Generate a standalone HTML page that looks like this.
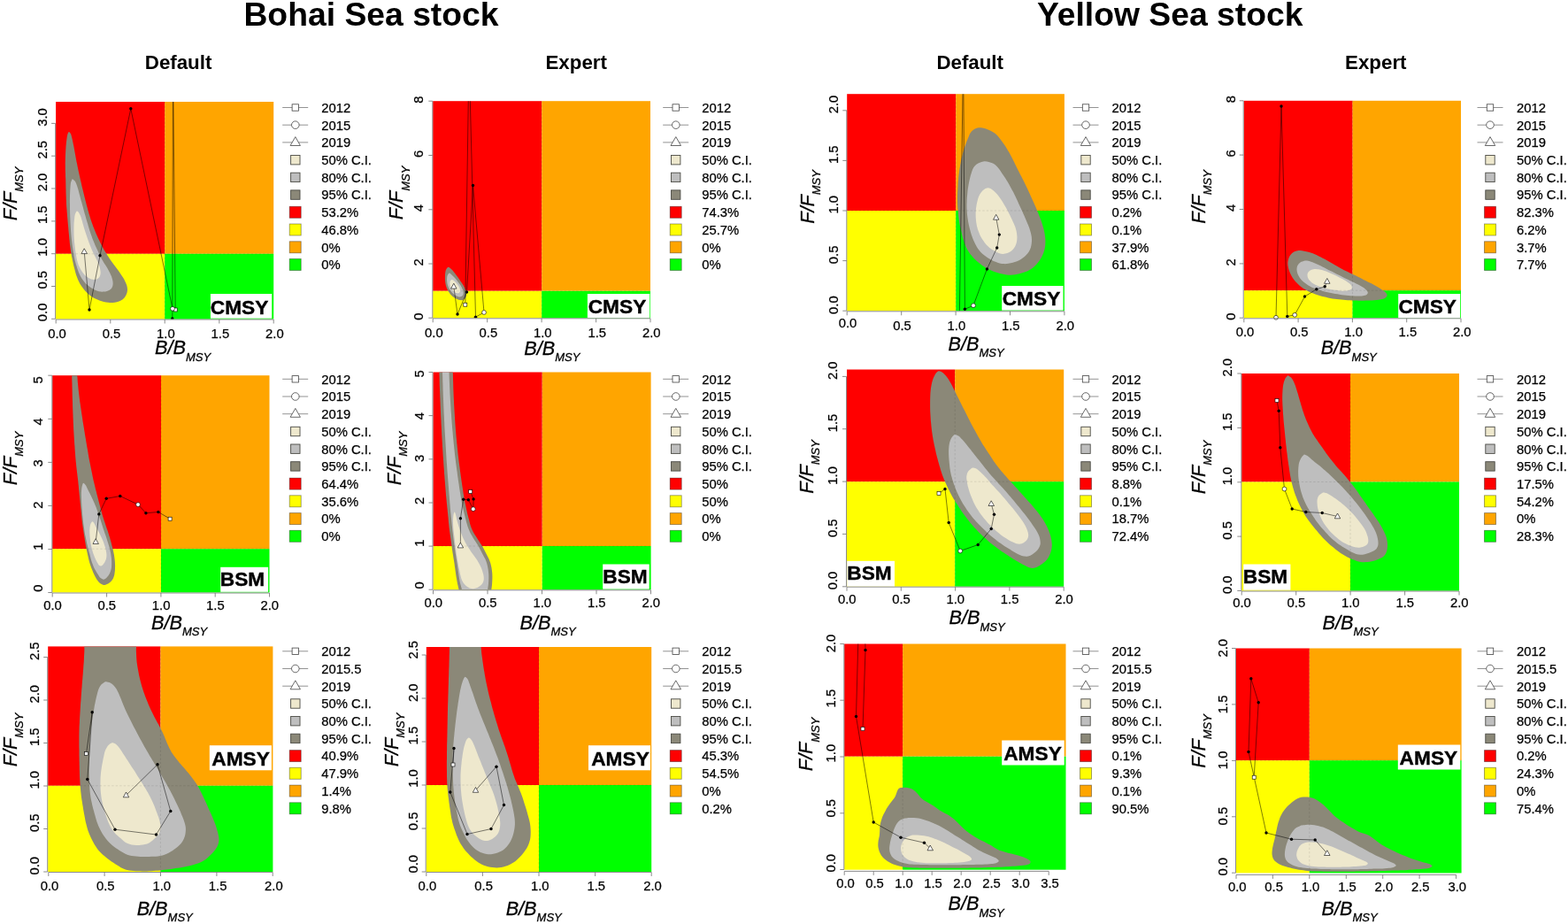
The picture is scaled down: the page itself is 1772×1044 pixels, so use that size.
<!DOCTYPE html>
<html lang="en">
<head>
<meta charset="utf-8">
<title>Kobe plots: Bohai Sea stock and Yellow Sea stock</title>
<style>
html,body{margin:0;padding:0;background:#fff;}
body{width:1772px;height:1044px;overflow:hidden;}
svg{display:block;font-family:"Liberation Sans",Arial,Helvetica,sans-serif;}
.t1{font-size:37.3px;font-weight:bold;fill:#000;}
.t2{font-size:22.3px;font-weight:bold;fill:#000;}
.ml{font-size:22.7px;font-weight:bold;fill:#000;stroke:#000;stroke-width:0.4px;}
.tk{font-size:14.8px;fill:#000;stroke:#000;stroke-width:0.25px;}
.lt{font-size:14.8px;fill:#000;stroke:#000;stroke-width:0.25px;}
.at{font-size:21.7px;font-style:italic;fill:#000;stroke:#000;stroke-width:0.3px;}
.sub{font-size:13px;}
.ax{stroke:#6e6e6e;stroke-width:0.8;fill:none;}
.ll{stroke:#777;stroke-width:0.8;fill:none;}
.lm{fill:#fff;stroke:#444;stroke-width:0.8;}
.lb{stroke:#4a4a44;stroke-width:0.9;}
.lq{stroke:rgba(0,0,0,0.4);stroke-width:0.9;}
</style>
</head>
<body>
<svg width="1772" height="1044" viewBox="0 0 1772 1044">
<rect width="1772" height="1044" fill="#fff"/>
<text x="419.5" y="29.4" class="t1" text-anchor="middle">Bohai Sea stock</text>
<text x="1322.2" y="29.4" class="t1" text-anchor="middle">Yellow Sea stock</text>
<text x="201.6" y="78.2" class="t2" text-anchor="middle">Default</text>
<text x="651.2" y="78.2" class="t2" text-anchor="middle">Expert</text>
<text x="1096.2" y="78.2" class="t2" text-anchor="middle">Default</text>
<text x="1554.8" y="78.2" class="t2" text-anchor="middle">Expert</text>
<g>
<clipPath id="c0"><rect x="63.1" y="115" width="246.2" height="245.5"/></clipPath>
<rect x="63.1" y="115" width="123.2" height="171.8" fill="#ff0000"/>
<rect x="186.2" y="115" width="123" height="171.8" fill="#ffa500"/>
<rect x="63.1" y="286.8" width="123.2" height="73.7" fill="#ffff00"/>
<rect x="186.2" y="286.8" width="123" height="73.7" fill="#00ff00"/>
<g clip-path="url(#c0)">
<path d="M77.8 148.9C77.2 149.1 76.6 150.9 76.2 152.3C75.8 153.7 75.6 155.6 75.4 157.2C75.1 158.9 75 160.5 74.8 162.2C74.6 163.9 74.5 165.5 74.4 167.2C74.3 168.8 74.2 170.5 74.1 172.2C74 173.8 74 175.5 73.9 177.2C73.8 178.8 73.8 180.5 73.8 182.2C73.7 183.8 73.7 185.5 73.8 187.2C73.8 188.8 73.8 190.5 73.8 192.2C73.9 193.8 73.9 195.5 74 197.2C74 198.8 74.1 200.5 74.2 202.2C74.2 203.8 74.3 205.5 74.3 207.2C74.3 208.8 74.4 210.5 74.4 212.2C74.5 213.8 74.5 215.5 74.5 217.2C74.6 218.8 74.6 220.5 74.7 222.2C74.7 223.8 74.8 225.5 74.9 227.2C74.9 228.8 75 230.5 75.1 232.2C75.2 233.8 75.4 235.5 75.5 237.1C75.6 238.8 75.7 240.5 75.9 242.1C76 243.8 76.1 245.5 76.3 247.1C76.4 248.8 76.6 250.4 76.7 252.1C76.9 253.8 77 255.4 77.2 257.1C77.3 258.7 77.5 260.4 77.6 262.1C77.8 263.7 77.9 265.4 78.1 267C78.2 268.7 78.4 270.4 78.6 272C78.7 273.7 78.9 275.3 79.1 277C79.3 278.6 79.6 280.3 79.8 281.9C80 283.6 80.3 285.2 80.6 286.9C80.8 288.5 81.1 290.2 81.5 291.8C81.8 293.4 82.1 295.1 82.5 296.7C82.9 298.3 83.2 299.9 83.6 301.6C84.1 303.2 84.5 304.8 84.9 306.4C85.4 308 85.8 309.6 86.3 311.2C86.9 312.8 87.4 314.3 88.1 315.9C88.8 317.4 89.5 318.9 90.3 320.4C91.1 321.8 92 323.2 93 324.6C93.9 325.9 95 327.2 96.1 328.4C97.2 329.7 98.4 330.8 99.7 331.9C100.9 333 102.2 334.1 103.6 335C105 336 106.4 336.9 107.9 337.6C109.3 338.4 110.9 339 112.4 339.6C114 340.1 115.6 340.6 117.2 340.9C118.9 341.3 120.5 341.5 122.2 341.7C123.8 341.9 125.5 342 127.2 341.9C128.8 341.8 130.5 341.7 132.1 341.3C133.7 340.9 135.3 340.3 136.7 339.5C138.1 338.7 139.4 337.6 140.5 336.4C141.5 335.2 142.4 333.7 143 332.2C143.6 330.7 144 329 144 327.4C144.1 325.8 143.7 324.1 143.3 322.5C142.8 321 142.1 319.4 141.4 317.9C140.7 316.4 139.8 315 139 313.6C138.1 312.1 137.2 310.8 136.3 309.4C135.3 308 134.4 306.6 133.4 305.3C132.4 303.9 131.4 302.6 130.4 301.3C129.4 300 128.3 298.6 127.4 297.3C126.4 295.9 125.4 294.6 124.5 293.2C123.6 291.8 122.6 290.4 121.7 289C120.9 287.6 120 286.2 119.1 284.8C118.3 283.3 117.4 281.9 116.6 280.4C115.8 279 115 277.5 114.3 276C113.5 274.5 112.8 273 112.1 271.5C111.3 270 110.6 268.5 110 267C109.3 265.5 108.6 264 108 262.4C107.3 260.9 106.7 259.3 106.1 257.8C105.5 256.2 104.9 254.7 104.3 253.1C103.8 251.5 103.2 249.9 102.7 248.4C102.2 246.8 101.7 245.2 101.2 243.6C100.7 242 100.3 240.4 99.8 238.8C99.4 237.2 98.9 235.6 98.5 234C98 232.4 97.6 230.7 97.2 229.1C96.8 227.5 96.4 225.9 96 224.3C95.6 222.7 95.2 221.1 94.8 219.4C94.4 217.8 94 216.2 93.6 214.6C93.2 212.9 92.8 211.3 92.4 209.7C92.1 208.1 91.7 206.5 91.3 204.8C90.9 203.2 90.6 201.6 90.2 200C89.8 198.3 89.5 196.7 89.1 195.1C88.8 193.4 88.4 191.8 88.1 190.2C87.7 188.5 87.4 186.9 87.1 185.3C86.7 183.6 86.4 182 86.1 180.4C85.8 178.7 85.5 177.1 85.2 175.4C84.9 173.8 84.6 172.2 84.3 170.5C84 168.9 83.7 167.3 83.4 165.6C83.1 164 82.7 162.3 82.4 160.7C82.1 159.1 81.7 157.4 81.3 155.8C80.9 154.2 80.5 152.3 79.9 151.1C79.3 149.9 78.4 148.7 77.8 148.9Z" fill="#8b8878"/>
<path d="M81.7 202.5C81.3 203.1 80.5 204.7 80.1 206.1C79.7 207.5 79.7 209.4 79.5 211.1C79.4 212.7 79.3 214.4 79.2 216.1C79.1 217.7 79.1 219.4 79 221.1C79 222.7 78.9 224.4 78.9 226.1C78.9 227.7 78.9 229.4 79 231.1C79 232.8 79 234.4 79 236.1C79.1 237.8 79.1 239.4 79.1 241.1C79.2 242.8 79.2 244.4 79.3 246.1C79.4 247.8 79.4 249.5 79.5 251.1C79.6 252.8 79.7 254.5 79.8 256.1C79.9 257.8 80 259.5 80.1 261.1C80.2 262.8 80.4 264.5 80.5 266.1C80.7 267.8 80.8 269.4 81 271.1C81.2 272.8 81.4 274.4 81.6 276.1C81.8 277.7 82 279.4 82.3 281C82.5 282.7 82.8 284.4 83.1 286C83.4 287.6 83.7 289.3 84 290.9C84.3 292.6 84.7 294.2 85.1 295.8C85.5 297.4 86 299 86.5 300.6C87 302.2 87.5 303.8 88.1 305.4C88.6 307 89.2 308.5 89.9 310C90.6 311.5 91.4 313 92.3 314.4C93.2 315.8 94.2 317.2 95.3 318.4C96.3 319.7 97.6 320.9 98.8 322C100 323.1 101.4 324.1 102.7 325.1C104.1 326 105.5 326.9 107 327.6C108.5 328.3 110.1 328.8 111.7 329.2C113.3 329.5 115 329.7 116.7 329.6C118.3 329.6 120.1 329.4 121.5 328.8C123 328.2 124.6 327.4 125.6 326.3C126.6 325.1 127.3 323.5 127.5 321.9C127.8 320.4 127.6 318.6 127.3 317C127.1 315.4 126.5 313.8 126 312.2C125.4 310.7 124.6 309.2 123.9 307.7C123.1 306.2 122.3 304.7 121.5 303.3C120.6 301.9 119.7 300.5 118.8 299.1C117.9 297.7 117 296.2 116.2 294.8C115.4 293.3 114.6 291.9 113.8 290.4C113 288.9 112.3 287.4 111.6 285.9C110.9 284.4 110.2 282.9 109.5 281.3C108.8 279.8 108.1 278.3 107.4 276.8C106.8 275.2 106.1 273.7 105.5 272.1C104.9 270.6 104.3 269 103.8 267.4C103.2 265.9 102.7 264.3 102.1 262.7C101.6 261.1 101.1 259.5 100.6 257.9C100.1 256.3 99.6 254.7 99.2 253.1C98.7 251.5 98.2 249.9 97.7 248.3C97.3 246.7 96.8 245.1 96.4 243.5C95.9 241.9 95.5 240.3 95 238.7C94.6 237.1 94.1 235.5 93.7 233.8C93.2 232.2 92.8 230.6 92.4 229C91.9 227.4 91.5 225.8 91 224.2C90.6 222.6 90.2 221 89.7 219.3C89.3 217.7 88.9 216.1 88.5 214.5C88 212.9 87.6 211.3 87 209.7C86.4 208.1 85.8 206.4 85 205.1C84.2 203.9 82.8 202.8 82.2 202.4C81.7 202 82.1 201.9 81.7 202.5Z" fill="#bebebe"/>
<path d="M86.6 238.7C86 239.2 85.3 240.9 84.8 242.3C84.4 243.7 84.2 245.5 84.1 247.2C83.9 248.9 83.7 250.5 83.6 252.2C83.5 253.9 83.5 255.5 83.5 257.2C83.4 258.9 83.5 260.5 83.5 262.2C83.5 263.9 83.5 265.5 83.6 267.2C83.7 268.9 83.8 270.6 83.9 272.2C84.1 273.9 84.2 275.5 84.4 277.2C84.6 278.9 84.8 280.5 85 282.2C85.2 283.8 85.5 285.5 85.8 287.1C86 288.8 86.3 290.4 86.7 292.1C87 293.7 87.4 295.3 87.9 296.9C88.4 298.5 89 300.1 89.7 301.6C90.4 303.1 91.2 304.6 92.1 306C93 307.3 94 308.7 95.1 309.9C96.2 311.1 97.4 312.3 98.8 313.2C100.1 314.2 101.7 315 103.2 315.4C104.8 315.8 106.6 316.1 108 315.8C109.5 315.5 111.1 314.6 112 313.5C113 312.4 113.4 310.6 113.6 309.1C113.8 307.5 113.4 305.8 113.2 304.2C112.9 302.5 112.4 300.9 111.8 299.3C111.3 297.8 110.6 296.2 109.9 294.7C109.2 293.2 108.4 291.7 107.7 290.3C106.9 288.8 106.1 287.3 105.4 285.8C104.7 284.3 104 282.7 103.4 281.2C102.7 279.7 102.1 278.1 101.5 276.6C100.9 275 100.3 273.4 99.8 271.9C99.2 270.3 98.7 268.7 98.1 267.1C97.6 265.5 97.1 264 96.6 262.4C96 260.8 95.5 259.2 95 257.6C94.6 256 94.1 254.4 93.6 252.8C93.2 251.2 92.8 249.5 92.3 248C91.8 246.4 91.3 244.7 90.7 243.2C90 241.8 89 240 88.3 239.2C87.7 238.5 87.2 238.2 86.6 238.7Z" fill="#eee8cd"/>
<path d="M63.1 286.8H309.2M186.2 115V360.5" fill="none" stroke="#000" stroke-opacity="0.16" stroke-width="0.6" stroke-dasharray="2.5 2"/>
<path d="M198.2 350L195.8 100" fill="none" stroke="#000" stroke-opacity="0.85" stroke-width="0.6"/>
<path d="M195.5 100L194.8 360" fill="none" stroke="#000" stroke-opacity="0.85" stroke-width="0.6"/>
<path d="M195 348.8L147.8 122.8L113 288.8L101 350L95.2 284.2" fill="none" stroke="#000" stroke-opacity="0.85" stroke-width="0.6"/>
<circle cx="194.8" cy="360" r="1.7" fill="#000"/>
<circle cx="147.8" cy="122.8" r="1.7" fill="#000"/>
<circle cx="113" cy="288.8" r="1.7" fill="#000"/>
<circle cx="101" cy="350" r="1.7" fill="#000"/>
</g>
<rect x="196.2" y="348" width="4" height="4" fill="#fff" stroke="#000" stroke-width="0.6"/>
<circle cx="195" cy="348.8" r="2.4" fill="#fff" stroke="#000" stroke-width="0.6"/>
<path d="M95.2 280.8 L98.5 286.6 L92 286.6 Z" fill="#fff" stroke="#000" stroke-width="0.6"/>
<rect x="237.9" y="332" width="69.3" height="27.7" fill="#fff"/>
<text x="270.6" y="354.9" class="ml" text-anchor="middle">CMSY</text>
<path d="M63.2 361H309.2" class="ax"/>
<path d="M63.2 361v4.5" class="ax"/>
<text x="64.5" y="382" class="tk" text-anchor="middle">0.0</text>
<path d="M124.8 361v4.5" class="ax"/>
<text x="126" y="382" class="tk" text-anchor="middle">0.5</text>
<path d="M186.2 361v4.5" class="ax"/>
<text x="187.4" y="382" class="tk" text-anchor="middle">1.0</text>
<path d="M247.8 361v4.5" class="ax"/>
<text x="248.9" y="382" class="tk" text-anchor="middle">1.5</text>
<path d="M309.2 361v4.5" class="ax"/>
<text x="310.4" y="382" class="tk" text-anchor="middle">2.0</text>
<path d="M62.6 360.3V139.4" class="ax"/>
<path d="M62.6 360.3h-4.5" class="ax"/>
<text transform="translate(52.8 352.9) rotate(-90)" class="tk" text-anchor="middle">0.0</text>
<path d="M62.6 323.5h-4.5" class="ax"/>
<text transform="translate(52.8 316.2) rotate(-90)" class="tk" text-anchor="middle">0.5</text>
<path d="M62.6 286.7h-4.5" class="ax"/>
<text transform="translate(52.8 279.4) rotate(-90)" class="tk" text-anchor="middle">1.0</text>
<path d="M62.6 249.9h-4.5" class="ax"/>
<text transform="translate(52.8 242.7) rotate(-90)" class="tk" text-anchor="middle">1.5</text>
<path d="M62.6 213h-4.5" class="ax"/>
<text transform="translate(52.8 206) rotate(-90)" class="tk" text-anchor="middle">2.0</text>
<path d="M62.6 176.2h-4.5" class="ax"/>
<text transform="translate(52.8 169.2) rotate(-90)" class="tk" text-anchor="middle">2.5</text>
<path d="M62.6 139.4h-4.5" class="ax"/>
<text transform="translate(52.8 132.5) rotate(-90)" class="tk" text-anchor="middle">3.0</text>
<text x="206.5" y="400.2" class="at" text-anchor="middle">B/B<tspan class="sub" dy="7.6">MSY</tspan></text>
<text transform="translate(18.8 219) rotate(-90)" class="at" text-anchor="middle">F/F<tspan class="sub" dy="7.6">MSY</tspan></text>
<path d="M319.2 121.5H348.2" class="ll"/>
<rect x="330.1" y="117.8" width="7.4" height="7.4" class="lm"/>
<text x="363.2" y="126.8" class="lt">2012</text>
<path d="M319.2 141.2H348.2" class="ll"/>
<circle cx="333.8" cy="141.2" r="4.3" class="lm"/>
<text x="363.2" y="146.5" class="lt">2015</text>
<path d="M319.2 160.9H348.2" class="ll"/>
<path d="M333.8 154.6L339.4 164.5L328.1 164.5Z" class="lm"/>
<text x="363.2" y="166.2" class="lt">2019</text>
<rect x="328.6" y="175.5" width="10.4" height="10.4" fill="#eee8cd" class="lb"/>
<text x="363.2" y="186" class="lt">50% C.I.</text>
<rect x="328.6" y="195.2" width="10.4" height="10.4" fill="#bebebe" class="lb"/>
<text x="363.2" y="205.7" class="lt">80% C.I.</text>
<rect x="328.6" y="214.9" width="10.4" height="10.4" fill="#8b8878" class="lb"/>
<text x="363.2" y="225.4" class="lt">95% C.I.</text>
<rect x="327.2" y="233.3" width="13" height="13" fill="#ff0000" class="lq"/>
<text x="363.2" y="245.1" class="lt">53.2%</text>
<rect x="327.2" y="253" width="13" height="13" fill="#ffff00" class="lq"/>
<text x="363.2" y="264.8" class="lt">46.8%</text>
<rect x="327.2" y="272.8" width="13" height="13" fill="#ffa500" class="lq"/>
<text x="363.2" y="284.6" class="lt">0%</text>
<rect x="327.2" y="292.5" width="13" height="13" fill="#00ff00" class="lq"/>
<text x="363.2" y="304.3" class="lt">0%</text>
</g>
<g>
<clipPath id="c1"><rect x="489.2" y="114.2" width="245.8" height="245"/></clipPath>
<rect x="489.2" y="114.2" width="123" height="214.5" fill="#ff0000"/>
<rect x="612.2" y="114.2" width="122.8" height="214.5" fill="#ffa500"/>
<rect x="489.2" y="328.8" width="123" height="30.5" fill="#ffff00"/>
<rect x="612.2" y="328.8" width="122.8" height="30.5" fill="#00ff00"/>
<g clip-path="url(#c1)">
<path d="M506.1 301.9C505.4 302.4 504.4 303.9 503.8 305.3C503.3 306.7 503.2 308.6 503 310.2C502.9 311.9 502.9 313.6 502.9 315.2C503 316.9 503.1 318.6 503.4 320.2C503.7 321.9 504.1 323.5 504.7 325.1C505.3 326.6 506 328.2 506.9 329.6C507.8 331 508.8 332.3 510 333.5C511.1 334.7 512.5 335.7 513.8 336.6C515.2 337.5 516.8 338.4 518.3 338.8C519.8 339.2 521.7 339.6 523 339.1C524.3 338.7 525.6 337.4 526.2 336.1C526.9 334.8 527 332.9 526.9 331.3C526.8 329.7 526.3 328.1 525.7 326.5C525.1 325 524.2 323.5 523.4 322.1C522.5 320.6 521.6 319.3 520.6 317.9C519.7 316.5 518.7 315.1 517.8 313.7C516.8 312.4 515.8 311 514.8 309.7C513.7 308.4 512.8 307 511.7 305.7C510.6 304.5 509.1 303 508.2 302.4C507.3 301.7 506.8 301.4 506.1 301.9Z" fill="#8b8878"/>
<path d="M507.4 308.8C506.7 309.3 505.8 310.7 505.4 312.1C505.1 313.5 505 315.4 505.1 317.1C505.2 318.7 505.4 320.4 505.9 322C506.3 323.6 507 325.1 507.8 326.6C508.6 328 509.6 329.3 510.8 330.5C511.9 331.7 513.2 332.9 514.6 333.7C516 334.5 517.7 335.3 519.1 335.4C520.5 335.4 522.2 334.8 522.9 333.8C523.7 332.8 523.8 330.9 523.6 329.4C523.4 327.9 522.5 326.3 521.8 324.8C521 323.3 520.1 321.9 519.1 320.6C518.1 319.2 517.1 317.9 516.1 316.6C515 315.3 513.9 314 512.8 312.8C511.7 311.6 510.3 310.1 509.4 309.4C508.5 308.7 508 308.3 507.4 308.8Z" fill="#bebebe"/>
<path d="M510 316.2C509.7 316.4 509.2 316.7 508.9 317.2C508.7 317.6 508.5 318.2 508.4 318.8C508.3 319.4 508.3 320.1 508.3 320.7C508.3 321.3 508.5 322 508.6 322.6C508.8 323.3 509 323.9 509.3 324.5C509.6 325.1 509.9 325.7 510.2 326.2C510.6 326.8 511 327.3 511.4 327.8C511.8 328.3 512.3 328.8 512.8 329.2C513.3 329.7 513.8 330.1 514.4 330.4C514.9 330.7 515.5 331 516.1 331.1C516.7 331.3 517.3 331.4 517.8 331.3C518.3 331.2 518.8 330.9 519.1 330.6C519.5 330.2 519.7 329.7 519.9 329.2C520 328.7 520 328 519.9 327.4C519.8 326.8 519.6 326.2 519.4 325.6C519.2 325 518.9 324.4 518.6 323.8C518.2 323.2 517.9 322.6 517.5 322.1C517.1 321.5 516.7 321 516.3 320.5C515.9 319.9 515.5 319.4 515 318.9C514.5 318.4 514.1 318 513.6 317.5C513.1 317.1 512.6 316.7 512.1 316.5C511.6 316.2 511 316.1 510.6 316C510.3 316 510.2 316 510 316.2Z" fill="#eee8cd"/>
<path d="M489.2 328.8H735M612.2 114.2V359.2" fill="none" stroke="#000" stroke-opacity="0.16" stroke-width="0.6" stroke-dasharray="2.5 2"/>
<path d="M525.8 344.2L529.5 100" fill="none" stroke="#000" stroke-opacity="0.85" stroke-width="0.6"/>
<path d="M531 100L537.5 358.2L547 353L534.5 209.5L527.5 330L517 355L512.8 323.8" fill="none" stroke="#000" stroke-opacity="0.85" stroke-width="0.6"/>
<circle cx="537.5" cy="358.2" r="1.7" fill="#000"/>
<circle cx="534.5" cy="209.5" r="1.7" fill="#000"/>
<circle cx="527.5" cy="330" r="1.7" fill="#000"/>
<circle cx="517" cy="355" r="1.7" fill="#000"/>
</g>
<rect x="523.8" y="342.2" width="4" height="4" fill="#fff" stroke="#000" stroke-width="0.6"/>
<circle cx="547" cy="353" r="2.4" fill="#fff" stroke="#000" stroke-width="0.6"/>
<path d="M512.8 320.2 L516 326.1 L509.6 326.1 Z" fill="#fff" stroke="#000" stroke-width="0.6"/>
<rect x="663.9" y="332" width="70.4" height="27.2" fill="#fff"/>
<text x="697.5" y="353.6" class="ml" text-anchor="middle">CMSY</text>
<path d="M489.2 359.8H735" class="ax"/>
<path d="M489.2 359.8v4.5" class="ax"/>
<text x="490.4" y="380.8" class="tk" text-anchor="middle">0.0</text>
<path d="M550.7 359.8v4.5" class="ax"/>
<text x="551.9" y="380.8" class="tk" text-anchor="middle">0.5</text>
<path d="M612.1 359.8v4.5" class="ax"/>
<text x="613.3" y="380.8" class="tk" text-anchor="middle">1.0</text>
<path d="M673.6 359.8v4.5" class="ax"/>
<text x="674.8" y="380.8" class="tk" text-anchor="middle">1.5</text>
<path d="M735 359.8v4.5" class="ax"/>
<text x="736.2" y="380.8" class="tk" text-anchor="middle">2.0</text>
<path d="M488.8 359.2V114.2" class="ax"/>
<path d="M488.8 359.2h-4.5" class="ax"/>
<text transform="translate(478 357.6) rotate(-90)" class="tk" text-anchor="middle">0</text>
<path d="M488.8 298h-4.5" class="ax"/>
<text transform="translate(478 296.4) rotate(-90)" class="tk" text-anchor="middle">2</text>
<path d="M488.8 236.8h-4.5" class="ax"/>
<text transform="translate(478 235.2) rotate(-90)" class="tk" text-anchor="middle">4</text>
<path d="M488.8 175.5h-4.5" class="ax"/>
<text transform="translate(478 173.9) rotate(-90)" class="tk" text-anchor="middle">6</text>
<path d="M488.8 114.2h-4.5" class="ax"/>
<text transform="translate(478 112.7) rotate(-90)" class="tk" text-anchor="middle">8</text>
<text x="623.8" y="400.8" class="at" text-anchor="middle">B/B<tspan class="sub" dy="7.6">MSY</tspan></text>
<text transform="translate(455 218) rotate(-90)" class="at" text-anchor="middle">F/F<tspan class="sub" dy="7.6">MSY</tspan></text>
<path d="M749.2 121.5H778.2" class="ll"/>
<rect x="760" y="117.8" width="7.4" height="7.4" class="lm"/>
<text x="793.2" y="126.8" class="lt">2012</text>
<path d="M749.2 141.2H778.2" class="ll"/>
<circle cx="763.8" cy="141.2" r="4.3" class="lm"/>
<text x="793.2" y="146.5" class="lt">2015</text>
<path d="M749.2 160.9H778.2" class="ll"/>
<path d="M763.8 154.6L769.5 164.5L758 164.5Z" class="lm"/>
<text x="793.2" y="166.2" class="lt">2019</text>
<rect x="758.5" y="175.5" width="10.4" height="10.4" fill="#eee8cd" class="lb"/>
<text x="793.2" y="186" class="lt">50% C.I.</text>
<rect x="758.5" y="195.2" width="10.4" height="10.4" fill="#bebebe" class="lb"/>
<text x="793.2" y="205.7" class="lt">80% C.I.</text>
<rect x="758.5" y="214.9" width="10.4" height="10.4" fill="#8b8878" class="lb"/>
<text x="793.2" y="225.4" class="lt">95% C.I.</text>
<rect x="757.2" y="233.3" width="13" height="13" fill="#ff0000" class="lq"/>
<text x="793.2" y="245.1" class="lt">74.3%</text>
<rect x="757.2" y="253" width="13" height="13" fill="#ffff00" class="lq"/>
<text x="793.2" y="264.8" class="lt">25.7%</text>
<rect x="757.2" y="272.8" width="13" height="13" fill="#ffa500" class="lq"/>
<text x="793.2" y="284.6" class="lt">0%</text>
<rect x="757.2" y="292.5" width="13" height="13" fill="#00ff00" class="lq"/>
<text x="793.2" y="304.3" class="lt">0%</text>
</g>
<g>
<clipPath id="c2"><rect x="957.2" y="106.2" width="245.7" height="245"/></clipPath>
<rect x="957.2" y="106.2" width="123" height="131.8" fill="#ff0000"/>
<rect x="1080.2" y="106.2" width="122.7" height="131.8" fill="#ffa500"/>
<rect x="957.2" y="238" width="123" height="113.2" fill="#ffff00"/>
<rect x="1080.2" y="238" width="122.7" height="113.2" fill="#00ff00"/>
<g clip-path="url(#c2)">
<path d="M1107.7 144.2C1109 144.3 1111 144.6 1112.5 145C1114.1 145.4 1115.7 146.1 1117.2 146.7C1118.7 147.4 1120.3 148.1 1121.7 148.9C1123.1 149.7 1124.5 150.7 1125.7 151.8C1127 152.9 1128 154.2 1129.1 155.5C1130.2 156.8 1131.1 158.1 1132.1 159.5C1133.1 160.8 1134 162.2 1135 163.6C1135.9 165 1136.8 166.4 1137.7 167.8C1138.6 169.2 1139.4 170.7 1140.3 172.1C1141.1 173.5 1141.9 175 1142.7 176.5C1143.5 177.9 1144.3 179.4 1145 180.9C1145.8 182.4 1146.5 183.9 1147.2 185.4C1147.9 186.9 1148.7 188.4 1149.4 189.9C1150.2 191.4 1150.9 192.9 1151.7 194.4C1152.4 195.9 1153.2 197.4 1153.9 198.8C1154.7 200.3 1155.4 201.8 1156.2 203.3C1156.9 204.8 1157.7 206.3 1158.4 207.8C1159.1 209.3 1159.9 210.8 1160.6 212.3C1161.3 213.8 1162 215.3 1162.7 216.8C1163.4 218.3 1164.1 219.9 1164.8 221.4C1165.5 222.9 1166.2 224.4 1166.9 225.9C1167.6 227.5 1168.2 229 1168.9 230.5C1169.6 232 1170.3 233.6 1170.9 235.1C1171.6 236.6 1172.2 238.2 1172.8 239.7C1173.5 241.3 1174.1 242.8 1174.7 244.4C1175.3 245.9 1175.9 247.5 1176.5 249.1C1177 250.6 1177.5 252.2 1178 253.8C1178.5 255.4 1179 257 1179.4 258.6C1179.8 260.2 1180.2 261.9 1180.5 263.5C1180.8 265.1 1181 266.8 1181.2 268.5C1181.4 270.1 1181.4 271.8 1181.4 273.4C1181.4 275.1 1181.3 276.8 1181.1 278.4C1180.8 280.1 1180.5 281.7 1180 283.3C1179.6 284.9 1179 286.5 1178.3 288C1177.6 289.5 1176.9 291 1176 292.4C1175.1 293.8 1174.2 295.2 1173.1 296.5C1172.1 297.8 1171 299 1169.8 300.2C1168.6 301.4 1167.3 302.5 1166 303.4C1164.6 304.4 1163.2 305.2 1161.7 305.9C1160.2 306.6 1158.6 307.2 1157 307.8C1155.5 308.3 1153.8 308.8 1152.2 309.2C1150.6 309.6 1149 309.9 1147.3 310.2C1145.7 310.4 1144 310.6 1142.4 310.7C1140.7 310.7 1139 310.6 1137.4 310.4C1135.7 310.3 1134.1 310 1132.5 309.6C1130.8 309.3 1129.2 308.8 1127.6 308.3C1126 307.8 1124.4 307.3 1122.9 306.7C1121.3 306.1 1119.8 305.5 1118.3 304.8C1116.8 304 1115.3 303.2 1113.9 302.4C1112.4 301.5 1111 300.6 1109.7 299.7C1108.3 298.7 1107 297.7 1105.7 296.6C1104.4 295.6 1103.2 294.5 1102 293.3C1100.8 292.1 1099.6 290.9 1098.6 289.6C1097.5 288.4 1096.4 287.1 1095.5 285.7C1094.5 284.3 1093.6 282.9 1092.9 281.5C1092.1 280 1091.5 278.4 1090.8 276.9C1090.2 275.4 1089.7 273.8 1089.2 272.2C1088.6 270.6 1088.2 269 1087.7 267.4C1087.3 265.8 1086.9 264.1 1086.6 262.5C1086.2 260.9 1085.8 259.3 1085.5 257.6C1085.1 256 1084.7 254.4 1084.4 252.7C1084.1 251.1 1083.8 249.5 1083.6 247.8C1083.4 246.2 1083.2 244.5 1083 242.8C1082.8 241.2 1082.7 239.5 1082.6 237.8C1082.4 236.2 1082.3 234.5 1082.2 232.9C1082.1 231.2 1082.1 229.5 1082 227.9C1082 226.2 1082 224.5 1082 222.8C1082 221.2 1082.1 219.5 1082.1 217.8C1082.2 216.2 1082.3 214.5 1082.4 212.8C1082.5 211.2 1082.6 209.5 1082.6 207.8C1082.7 206.2 1082.8 204.5 1083 202.8C1083.1 201.2 1083.2 199.5 1083.4 197.9C1083.6 196.2 1083.9 194.6 1084.1 192.9C1084.3 191.3 1084.6 189.6 1084.9 188C1085.2 186.3 1085.4 184.7 1085.8 183C1086.1 181.4 1086.4 179.8 1086.8 178.1C1087.2 176.5 1087.6 174.9 1088 173.3C1088.5 171.7 1088.9 170.1 1089.4 168.5C1089.9 166.9 1090.5 165.3 1091 163.7C1091.6 162.2 1092.1 160.6 1092.8 159C1093.4 157.5 1094 155.9 1094.7 154.4C1095.3 152.9 1095.9 151.3 1096.8 150C1097.8 148.6 1098.9 147.5 1100.3 146.6C1101.6 145.7 1103.5 145 1104.8 144.6C1106 144.2 1106.4 144.1 1107.7 144.2Z" fill="#8b8878"/>
<path d="M1112.5 182.2C1114.1 182.1 1115.8 182.5 1117.4 182.9C1119 183.3 1120.6 183.9 1122 184.6C1123.5 185.4 1124.9 186.3 1126.1 187.4C1127.3 188.5 1128.2 189.9 1129.3 191.3C1130.3 192.6 1131.2 194 1132.1 195.4C1133.1 196.7 1134 198.1 1134.9 199.5C1135.8 200.9 1136.7 202.3 1137.6 203.8C1138.5 205.2 1139.3 206.6 1140.2 208C1141 209.5 1141.8 210.9 1142.6 212.4C1143.4 213.9 1144.2 215.3 1145 216.8C1145.7 218.3 1146.4 219.8 1147.2 221.3C1147.9 222.8 1148.6 224.3 1149.3 225.8C1150 227.4 1150.7 228.9 1151.4 230.4C1152.1 231.9 1152.8 233.4 1153.5 234.9C1154.2 236.5 1154.9 238 1155.6 239.5C1156.2 241 1156.9 242.6 1157.6 244.1C1158.2 245.6 1158.9 247.2 1159.6 248.7C1160.2 250.2 1160.9 251.7 1161.5 253.3C1162.2 254.8 1162.8 256.4 1163.4 257.9C1163.9 259.5 1164.4 261.1 1164.8 262.7C1165.2 264.4 1165.6 266 1165.8 267.6C1166 269.3 1166 271 1166 272.6C1165.9 274.3 1165.8 276 1165.4 277.6C1165.1 279.2 1164.6 280.8 1163.9 282.3C1163.2 283.8 1162.3 285.2 1161.2 286.5C1160.2 287.8 1159 289 1157.8 290.1C1156.5 291.1 1155.1 292.1 1153.7 293C1152.3 293.8 1150.8 294.5 1149.3 295.2C1147.7 295.8 1146.1 296.3 1144.5 296.8C1142.9 297.2 1141.3 297.6 1139.6 297.8C1138 298 1136.3 298.2 1134.7 298.1C1133 298 1131.4 297.8 1129.7 297.4C1128.1 297 1126.6 296.4 1125 295.8C1123.5 295.2 1122 294.5 1120.5 293.7C1119 292.9 1117.6 292.1 1116.2 291.2C1114.8 290.2 1113.4 289.3 1112.1 288.2C1110.8 287.2 1109.5 286.1 1108.4 284.9C1107.2 283.7 1106.2 282.4 1105.2 281.1C1104.3 279.7 1103.5 278.3 1102.7 276.8C1101.9 275.3 1101.2 273.8 1100.5 272.3C1099.8 270.8 1099.2 269.2 1098.6 267.6C1098.1 266.1 1097.6 264.5 1097.1 262.9C1096.7 261.3 1096.2 259.7 1095.8 258C1095.4 256.4 1095 254.8 1094.7 253.2C1094.3 251.5 1094 249.9 1093.8 248.2C1093.5 246.6 1093.3 244.9 1093.1 243.3C1092.9 241.6 1092.8 240 1092.7 238.3C1092.6 236.6 1092.5 235 1092.5 233.3C1092.5 231.6 1092.5 230 1092.6 228.3C1092.6 226.6 1092.7 224.9 1092.8 223.3C1093 221.6 1093.1 220 1093.3 218.3C1093.4 216.6 1093.6 215 1093.8 213.3C1094.1 211.7 1094.3 210 1094.6 208.4C1094.9 206.7 1095.2 205.1 1095.6 203.5C1096 201.8 1096.4 200.2 1096.8 198.6C1097.3 197 1097.7 195.4 1098.3 193.8C1098.8 192.3 1099.3 190.6 1100.2 189.2C1101 187.9 1102.1 186.7 1103.4 185.7C1104.7 184.7 1106.2 183.9 1107.8 183.4C1109.3 182.8 1110.9 182.3 1112.5 182.2Z" fill="#bebebe"/>
<path d="M1116.6 212.3C1118 212.3 1119.6 213.2 1120.9 214C1122.3 214.8 1123.5 216.1 1124.7 217.3C1125.9 218.4 1127 219.7 1128.1 221C1129.1 222.3 1130.1 223.6 1131 225C1131.9 226.4 1132.8 227.8 1133.7 229.2C1134.6 230.7 1135.4 232.1 1136.2 233.6C1137.1 235 1137.9 236.5 1138.7 238C1139.4 239.4 1140.2 240.9 1141 242.4C1141.7 243.9 1142.4 245.4 1143.1 246.9C1143.8 248.5 1144.5 250 1145.2 251.5C1145.9 253 1146.6 254.6 1147.2 256.1C1147.7 257.7 1148.2 259.3 1148.6 260.9C1149 262.5 1149.2 264.2 1149.3 265.9C1149.5 267.5 1149.5 269.2 1149.3 270.8C1149.2 272.5 1148.9 274.2 1148.3 275.7C1147.8 277.3 1147.1 278.8 1146.2 280.1C1145.2 281.5 1144 282.7 1142.7 283.7C1141.4 284.6 1139.9 285.5 1138.4 286.1C1136.9 286.6 1135.2 286.9 1133.6 286.9C1132 286.9 1130.3 286.4 1128.7 285.9C1127.2 285.4 1125.7 284.6 1124.2 283.8C1122.7 283 1121.3 282.1 1120 281.2C1118.6 280.2 1117.3 279.1 1116.2 277.9C1115 276.8 1113.8 275.5 1112.8 274.2C1111.8 272.9 1110.8 271.5 1109.9 270.1C1109.1 268.7 1108.3 267.2 1107.5 265.7C1106.8 264.2 1106.2 262.7 1105.6 261.1C1105.1 259.5 1104.6 257.9 1104.2 256.3C1103.8 254.7 1103.5 253 1103.3 251.4C1103 249.7 1102.9 248 1102.8 246.4C1102.7 244.7 1102.6 243 1102.6 241.4C1102.7 239.7 1102.8 238 1102.9 236.4C1103.1 234.7 1103.3 233.1 1103.6 231.4C1103.9 229.8 1104.3 228.1 1104.7 226.5C1105.1 224.9 1105.6 223.3 1106.2 221.8C1106.9 220.3 1107.7 218.8 1108.7 217.5C1109.7 216.2 1110.9 214.9 1112.2 214C1113.6 213.2 1115.1 212.3 1116.6 212.3Z" fill="#eee8cd"/>
<path d="M957.2 238H1202.9M1080.2 106.2V351.2" fill="none" stroke="#000" stroke-opacity="0.16" stroke-width="0.6" stroke-dasharray="2.5 2"/>
<path d="M1084.4 351.4L1088 104" fill="none" stroke="#000" stroke-opacity="0.85" stroke-width="0.6"/>
<path d="M1088.9 104L1090.4 349.3L1100 345.2L1115.4 304L1126.7 280L1129.3 265.1L1125.7 245.9" fill="none" stroke="#000" stroke-opacity="0.85" stroke-width="0.6"/>
<circle cx="1090.4" cy="349.3" r="1.7" fill="#000"/>
<circle cx="1115.4" cy="304" r="1.7" fill="#000"/>
<circle cx="1126.7" cy="280" r="1.7" fill="#000"/>
<circle cx="1129.3" cy="265.1" r="1.7" fill="#000"/>
</g>
<circle cx="1100" cy="345.2" r="2.4" fill="#fff" stroke="#000" stroke-width="0.6"/>
<path d="M1125.7 242.4 L1128.9 248.2 L1122.5 248.2 Z" fill="#fff" stroke="#000" stroke-width="0.6"/>
<rect x="1132.2" y="323" width="69.3" height="27.6" fill="#fff"/>
<text x="1165.5" y="344.9" class="ml" text-anchor="middle">CMSY</text>
<path d="M957.2 351.8H1202.9" class="ax"/>
<path d="M957.2 351.8v4.5" class="ax"/>
<text x="958" y="369.9" class="tk" text-anchor="middle">0.0</text>
<path d="M1018.7 351.8v4.5" class="ax"/>
<text x="1019.5" y="373" class="tk" text-anchor="middle">0.5</text>
<path d="M1080.1 351.8v4.5" class="ax"/>
<text x="1080.9" y="372.8" class="tk" text-anchor="middle">1.0</text>
<path d="M1141.5 351.8v4.5" class="ax"/>
<text x="1142.3" y="372.8" class="tk" text-anchor="middle">1.5</text>
<path d="M1202.9 351.8v4.5" class="ax"/>
<text x="1203.7" y="372.8" class="tk" text-anchor="middle">2.0</text>
<path d="M956.8 351.2V124.8" class="ax"/>
<path d="M956.8 351.2h-4.5" class="ax"/>
<text transform="translate(947.2 344.6) rotate(-90)" class="tk" text-anchor="middle">0.0</text>
<path d="M956.8 294.6h-4.5" class="ax"/>
<text transform="translate(947.2 287.9) rotate(-90)" class="tk" text-anchor="middle">0.5</text>
<path d="M956.8 238h-4.5" class="ax"/>
<text transform="translate(947.2 231.3) rotate(-90)" class="tk" text-anchor="middle">1.0</text>
<path d="M956.8 181.4h-4.5" class="ax"/>
<text transform="translate(947.2 174.7) rotate(-90)" class="tk" text-anchor="middle">1.5</text>
<path d="M956.8 124.8h-4.5" class="ax"/>
<text transform="translate(947.2 118) rotate(-90)" class="tk" text-anchor="middle">2.0</text>
<text x="1103" y="395.5" class="at" text-anchor="middle">B/B<tspan class="sub" dy="7.6">MSY</tspan></text>
<text transform="translate(919.8 222.5) rotate(-90)" class="at" text-anchor="middle">F/F<tspan class="sub" dy="7.6">MSY</tspan></text>
<path d="M1212.5 121.5H1241.5" class="ll"/>
<rect x="1223.3" y="117.8" width="7.4" height="7.4" class="lm"/>
<text x="1256.5" y="126.8" class="lt">2012</text>
<path d="M1212.5 141.2H1241.5" class="ll"/>
<circle cx="1227" cy="141.2" r="4.3" class="lm"/>
<text x="1256.5" y="146.5" class="lt">2015</text>
<path d="M1212.5 160.9H1241.5" class="ll"/>
<path d="M1227 154.6L1232.7 164.5L1221.3 164.5Z" class="lm"/>
<text x="1256.5" y="166.2" class="lt">2019</text>
<rect x="1221.8" y="175.5" width="10.4" height="10.4" fill="#eee8cd" class="lb"/>
<text x="1256.5" y="186" class="lt">50% C.I.</text>
<rect x="1221.8" y="195.2" width="10.4" height="10.4" fill="#bebebe" class="lb"/>
<text x="1256.5" y="205.7" class="lt">80% C.I.</text>
<rect x="1221.8" y="214.9" width="10.4" height="10.4" fill="#8b8878" class="lb"/>
<text x="1256.5" y="225.4" class="lt">95% C.I.</text>
<rect x="1220.5" y="233.3" width="13" height="13" fill="#ff0000" class="lq"/>
<text x="1256.5" y="245.1" class="lt">0.2%</text>
<rect x="1220.5" y="253" width="13" height="13" fill="#ffff00" class="lq"/>
<text x="1256.5" y="264.8" class="lt">0.1%</text>
<rect x="1220.5" y="272.8" width="13" height="13" fill="#ffa500" class="lq"/>
<text x="1256.5" y="284.6" class="lt">37.9%</text>
<rect x="1220.5" y="292.5" width="13" height="13" fill="#00ff00" class="lq"/>
<text x="1256.5" y="304.3" class="lt">61.8%</text>
</g>
<g>
<clipPath id="c3"><rect x="59.2" y="424.2" width="245.2" height="245.2"/></clipPath>
<rect x="59.2" y="424.2" width="122.8" height="196" fill="#ff0000"/>
<rect x="182" y="424.2" width="122.5" height="196" fill="#ffa500"/>
<rect x="59.2" y="620.2" width="122.8" height="49.2" fill="#ffff00"/>
<rect x="182" y="620.2" width="122.5" height="49.2" fill="#00ff00"/>
<g clip-path="url(#c3)">
<path d="M86 406.9C86.7 407.9 86.9 409.9 87 411.5C87.2 413.1 87.1 414.9 87.1 416.5C87.1 418.2 87.1 419.9 87.2 421.5C87.2 423.2 87.3 424.9 87.5 426.5C87.6 428.2 87.7 429.9 87.8 431.5C88 433.2 88.1 434.8 88.3 436.5C88.4 438.2 88.6 439.8 88.8 441.5C89 443.1 89.2 444.8 89.4 446.5C89.6 448.1 89.8 449.8 90 451.4C90.2 453.1 90.4 454.7 90.7 456.4C90.9 458 91.2 459.7 91.4 461.3C91.6 463 91.9 464.6 92.1 466.3C92.4 467.9 92.6 469.6 92.9 471.2C93.1 472.9 93.4 474.5 93.6 476.2C93.9 477.8 94.2 479.5 94.4 481.1C94.7 482.8 95 484.4 95.2 486.1C95.5 487.7 95.8 489.3 96 491C96.3 492.6 96.6 494.3 96.9 495.9C97.1 497.6 97.4 499.2 97.7 500.9C98 502.5 98.2 504.2 98.5 505.8C98.8 507.4 99.1 509.1 99.4 510.7C99.6 512.4 99.9 514 100.2 515.7C100.5 517.3 100.8 518.9 101.1 520.6C101.4 522.2 101.8 523.8 102.1 525.5C102.4 527.1 102.8 528.8 103.1 530.4C103.4 532 103.8 533.7 104.1 535.3C104.4 536.9 104.7 538.6 105.1 540.2C105.4 541.8 105.8 543.5 106.2 545.1C106.6 546.7 107 548.3 107.4 549.9C107.8 551.6 108.2 553.2 108.6 554.8C109 556.4 109.4 558 109.8 559.6C110.2 561.3 110.7 562.9 111.1 564.5C111.5 566.1 111.9 567.7 112.3 569.3C112.8 570.9 113.2 572.6 113.6 574.2C114 575.8 114.5 577.4 114.9 579C115.4 580.6 115.8 582.2 116.3 583.8C116.8 585.4 117.3 587 117.8 588.6C118.3 590.2 118.9 591.7 119.4 593.3C119.9 594.9 120.5 596.5 121 598.1C121.6 599.6 122.1 601.2 122.6 602.8C123.1 604.4 123.6 606 124.1 607.6C124.5 609.2 125 610.8 125.5 612.4C125.9 614 126.3 615.6 126.7 617.2C127.2 618.8 127.6 620.5 127.9 622.1C128.3 623.7 128.6 625.4 128.9 627C129.2 628.7 129.4 630.3 129.6 632C129.8 633.6 129.9 635.3 130 636.9C130.1 638.6 130.1 640.3 130 641.9C130 643.6 129.9 645.3 129.6 646.9C129.4 648.6 129.2 650.3 128.6 651.8C128.1 653.3 127.4 654.8 126.3 656.1C125.3 657.3 124 658.4 122.6 659.2C121.2 660 119.6 660.8 118.1 660.9C116.6 660.9 115 660.2 113.8 659.4C112.5 658.6 111.3 657.2 110.3 655.9C109.3 654.6 108.5 653.1 107.7 651.7C106.9 650.2 106.2 648.7 105.5 647.2C104.8 645.6 104.2 644.1 103.6 642.5C103 641 102.4 639.4 101.9 637.8C101.4 636.3 100.9 634.6 100.5 633C100.1 631.4 99.8 629.8 99.4 628.2C99 626.5 98.7 624.9 98.3 623.3C98 621.6 97.7 620 97.3 618.4C97 616.7 96.7 615.1 96.4 613.4C96.1 611.8 95.9 610.2 95.6 608.5C95.3 606.9 95.1 605.2 94.8 603.6C94.6 601.9 94.3 600.3 94.1 598.6C93.8 597 93.6 595.3 93.4 593.7C93.1 592 92.9 590.4 92.7 588.7C92.5 587 92.4 585.4 92.2 583.7C92 582.1 91.9 580.4 91.7 578.7C91.6 577.1 91.4 575.4 91.2 573.8C91.1 572.1 90.9 570.4 90.7 568.8C90.6 567.1 90.4 565.5 90.2 563.8C90.1 562.1 89.9 560.5 89.7 558.8C89.6 557.2 89.4 555.5 89.2 553.8C89.1 552.2 88.9 550.5 88.8 548.9C88.6 547.2 88.4 545.5 88.3 543.9C88.1 542.2 87.9 540.6 87.7 538.9C87.5 537.3 87.3 535.6 87.1 533.9C86.9 532.3 86.7 530.6 86.5 529C86.3 527.3 86.1 525.7 86 524C85.8 522.3 85.6 520.7 85.5 519C85.3 517.4 85.2 515.7 85.1 514C85 512.4 84.8 510.7 84.7 509C84.6 507.4 84.5 505.7 84.4 504C84.2 502.4 84.1 500.7 84 499.1C83.9 497.4 83.8 495.7 83.7 494.1C83.6 492.4 83.5 490.7 83.4 489.1C83.3 487.4 83.2 485.7 83.1 484.1C83.1 482.4 83 480.7 82.9 479.1C82.8 477.4 82.7 475.7 82.7 474.1C82.6 472.4 82.5 470.7 82.5 469.1C82.4 467.4 82.3 465.7 82.3 464.1C82.2 462.4 82.2 460.7 82.1 459.1C82.1 457.4 82 455.7 82 454.1C81.9 452.4 81.9 450.7 81.8 449.1C81.8 447.4 81.7 445.7 81.7 444.1C81.7 442.4 81.6 440.7 81.6 439.1C81.5 437.4 81.5 435.7 81.5 434.1C81.4 432.4 81.4 430.7 81.3 429.1C81.3 427.4 81.3 425.7 81.2 424.1C81.2 422.4 81.1 420.7 81 419.1C81 417.4 80.8 415.7 80.8 414.1C80.8 412.4 80.5 410.5 80.9 409.1C81.2 407.7 82 405.9 82.9 405.5C83.7 405.2 85.4 405.9 86 406.9Z" fill="#8b8878"/>
<path d="M94.6 545.9C95.2 546.1 96.3 547.4 97.1 548.5C97.8 549.7 98.5 551.5 99.2 553C99.9 554.5 100.7 556 101.5 557.5C102.2 559 103 560.5 103.7 562C104.4 563.5 105.1 565 105.8 566.5C106.5 568 107.1 569.6 107.7 571.1C108.4 572.7 109 574.2 109.5 575.8C110.1 577.4 110.7 578.9 111.2 580.5C111.8 582.1 112.3 583.7 112.8 585.3C113.4 586.8 113.9 588.4 114.4 590C114.9 591.6 115.4 593.2 115.9 594.8C116.4 596.4 116.9 598 117.5 599.5C118 601.1 118.5 602.7 119.1 604.3C119.6 605.9 120.2 607.4 120.7 609C121.2 610.6 121.7 612.2 122.2 613.8C122.7 615.4 123.2 617 123.6 618.6C124.1 620.2 124.5 621.8 124.8 623.5C125.2 625.1 125.4 626.7 125.6 628.4C125.9 630 126 631.7 126.1 633.4C126.2 635 126.2 636.7 126.1 638.4C126.1 640 126 641.7 125.6 643.3C125.2 644.9 124.6 646.5 123.9 647.9C123.1 649.4 122.1 650.9 121.1 652C120 653.2 118.6 654.5 117.4 654.7C116.1 654.9 114.7 654 113.6 653.1C112.4 652.2 111.6 650.5 110.7 649.1C109.8 647.7 108.9 646.3 108.1 644.8C107.3 643.4 106.5 641.9 105.8 640.4C105.2 638.8 104.6 637.3 104 635.7C103.5 634.1 103.1 632.5 102.6 630.9C102.2 629.3 101.8 627.7 101.4 626.1C100.9 624.4 100.5 622.8 100.1 621.2C99.7 619.6 99.2 618 98.8 616.4C98.4 614.7 98 613.1 97.7 611.5C97.3 609.9 97 608.2 96.7 606.6C96.3 605 96 603.3 95.7 601.7C95.5 600 95.2 598.4 95 596.7C94.7 595.1 94.5 593.4 94.3 591.8C94.1 590.1 93.9 588.4 93.7 586.8C93.5 585.1 93.4 583.5 93.2 581.8C93 580.1 92.9 578.5 92.8 576.8C92.6 575.2 92.5 573.5 92.4 571.8C92.3 570.2 92.2 568.5 92.1 566.8C92.1 565.2 92 563.5 92 561.8C91.9 560.2 91.9 558.5 91.9 556.8C92 555.2 92.1 553.4 92.3 551.8C92.5 550.2 93 548.2 93.3 547.2C93.7 546.2 94 545.7 94.6 545.9Z" fill="#bebebe"/>
<path d="M104.5 589.2C105.3 589.2 106.1 590.8 106.8 592C107.6 593.3 108.3 595 109.1 596.5C109.9 598 110.7 599.4 111.5 600.9C112.3 602.4 113.1 603.9 113.8 605.4C114.5 606.9 115.3 608.4 115.9 610C116.6 611.5 117.2 613.1 117.7 614.7C118.3 616.3 118.8 617.9 119.2 619.5C119.6 621.1 120 622.8 120.2 624.4C120.4 626.1 120.6 627.8 120.3 629.4C120.1 631 119.6 632.6 118.9 634.1C118.2 635.6 117.3 637.4 116.2 638.2C115.2 639.1 113.8 639.7 112.8 639.3C111.7 638.9 110.8 637.1 110 635.7C109.1 634.4 108.4 632.8 107.7 631.2C107 629.7 106.3 628.2 105.8 626.6C105.2 625 104.7 623.4 104.3 621.8C103.9 620.2 103.5 618.5 103.1 616.9C102.8 615.3 102.5 613.6 102.2 611.9C102 610.3 101.8 608.6 101.6 606.9C101.5 605.3 101.3 603.6 101.3 601.9C101.2 600.2 101.2 598.6 101.4 596.9C101.6 595.3 101.9 593.3 102.4 592C102.9 590.8 103.8 589.2 104.5 589.2Z" fill="#eee8cd"/>
<path d="M59.2 620.2H304.5M182 424.2V669.5" fill="none" stroke="#000" stroke-opacity="0.16" stroke-width="0.6" stroke-dasharray="2.5 2"/>
<path d="M192.1 586.2L178.9 578.5L164.9 579.7L156 570.1L135.8 560.5L120.2 563.3L111.8 580.9L108.2 612.2" fill="none" stroke="#000" stroke-opacity="0.85" stroke-width="0.6"/>
<circle cx="178.9" cy="578.5" r="1.7" fill="#000"/>
<circle cx="164.9" cy="579.7" r="1.7" fill="#000"/>
<circle cx="135.8" cy="560.5" r="1.7" fill="#000"/>
<circle cx="120.2" cy="563.3" r="1.7" fill="#000"/>
<circle cx="111.8" cy="580.9" r="1.7" fill="#000"/>
</g>
<rect x="190.1" y="584.2" width="4" height="4" fill="#fff" stroke="#000" stroke-width="0.6"/>
<circle cx="156" cy="570.1" r="2.4" fill="#fff" stroke="#000" stroke-width="0.6"/>
<path d="M108.2 608.7 L111.4 614.5 L105 614.5 Z" fill="#fff" stroke="#000" stroke-width="0.6"/>
<rect x="249.2" y="640.8" width="53.9" height="28" fill="#fff"/>
<text x="274" y="661.6" class="ml" text-anchor="middle">BSM</text>
<path d="M59.2 670H304.5" class="ax"/>
<path d="M59.2 670v4.5" class="ax"/>
<text x="59.5" y="688.8" class="tk" text-anchor="middle">0.0</text>
<path d="M120.6 670v4.5" class="ax"/>
<text x="120.8" y="688.8" class="tk" text-anchor="middle">0.5</text>
<path d="M181.9 670v4.5" class="ax"/>
<text x="182.1" y="688.8" class="tk" text-anchor="middle">1.0</text>
<path d="M243.2 670v4.5" class="ax"/>
<text x="243.4" y="688.8" class="tk" text-anchor="middle">1.5</text>
<path d="M304.5 670v4.5" class="ax"/>
<text x="304.7" y="688.8" class="tk" text-anchor="middle">2.0</text>
<path d="M58.8 669.5V424.2" class="ax"/>
<path d="M58.8 669.5h-4.5" class="ax"/>
<text transform="translate(48 664.7) rotate(-90)" class="tk" text-anchor="middle">0</text>
<path d="M58.8 620.5h-4.5" class="ax"/>
<text transform="translate(48 617.6) rotate(-90)" class="tk" text-anchor="middle">1</text>
<path d="M58.8 571.4h-4.5" class="ax"/>
<text transform="translate(48 570.6) rotate(-90)" class="tk" text-anchor="middle">2</text>
<path d="M58.8 522.4h-4.5" class="ax"/>
<text transform="translate(48 523.5) rotate(-90)" class="tk" text-anchor="middle">3</text>
<path d="M58.8 473.3h-4.5" class="ax"/>
<text transform="translate(48 476.5) rotate(-90)" class="tk" text-anchor="middle">4</text>
<path d="M58.8 424.2h-4.5" class="ax"/>
<text transform="translate(48 429.4) rotate(-90)" class="tk" text-anchor="middle">5</text>
<text x="202.5" y="710.5" class="at" text-anchor="middle">B/B<tspan class="sub" dy="7.6">MSY</tspan></text>
<text transform="translate(18.8 518) rotate(-90)" class="at" text-anchor="middle">F/F<tspan class="sub" dy="7.6">MSY</tspan></text>
<path d="M319.2 428.3H348.2" class="ll"/>
<rect x="330.1" y="424.6" width="7.4" height="7.4" class="lm"/>
<text x="363.2" y="433.6" class="lt">2012</text>
<path d="M319.2 448H348.2" class="ll"/>
<circle cx="333.8" cy="448" r="4.3" class="lm"/>
<text x="363.2" y="453.3" class="lt">2015</text>
<path d="M319.2 467.7H348.2" class="ll"/>
<path d="M333.8 461.4L339.4 471.3L328.1 471.3Z" class="lm"/>
<text x="363.2" y="473" class="lt">2019</text>
<rect x="328.6" y="482.3" width="10.4" height="10.4" fill="#eee8cd" class="lb"/>
<text x="363.2" y="492.8" class="lt">50% C.I.</text>
<rect x="328.6" y="502" width="10.4" height="10.4" fill="#bebebe" class="lb"/>
<text x="363.2" y="512.5" class="lt">80% C.I.</text>
<rect x="328.6" y="521.7" width="10.4" height="10.4" fill="#8b8878" class="lb"/>
<text x="363.2" y="532.2" class="lt">95% C.I.</text>
<rect x="327.2" y="540.1" width="13" height="13" fill="#ff0000" class="lq"/>
<text x="363.2" y="551.9" class="lt">64.4%</text>
<rect x="327.2" y="559.8" width="13" height="13" fill="#ffff00" class="lq"/>
<text x="363.2" y="571.6" class="lt">35.6%</text>
<rect x="327.2" y="579.6" width="13" height="13" fill="#ffa500" class="lq"/>
<text x="363.2" y="591.4" class="lt">0%</text>
<rect x="327.2" y="599.3" width="13" height="13" fill="#00ff00" class="lq"/>
<text x="363.2" y="611.1" class="lt">0%</text>
</g>
<g>
<clipPath id="c4"><rect x="489.5" y="420.5" width="246" height="245.8"/></clipPath>
<rect x="489.5" y="420.5" width="123.2" height="196.5" fill="#ff0000"/>
<rect x="612.8" y="420.5" width="122.8" height="196.5" fill="#ffa500"/>
<rect x="489.5" y="617" width="123.2" height="49.2" fill="#ffff00"/>
<rect x="612.8" y="617" width="122.8" height="49.2" fill="#00ff00"/>
<g clip-path="url(#c4)">
<path d="M510.5 404C511.2 405 511.9 406.7 512.1 408.3C512.4 409.8 512 411.6 511.9 413.2C511.9 414.9 511.8 416.6 511.8 418.2C511.8 419.9 511.8 421.6 511.9 423.2C511.9 424.9 512 426.6 512 428.2C512.1 429.9 512.1 431.6 512.2 433.2C512.2 434.9 512.3 436.6 512.3 438.2C512.4 439.9 512.4 441.6 512.5 443.2C512.6 444.9 512.6 446.6 512.7 448.2C512.8 449.9 512.9 451.6 513 453.2C513 454.9 513.1 456.6 513.2 458.2C513.3 459.9 513.4 461.6 513.5 463.2C513.6 464.9 513.7 466.6 513.8 468.2C513.9 469.9 514 471.6 514.1 473.2C514.2 474.9 514.3 476.6 514.4 478.2C514.5 479.9 514.7 481.5 514.8 483.2C514.9 484.9 515 486.5 515.2 488.2C515.3 489.9 515.5 491.5 515.6 493.2C515.8 494.8 515.9 496.5 516.1 498.2C516.2 499.8 516.4 501.5 516.6 503.1C516.7 504.8 516.9 506.5 517.1 508.1C517.2 509.8 517.4 511.4 517.6 513.1C517.8 514.8 518 516.4 518.2 518.1C518.4 519.7 518.6 521.4 518.8 523C519 524.7 519.2 526.3 519.5 528C519.7 529.7 519.9 531.3 520.1 533C520.4 534.6 520.6 536.3 520.8 537.9C521.1 539.6 521.3 541.2 521.5 542.9C521.8 544.5 522 546.2 522.2 547.8C522.5 549.5 522.7 551.1 523 552.8C523.2 554.4 523.5 556.1 523.7 557.7C524 559.4 524.3 561 524.5 562.7C524.8 564.3 525.1 565.9 525.4 567.6C525.8 569.2 526.1 570.8 526.5 572.5C526.8 574.1 527.2 575.7 527.6 577.4C527.9 579 528.3 580.6 528.7 582.2C529.1 583.9 529.5 585.5 530 587.1C530.4 588.7 530.8 590.3 531.2 591.9C531.7 593.5 532.2 595.1 532.8 596.7C533.4 598.2 534.1 599.7 534.9 601.2C535.7 602.7 536.6 604.1 537.5 605.5C538.3 606.9 539.2 608.3 540.2 609.7C541.1 611.1 542 612.5 542.9 613.9C543.8 615.3 544.8 616.6 545.6 618.1C546.4 619.5 547.2 621 547.9 622.5C548.7 624 549.4 625.5 550.2 627C550.9 628.5 551.8 629.9 552.5 631.4C553.1 632.9 553.7 634.5 554.2 636.1C554.7 637.7 555 639.3 555.4 640.9C555.7 642.6 555.9 644.2 556.1 645.9C556.3 647.5 556.4 649.2 556.4 650.9C556.4 652.5 556.4 654.2 556.3 655.9C556.2 657.5 556.1 659.2 556 660.9C555.8 662.5 555.5 664.2 555.4 665.8C555.3 667.5 555.2 669.2 555.3 670.8C555.4 672.4 556 674.1 556 675.7C556.1 677.3 556.2 679.1 555.4 680.3C554.7 681.5 553.2 682.3 551.8 682.8C550.3 683.4 548.5 683.5 546.9 683.7C545.2 683.9 543.6 684 541.9 684.1C540.2 684.1 538.6 684.1 536.9 684.1C535.2 684.1 533.6 684.1 531.9 684C530.2 683.9 528.5 683.8 526.9 683.5C525.3 683.2 523.5 683 522.2 682.3C520.9 681.6 519.7 680.4 519.1 679C518.6 677.7 518.9 675.9 518.8 674.3C518.8 672.6 519.1 670.9 519 669.3C518.9 667.7 518.5 666 518.1 664.4C517.8 662.8 517.4 661.2 517 659.5C516.7 657.9 516.4 656.2 516.1 654.6C515.8 653 515.6 651.3 515.3 649.7C515.1 648 514.8 646.4 514.6 644.7C514.4 643.1 514.2 641.4 513.9 639.8C513.7 638.1 513.5 636.4 513.2 634.8C513 633.1 512.7 631.5 512.4 629.9C512.2 628.2 511.9 626.6 511.6 624.9C511.4 623.3 511.1 621.6 510.9 620C510.6 618.3 510.4 616.7 510.2 615C510 613.4 509.7 611.7 509.5 610.1C509.3 608.4 509 606.7 508.8 605.1C508.6 603.4 508.3 601.8 508.1 600.1C507.9 598.5 507.7 596.8 507.5 595.2C507.4 593.5 507.2 591.9 507 590.2C506.9 588.5 506.7 586.9 506.6 585.2C506.4 583.5 506.2 581.9 506.1 580.2C505.9 578.6 505.7 576.9 505.6 575.2C505.4 573.6 505.2 571.9 505.1 570.3C504.9 568.6 504.7 567 504.6 565.3C504.4 563.6 504.3 562 504.1 560.3C504 558.6 503.8 557 503.7 555.3C503.6 553.7 503.4 552 503.3 550.3C503.2 548.7 503 547 502.9 545.3C502.8 543.7 502.6 542 502.5 540.4C502.4 538.7 502.3 537 502.1 535.4C502 533.7 501.9 532 501.8 530.4C501.7 528.7 501.5 527 501.4 525.4C501.3 523.7 501.2 522.1 501.1 520.4C501 518.7 500.9 517.1 500.7 515.4C500.6 513.7 500.5 512.1 500.4 510.4C500.3 508.7 500.2 507.1 500.1 505.4C500 503.7 499.9 502.1 499.8 500.4C499.7 498.7 499.6 497.1 499.5 495.4C499.4 493.7 499.3 492.1 499.2 490.4C499.1 488.8 499.1 487.1 499 485.4C498.9 483.8 498.8 482.1 498.7 480.4C498.6 478.8 498.5 477.1 498.5 475.4C498.4 473.8 498.3 472.1 498.2 470.4C498.1 468.8 498.1 467.1 498 465.4C497.9 463.8 497.8 462.1 497.8 460.4C497.7 458.8 497.6 457.1 497.6 455.4C497.5 453.8 497.4 452.1 497.4 450.4C497.3 448.8 497.2 447.1 497.2 445.4C497.1 443.8 497.1 442.1 497 440.4C497 438.8 496.9 437.1 496.8 435.4C496.8 433.8 496.7 432.1 496.7 430.4C496.7 428.8 496.6 427.1 496.6 425.4C496.5 423.7 496.5 422.1 496.4 420.4C496.3 418.7 496.2 417.1 496.1 415.4C495.9 413.8 495.5 412.1 495.4 410.5C495.3 408.9 494.9 407 495.5 405.7C496 404.4 497.2 403.3 498.5 402.7C499.8 402 501.7 401.9 503.3 401.9C504.9 401.9 507 402.3 508.2 402.6C509.4 403 509.9 403.1 510.5 404Z" fill="#8b8878"/>
<path d="M506.1 404C506.4 404.9 507.1 406.9 507.3 408.5C507.5 410.1 507.4 411.8 507.4 413.5C507.4 415.1 507.4 416.8 507.4 418.5C507.5 420.1 507.6 421.8 507.6 423.5C507.7 425.1 507.7 426.8 507.8 428.5C507.9 430.1 507.9 431.8 508 433.5C508.1 435.1 508.1 436.8 508.2 438.5C508.3 440.1 508.4 441.8 508.4 443.5C508.5 445.1 508.6 446.8 508.7 448.5C508.8 450.1 508.9 451.8 509 453.5C509.1 455.1 509.2 456.8 509.3 458.5C509.4 460.1 509.5 461.8 509.6 463.4C509.7 465.1 509.9 466.8 510 468.4C510.1 470.1 510.2 471.8 510.3 473.4C510.5 475.1 510.6 476.7 510.7 478.4C510.9 480.1 511 481.7 511.1 483.4C511.3 485.1 511.4 486.7 511.6 488.4C511.7 490 511.9 491.7 512 493.4C512.2 495 512.3 496.7 512.5 498.3C512.6 500 512.8 501.7 513 503.3C513.1 505 513.3 506.6 513.5 508.3C513.7 510 513.8 511.6 514 513.3C514.2 514.9 514.4 516.6 514.6 518.2C514.8 519.9 515 521.5 515.2 523.2C515.4 524.9 515.7 526.5 515.9 528.2C516.1 529.8 516.3 531.5 516.6 533.1C516.8 534.8 517 536.4 517.2 538.1C517.5 539.7 517.7 541.4 517.9 543C518.2 544.7 518.4 546.3 518.7 548C518.9 549.6 519.1 551.3 519.4 552.9C519.6 554.6 519.9 556.2 520.2 557.9C520.4 559.5 520.7 561.2 521 562.8C521.3 564.4 521.5 566.1 521.9 567.7C522.2 569.4 522.5 571 522.9 572.6C523.3 574.2 523.6 575.9 524 577.5C524.4 579.1 524.8 580.7 525.2 582.4C525.5 584 526 585.6 526.4 587.2C526.8 588.8 527.2 590.4 527.7 592C528.2 593.6 528.6 595.2 529.2 596.8C529.8 598.3 530.5 599.9 531.2 601.4C532 602.9 532.8 604.3 533.6 605.8C534.4 607.2 535.3 608.7 536.1 610.1C537 611.5 538 612.9 538.9 614.3C539.8 615.7 540.7 617.1 541.5 618.5C542.3 620 543 621.5 543.8 622.9C544.6 624.4 545.3 625.9 546.1 627.4C546.8 628.9 547.8 630.3 548.5 631.8C549.1 633.3 549.7 634.8 550.2 636.4C550.7 638 551 639.7 551.3 641.3C551.6 642.9 551.9 644.6 552 646.2C552.2 647.9 552.3 649.6 552.3 651.2C552.3 652.9 552.3 654.6 552.2 656.2C552.1 657.9 552 659.6 551.8 661.2C551.6 662.9 551.3 664.5 551.1 666.2C551 667.8 550.8 669.5 550.8 671.1C550.8 672.8 551.2 674.5 551.1 676.1C550.9 677.7 550.8 679.5 550 680.6C549.2 681.8 547.7 682.6 546.2 683.2C544.8 683.7 543 683.8 541.4 683.9C539.7 684.1 538 684.1 536.4 684.1C534.7 684.1 533 684 531.4 683.8C529.8 683.6 527.9 683.4 526.6 682.7C525.3 682 524.1 680.8 523.4 679.5C522.8 678.2 522.9 676.3 522.8 674.7C522.7 673.1 522.9 671.4 522.7 669.7C522.5 668.1 522.1 666.5 521.7 664.9C521.3 663.3 520.7 661.7 520.3 660.1C520 658.4 519.6 656.8 519.3 655.2C519 653.5 518.8 651.9 518.5 650.2C518.3 648.6 518.1 646.9 517.8 645.3C517.6 643.6 517.4 642 517.1 640.3C516.9 638.7 516.7 637 516.4 635.4C516.2 633.7 515.9 632.1 515.6 630.4C515.4 628.8 515.1 627.1 514.8 625.5C514.6 623.8 514.3 622.2 514.1 620.5C513.8 618.9 513.6 617.2 513.4 615.6C513.2 613.9 512.9 612.3 512.7 610.6C512.5 609 512.3 607.3 512.1 605.7C511.9 604 511.7 602.4 511.5 600.7C511.3 599 511.2 597.4 511 595.7C510.8 594.1 510.6 592.4 510.5 590.8C510.3 589.1 510.2 587.4 510 585.8C509.8 584.1 509.6 582.5 509.5 580.8C509.3 579.1 509.1 577.5 509 575.8C508.8 574.2 508.7 572.5 508.6 570.8C508.4 569.2 508.3 567.5 508.2 565.9C508 564.2 507.9 562.5 507.8 560.9C507.6 559.2 507.5 557.5 507.4 555.9C507.2 554.2 507.1 552.6 507 550.9C506.8 549.2 506.7 547.6 506.6 545.9C506.4 544.2 506.3 542.6 506.2 540.9C506 539.3 505.9 537.6 505.8 535.9C505.7 534.3 505.5 532.6 505.4 530.9C505.3 529.3 505.2 527.6 505.1 526C505 524.3 504.8 522.6 504.7 521C504.6 519.3 504.5 517.6 504.4 516C504.3 514.3 504.2 512.6 504.1 511C504 509.3 503.9 507.7 503.8 506C503.7 504.3 503.6 502.7 503.5 501C503.4 499.3 503.3 497.7 503.2 496C503.1 494.3 503 492.7 502.9 491C502.8 489.3 502.7 487.7 502.6 486C502.5 484.3 502.4 482.7 502.3 481C502.3 479.4 502.2 477.7 502.1 476C502 474.4 501.9 472.7 501.9 471C501.8 469.4 501.7 467.7 501.6 466C501.6 464.4 501.5 462.7 501.4 461C501.3 459.4 501.3 457.7 501.2 456C501.1 454.4 501.1 452.7 501 451C500.9 449.4 500.9 447.7 500.8 446C500.8 444.4 500.7 442.7 500.6 441C500.6 439.4 500.5 437.7 500.5 436C500.4 434.4 500.4 432.7 500.3 431C500.3 429.4 500.2 427.7 500.2 426C500.1 424.4 500.1 422.7 500 421C500 419.4 499.9 417.7 499.8 416C499.7 414.4 499.5 412.7 499.4 411.1C499.3 409.4 499 407.6 499.3 406.2C499.7 404.8 500.6 403.2 501.6 402.7C502.6 402.2 504.8 403.1 505.6 403.4C506.3 403.6 505.8 403.1 506.1 404Z" fill="#bebebe"/>
<path d="M513.7 578.5C514.1 578.5 514.6 580.2 515 581.5C515.4 582.8 515.7 584.7 516.1 586.4C516.5 588 517 589.6 517.4 591.2C517.9 592.8 518.4 594.4 518.9 596C519.4 597.6 520 599.2 520.5 600.8C521.1 602.3 521.7 603.9 522.3 605.4C523 607 523.6 608.5 524.4 610C525.1 611.5 525.9 613 526.7 614.4C527.6 615.9 528.5 617.3 529.3 618.7C530.2 620.1 531.2 621.5 532.1 622.9C533 624.3 534 625.7 535 627C536 628.4 537 629.7 537.9 631.1C538.9 632.5 539.8 633.9 540.6 635.3C541.4 636.8 542.3 638.3 543 639.8C543.7 641.3 544.4 642.8 544.9 644.4C545.5 646 545.9 647.6 546.3 649.2C546.6 650.8 546.9 652.5 546.8 654.1C546.7 655.7 546.3 657.4 545.5 658.7C544.7 660.1 543.4 661.2 542.1 662.2C540.8 663.2 539.2 664.1 537.7 664.6C536.2 665.1 534.5 665.4 533 665.1C531.4 664.9 529.8 664.1 528.5 663.3C527.1 662.4 525.8 661.2 524.8 660C523.7 658.7 522.8 657.3 522.1 655.8C521.4 654.3 521.1 652.7 520.6 651.1C520.2 649.5 519.9 647.8 519.6 646.2C519.2 644.5 518.9 642.9 518.5 641.2C518.2 639.6 517.9 638 517.6 636.3C517.3 634.7 517 633 516.7 631.4C516.5 629.7 516.2 628.1 515.9 626.4C515.7 624.8 515.4 623.1 515.2 621.4C515 619.8 514.8 618.1 514.6 616.5C514.4 614.8 514.2 613.1 514 611.5C513.8 609.8 513.6 608.2 513.4 606.5C513.2 604.8 513 603.2 512.8 601.5C512.6 599.8 512.4 598.2 512.3 596.5C512.2 594.8 512.1 593.2 512 591.5C512 589.8 511.9 588.2 512 586.5C512.1 584.8 512.2 582.9 512.5 581.5C512.8 580.2 513.3 578.5 513.7 578.5Z" fill="#eee8cd"/>
<path d="M489.5 617H735.5M612.8 420.5V666.2" fill="none" stroke="#000" stroke-opacity="0.16" stroke-width="0.6" stroke-dasharray="2.5 2"/>
<path d="M531.7 555.5L535.1 563.9L534.8 575.2L529.3 564.7L523.7 564.2L520.4 585.8L520.4 616.6" fill="none" stroke="#000" stroke-opacity="0.85" stroke-width="0.6"/>
<circle cx="535.1" cy="563.9" r="1.7" fill="#000"/>
<circle cx="529.3" cy="564.7" r="1.7" fill="#000"/>
<circle cx="523.7" cy="564.2" r="1.7" fill="#000"/>
<circle cx="520.4" cy="585.8" r="1.7" fill="#000"/>
</g>
<rect x="529.7" y="553.5" width="4" height="4" fill="#fff" stroke="#000" stroke-width="0.6"/>
<circle cx="534.8" cy="575.2" r="2.4" fill="#fff" stroke="#000" stroke-width="0.6"/>
<path d="M520.4 613.1 L523.6 618.9 L517.2 618.9 Z" fill="#fff" stroke="#000" stroke-width="0.6"/>
<rect x="681.2" y="637.5" width="52.5" height="28.1" fill="#fff"/>
<text x="706.5" y="659.1" class="ml" text-anchor="middle">BSM</text>
<path d="M489.5 666.8H735.5" class="ax"/>
<path d="M489.5 666.8v4.5" class="ax"/>
<text x="489.7" y="685.8" class="tk" text-anchor="middle">0.0</text>
<path d="M551 666.8v4.5" class="ax"/>
<text x="551.2" y="685.8" class="tk" text-anchor="middle">0.5</text>
<path d="M612.5 666.8v4.5" class="ax"/>
<text x="612.7" y="685.8" class="tk" text-anchor="middle">1.0</text>
<path d="M674 666.8v4.5" class="ax"/>
<text x="674.2" y="685.8" class="tk" text-anchor="middle">1.5</text>
<path d="M735.5 666.8v4.5" class="ax"/>
<text x="735.7" y="685.8" class="tk" text-anchor="middle">2.0</text>
<path d="M489 666.2V420.5" class="ax"/>
<path d="M489 666.2h-4.5" class="ax"/>
<text transform="translate(478.8 661.4) rotate(-90)" class="tk" text-anchor="middle">0</text>
<path d="M489 617.1h-4.5" class="ax"/>
<text transform="translate(478.8 613.6) rotate(-90)" class="tk" text-anchor="middle">1</text>
<path d="M489 568h-4.5" class="ax"/>
<text transform="translate(478.8 565.8) rotate(-90)" class="tk" text-anchor="middle">2</text>
<path d="M489 518.8h-4.5" class="ax"/>
<text transform="translate(478.8 518) rotate(-90)" class="tk" text-anchor="middle">3</text>
<path d="M489 469.6h-4.5" class="ax"/>
<text transform="translate(478.8 470.2) rotate(-90)" class="tk" text-anchor="middle">4</text>
<path d="M489 420.5h-4.5" class="ax"/>
<text transform="translate(478.8 422.4) rotate(-90)" class="tk" text-anchor="middle">5</text>
<text x="619" y="710.5" class="at" text-anchor="middle">B/B<tspan class="sub" dy="7.6">MSY</tspan></text>
<text transform="translate(452.5 518) rotate(-90)" class="at" text-anchor="middle">F/F<tspan class="sub" dy="7.6">MSY</tspan></text>
<path d="M749.2 428.3H778.2" class="ll"/>
<rect x="760" y="424.6" width="7.4" height="7.4" class="lm"/>
<text x="793.2" y="433.6" class="lt">2012</text>
<path d="M749.2 448H778.2" class="ll"/>
<circle cx="763.8" cy="448" r="4.3" class="lm"/>
<text x="793.2" y="453.3" class="lt">2015</text>
<path d="M749.2 467.7H778.2" class="ll"/>
<path d="M763.8 461.4L769.5 471.3L758 471.3Z" class="lm"/>
<text x="793.2" y="473" class="lt">2019</text>
<rect x="758.5" y="482.3" width="10.4" height="10.4" fill="#eee8cd" class="lb"/>
<text x="793.2" y="492.8" class="lt">50% C.I.</text>
<rect x="758.5" y="502" width="10.4" height="10.4" fill="#bebebe" class="lb"/>
<text x="793.2" y="512.5" class="lt">80% C.I.</text>
<rect x="758.5" y="521.7" width="10.4" height="10.4" fill="#8b8878" class="lb"/>
<text x="793.2" y="532.2" class="lt">95% C.I.</text>
<rect x="757.2" y="540.1" width="13" height="13" fill="#ff0000" class="lq"/>
<text x="793.2" y="551.9" class="lt">50%</text>
<rect x="757.2" y="559.8" width="13" height="13" fill="#ffff00" class="lq"/>
<text x="793.2" y="571.6" class="lt">50%</text>
<rect x="757.2" y="579.6" width="13" height="13" fill="#ffa500" class="lq"/>
<text x="793.2" y="591.4" class="lt">0%</text>
<rect x="757.2" y="599.3" width="13" height="13" fill="#00ff00" class="lq"/>
<text x="793.2" y="611.1" class="lt">0%</text>
</g>
<g>
<clipPath id="c5"><rect x="957" y="417.5" width="245.2" height="245.2"/></clipPath>
<rect x="957" y="417.5" width="122.2" height="126.8" fill="#ff0000"/>
<rect x="1079.2" y="417.5" width="123" height="126.8" fill="#ffa500"/>
<rect x="957" y="544.2" width="122.2" height="118.5" fill="#ffff00"/>
<rect x="1079.2" y="544.2" width="123" height="118.5" fill="#00ff00"/>
<g clip-path="url(#c5)">
<path d="M1061.3 419.2C1062.5 419.2 1064.2 420.1 1065.4 421C1066.7 421.9 1067.8 423.3 1068.9 424.6C1069.9 425.8 1071 427.2 1071.9 428.5C1072.8 429.9 1073.6 431.4 1074.4 432.8C1075.3 434.3 1076 435.8 1076.7 437.3C1077.5 438.8 1078.3 440.2 1079 441.7C1079.8 443.2 1080.5 444.7 1081.2 446.2C1082 447.7 1082.7 449.2 1083.5 450.7C1084.2 452.2 1084.9 453.7 1085.7 455.2C1086.4 456.7 1087.2 458.2 1087.9 459.7C1088.7 461.1 1089.4 462.6 1090.2 464.1C1090.9 465.6 1091.6 467.1 1092.4 468.6C1093.1 470.1 1093.9 471.6 1094.6 473.1C1095.4 474.6 1096.2 476.1 1096.9 477.5C1097.7 479 1098.5 480.5 1099.3 481.9C1100.1 483.4 1100.9 484.9 1101.7 486.3C1102.5 487.8 1103.3 489.3 1104.1 490.7C1104.9 492.2 1105.7 493.6 1106.5 495.1C1107.4 496.5 1108.2 498 1109.1 499.4C1109.9 500.8 1110.8 502.3 1111.7 503.7C1112.6 505.1 1113.5 506.5 1114.4 507.9C1115.3 509.3 1116.2 510.7 1117.1 512.1C1118.1 513.5 1118.9 514.9 1119.9 516.3C1120.8 517.7 1121.7 519.1 1122.6 520.5C1123.6 521.8 1124.5 523.2 1125.5 524.5C1126.5 525.9 1127.5 527.2 1128.6 528.5C1129.6 529.8 1130.7 531.1 1131.7 532.4C1132.8 533.6 1133.9 534.9 1135 536.2C1136.1 537.4 1137.2 538.7 1138.3 539.9C1139.4 541.2 1140.5 542.4 1141.7 543.6C1142.8 544.9 1143.9 546.1 1145 547.3C1146.1 548.6 1147.3 549.8 1148.4 551.1C1149.5 552.3 1150.6 553.5 1151.7 554.8C1152.8 556 1154 557.3 1155.1 558.5C1156.2 559.7 1157.3 561 1158.4 562.2C1159.6 563.4 1160.7 564.7 1161.8 565.9C1162.9 567.1 1164 568.4 1165.1 569.6C1166.2 570.9 1167.3 572.2 1168.4 573.4C1169.5 574.7 1170.5 576 1171.6 577.3C1172.6 578.6 1173.7 579.9 1174.7 581.2C1175.7 582.6 1176.6 583.9 1177.5 585.3C1178.5 586.7 1179.4 588.1 1180.2 589.5C1181.1 591 1181.9 592.4 1182.7 593.9C1183.4 595.4 1184.1 596.9 1184.8 598.4C1185.4 600 1186 601.5 1186.5 603.1C1187 604.7 1187.5 606.3 1187.8 607.9C1188.2 609.6 1188.5 611.2 1188.6 612.9C1188.8 614.5 1188.9 616.2 1188.7 617.8C1188.6 619.5 1188.3 621.1 1187.8 622.7C1187.3 624.3 1186.7 625.9 1186 627.4C1185.3 628.9 1184.5 630.4 1183.5 631.7C1182.5 633 1181.3 634.2 1180.1 635.3C1178.9 636.4 1177.5 637.3 1176.1 638.2C1174.7 639.1 1173.3 640.1 1171.8 640.8C1170.3 641.4 1168.7 642 1167.2 642.1C1165.6 642.1 1164 641.5 1162.4 641C1160.9 640.4 1159.5 639.5 1158 638.7C1156.5 637.9 1155 637.2 1153.6 636.4C1152.1 635.6 1150.6 634.8 1149.2 633.9C1147.8 633.1 1146.3 632.2 1144.9 631.4C1143.5 630.5 1142.1 629.6 1140.7 628.7C1139.3 627.8 1137.9 626.9 1136.5 626C1135.1 625 1133.7 624.1 1132.3 623.2C1130.9 622.2 1129.6 621.3 1128.2 620.3C1126.9 619.3 1125.5 618.3 1124.2 617.3C1122.9 616.3 1121.6 615.2 1120.3 614.2C1119 613.1 1117.8 612 1116.5 610.9C1115.3 609.8 1114 608.7 1112.8 607.6C1111.5 606.5 1110.3 605.3 1109.1 604.2C1107.9 603 1106.7 601.9 1105.5 600.7C1104.4 599.5 1103.2 598.3 1102.1 597.1C1101 595.8 1099.8 594.6 1098.8 593.3C1097.7 592.1 1096.6 590.8 1095.6 589.5C1094.5 588.2 1093.5 586.8 1092.5 585.5C1091.5 584.2 1090.5 582.8 1089.5 581.5C1088.5 580.2 1087.6 578.8 1086.6 577.4C1085.6 576.1 1084.7 574.7 1083.8 573.3C1082.9 571.9 1081.9 570.5 1081.1 569.1C1080.2 567.7 1079.3 566.3 1078.4 564.8C1077.6 563.4 1076.7 562 1075.9 560.5C1075.1 559.1 1074.3 557.6 1073.5 556.1C1072.8 554.6 1072 553.1 1071.3 551.6C1070.6 550.1 1069.9 548.6 1069.2 547.1C1068.5 545.6 1067.8 544.1 1067.2 542.5C1066.6 541 1066 539.4 1065.4 537.9C1064.8 536.3 1064.2 534.7 1063.7 533.1C1063.2 531.5 1062.7 529.9 1062.3 528.3C1061.8 526.7 1061.3 525.1 1060.9 523.5C1060.4 521.9 1060 520.3 1059.6 518.7C1059.2 517.1 1058.7 515.5 1058.3 513.9C1057.9 512.2 1057.5 510.6 1057.2 509C1056.8 507.4 1056.4 505.7 1056.1 504.1C1055.7 502.5 1055.4 500.8 1055.1 499.2C1054.7 497.6 1054.4 495.9 1054.2 494.3C1053.9 492.6 1053.6 491 1053.4 489.3C1053.2 487.7 1053 486 1052.8 484.4C1052.6 482.7 1052.4 481.1 1052.3 479.4C1052.1 477.7 1052 476.1 1051.8 474.4C1051.7 472.7 1051.6 471.1 1051.5 469.4C1051.4 467.8 1051.3 466.1 1051.2 464.4C1051.2 462.8 1051.1 461.1 1051.1 459.4C1051.1 457.7 1051.1 456.1 1051.1 454.4C1051.1 452.7 1051.2 451.1 1051.2 449.4C1051.3 447.7 1051.3 446.1 1051.4 444.4C1051.5 442.7 1051.7 441.1 1051.9 439.4C1052.1 437.8 1052.4 436.1 1052.7 434.5C1053 432.9 1053.4 431.2 1053.9 429.7C1054.4 428.1 1055 426.5 1055.8 425C1056.5 423.6 1057.4 421.8 1058.3 420.9C1059.3 419.9 1060.2 419.2 1061.3 419.2Z" fill="#8b8878"/>
<path d="M1079.6 490.9C1080.5 491.1 1082.4 491.8 1083.6 492.7C1084.9 493.6 1086 495.1 1087.1 496.3C1088.2 497.5 1089.3 498.8 1090.4 500C1091.5 501.3 1092.6 502.6 1093.6 503.9C1094.6 505.2 1095.6 506.5 1096.7 507.8C1097.7 509.1 1098.7 510.5 1099.8 511.8C1100.8 513.1 1101.8 514.4 1102.9 515.7C1103.9 517 1105 518.3 1106 519.6C1107 520.9 1108.1 522.2 1109.1 523.5C1110.2 524.8 1111.2 526.1 1112.2 527.4C1113.3 528.7 1114.3 530.1 1115.3 531.3C1116.4 532.6 1117.4 533.9 1118.5 535.2C1119.6 536.5 1120.7 537.7 1121.8 539C1122.9 540.2 1124 541.4 1125.2 542.7C1126.3 543.9 1127.4 545.1 1128.5 546.4C1129.7 547.6 1130.8 548.8 1131.9 550.1C1133 551.3 1134.1 552.5 1135.3 553.8C1136.4 555 1137.5 556.3 1138.6 557.5C1139.7 558.8 1140.8 560 1141.9 561.3C1143 562.6 1144 563.8 1145.1 565.1C1146.2 566.4 1147.2 567.7 1148.3 568.9C1149.4 570.2 1150.4 571.5 1151.5 572.8C1152.5 574.1 1153.6 575.4 1154.6 576.7C1155.7 578 1156.7 579.3 1157.8 580.6C1158.8 581.9 1159.8 583.2 1160.8 584.6C1161.8 585.9 1162.8 587.2 1163.8 588.6C1164.8 589.9 1165.8 591.3 1166.7 592.7C1167.7 594 1168.6 595.4 1169.5 596.8C1170.4 598.2 1171.3 599.6 1172.1 601.1C1172.9 602.5 1173.7 604 1174.3 605.6C1174.8 607.1 1175.3 608.7 1175.5 610.4C1175.7 612 1175.9 613.7 1175.6 615.3C1175.3 616.8 1174.6 618.4 1173.7 619.7C1172.9 621.1 1171.7 622.3 1170.4 623.4C1169.2 624.5 1167.9 625.6 1166.5 626.4C1165.1 627.2 1163.5 628 1162 628.4C1160.4 628.7 1158.7 628.7 1157.1 628.5C1155.5 628.3 1153.9 627.6 1152.4 627C1150.9 626.4 1149.4 625.5 1147.9 624.7C1146.5 623.9 1145 623.1 1143.6 622.2C1142.2 621.3 1140.8 620.5 1139.3 619.6C1137.9 618.7 1136.5 617.9 1135.1 617C1133.7 616 1132.3 615.1 1131 614.1C1129.6 613.2 1128.3 612.2 1127 611.2C1125.6 610.1 1124.3 609.1 1123 608.1C1121.7 607 1120.4 606 1119.2 604.9C1117.9 603.8 1116.6 602.7 1115.4 601.6C1114.2 600.5 1113 599.3 1111.8 598.1C1110.6 597 1109.4 595.8 1108.2 594.6C1107 593.4 1105.9 592.2 1104.8 591C1103.6 589.8 1102.5 588.6 1101.4 587.3C1100.3 586 1099.3 584.8 1098.2 583.4C1097.2 582.1 1096.2 580.8 1095.2 579.5C1094.2 578.1 1093.2 576.8 1092.3 575.4C1091.4 574 1090.5 572.6 1089.6 571.2C1088.7 569.8 1087.8 568.3 1087 566.9C1086.2 565.4 1085.4 564 1084.6 562.5C1083.8 561 1083.1 559.5 1082.4 558C1081.7 556.5 1081 555 1080.4 553.4C1079.8 551.9 1079.2 550.3 1078.7 548.7C1078.1 547.2 1077.5 545.6 1077 544C1076.5 542.4 1076 540.8 1075.6 539.2C1075.1 537.6 1074.7 536 1074.4 534.4C1074 532.8 1073.8 531.1 1073.5 529.5C1073.3 527.8 1073.1 526.1 1073 524.5C1072.8 522.8 1072.6 521.2 1072.5 519.5C1072.4 517.8 1072.2 516.2 1072.2 514.5C1072.1 512.9 1072.1 511.2 1072.1 509.5C1072.2 507.9 1072.2 506.2 1072.4 504.5C1072.6 502.9 1072.8 501.2 1073.3 499.6C1073.7 498.1 1074.3 496.4 1075.1 495C1075.9 493.6 1077.3 492.1 1078 491.4C1078.8 490.7 1078.7 490.7 1079.6 490.9Z" fill="#bebebe"/>
<path d="M1100 528.6C1101.2 528.8 1103 529.4 1104.4 530.3C1105.7 531.1 1106.9 532.3 1108.2 533.4C1109.4 534.6 1110.6 535.7 1111.8 536.9C1112.9 538.1 1114 539.4 1115.2 540.6C1116.3 541.9 1117.3 543.1 1118.4 544.4C1119.5 545.7 1120.6 546.9 1121.7 548.2C1122.9 549.4 1124 550.6 1125.1 551.9C1126.2 553.1 1127.3 554.4 1128.5 555.6C1129.6 556.8 1130.7 558.1 1131.8 559.3C1132.9 560.6 1134 561.8 1135.1 563.1C1136.2 564.4 1137.3 565.6 1138.4 566.9C1139.4 568.2 1140.5 569.4 1141.6 570.7C1142.7 572 1143.7 573.3 1144.8 574.6C1145.8 575.9 1146.9 577.1 1147.9 578.5C1149 579.8 1150 581.1 1151 582.4C1152 583.8 1153 585.1 1153.9 586.5C1154.9 587.8 1155.9 589.2 1156.7 590.6C1157.6 592.1 1158.4 593.5 1159.2 595C1159.9 596.5 1160.6 598 1161.1 599.6C1161.6 601.2 1162.2 602.8 1162.2 604.4C1162.2 606 1161.8 607.6 1161.1 609C1160.4 610.4 1159.1 611.7 1157.8 612.6C1156.6 613.5 1155 614.3 1153.4 614.6C1151.9 614.8 1150.2 614.6 1148.6 614.2C1147 613.8 1145.5 613.1 1144 612.3C1142.5 611.6 1141 610.8 1139.6 609.9C1138.2 609.1 1136.7 608.2 1135.3 607.3C1134 606.4 1132.6 605.4 1131.3 604.4C1129.9 603.4 1128.6 602.3 1127.4 601.3C1126.1 600.2 1124.9 599 1123.7 597.9C1122.4 596.8 1121.2 595.6 1120 594.5C1118.8 593.3 1117.7 592.1 1116.5 590.9C1115.4 589.6 1114.3 588.4 1113.2 587.1C1112.1 585.9 1111.1 584.6 1110.1 583.2C1109 581.9 1108.1 580.6 1107.1 579.2C1106.2 577.8 1105.2 576.4 1104.4 575C1103.5 573.6 1102.7 572.1 1101.9 570.7C1101.1 569.2 1100.4 567.7 1099.7 566.2C1099 564.7 1098.4 563.1 1097.8 561.6C1097.1 560 1096.6 558.4 1096 556.9C1095.5 555.3 1094.9 553.7 1094.5 552.1C1094 550.5 1093.6 548.9 1093.3 547.2C1093 545.6 1092.6 544 1092.5 542.3C1092.3 540.7 1092.1 538.9 1092.4 537.4C1092.6 535.8 1093.2 534.1 1094 532.8C1094.9 531.5 1096.4 530.1 1097.4 529.4C1098.4 528.7 1098.8 528.5 1100 528.6Z" fill="#eee8cd"/>
<path d="M957 544.2H1202.2M1079.2 417.5V662.8" fill="none" stroke="#000" stroke-opacity="0.16" stroke-width="0.6" stroke-dasharray="2.5 2"/>
<path d="M1061 557.5L1068 552.5L1072.2 590.5L1085.2 622.5L1105.2 615.5L1120.2 597.5L1123.5 581.2L1120.2 569.2" fill="none" stroke="#000" stroke-opacity="0.85" stroke-width="0.6"/>
<circle cx="1068" cy="552.5" r="1.7" fill="#000"/>
<circle cx="1072.2" cy="590.5" r="1.7" fill="#000"/>
<circle cx="1105.2" cy="615.5" r="1.7" fill="#000"/>
<circle cx="1120.2" cy="597.5" r="1.7" fill="#000"/>
<circle cx="1123.5" cy="581.2" r="1.7" fill="#000"/>
</g>
<rect x="1059" y="555.5" width="4" height="4" fill="#fff" stroke="#000" stroke-width="0.6"/>
<circle cx="1085.2" cy="622.5" r="2.4" fill="#fff" stroke="#000" stroke-width="0.6"/>
<path d="M1120.2 565.8 L1123.5 571.5 L1117 571.5 Z" fill="#fff" stroke="#000" stroke-width="0.6"/>
<rect x="957.2" y="633.8" width="53.8" height="29" fill="#fff"/>
<text x="982.5" y="655.4" class="ml" text-anchor="middle">BSM</text>
<path d="M957 663.2H1202.2" class="ax"/>
<path d="M957 663.2v4.5" class="ax"/>
<text x="957.2" y="681.8" class="tk" text-anchor="middle">0.0</text>
<path d="M1018.3 663.2v4.5" class="ax"/>
<text x="1018.5" y="681.8" class="tk" text-anchor="middle">0.5</text>
<path d="M1079.6 663.2v4.5" class="ax"/>
<text x="1079.8" y="681.8" class="tk" text-anchor="middle">1.0</text>
<path d="M1140.9 663.2v4.5" class="ax"/>
<text x="1141.1" y="681.8" class="tk" text-anchor="middle">1.5</text>
<path d="M1202.2 663.2v4.5" class="ax"/>
<text x="1202.5" y="681.8" class="tk" text-anchor="middle">2.0</text>
<path d="M956.5 662.8V425.4" class="ax"/>
<path d="M956.5 662.8h-4.5" class="ax"/>
<text transform="translate(946 656) rotate(-90)" class="tk" text-anchor="middle">0.0</text>
<path d="M956.5 603.4h-4.5" class="ax"/>
<text transform="translate(946 596.7) rotate(-90)" class="tk" text-anchor="middle">0.5</text>
<path d="M956.5 544.1h-4.5" class="ax"/>
<text transform="translate(946 537.4) rotate(-90)" class="tk" text-anchor="middle">1.0</text>
<path d="M956.5 484.7h-4.5" class="ax"/>
<text transform="translate(946 478) rotate(-90)" class="tk" text-anchor="middle">1.5</text>
<path d="M956.5 425.4h-4.5" class="ax"/>
<text transform="translate(946 418.7) rotate(-90)" class="tk" text-anchor="middle">2.0</text>
<text x="1104" y="705" class="at" text-anchor="middle">B/B<tspan class="sub" dy="7.6">MSY</tspan></text>
<text transform="translate(918.5 527.5) rotate(-90)" class="at" text-anchor="middle">F/F<tspan class="sub" dy="7.6">MSY</tspan></text>
<path d="M1212.5 428.3H1241.5" class="ll"/>
<rect x="1223.3" y="424.6" width="7.4" height="7.4" class="lm"/>
<text x="1256.5" y="433.6" class="lt">2012</text>
<path d="M1212.5 448H1241.5" class="ll"/>
<circle cx="1227" cy="448" r="4.3" class="lm"/>
<text x="1256.5" y="453.3" class="lt">2015</text>
<path d="M1212.5 467.7H1241.5" class="ll"/>
<path d="M1227 461.4L1232.7 471.3L1221.3 471.3Z" class="lm"/>
<text x="1256.5" y="473" class="lt">2019</text>
<rect x="1221.8" y="482.3" width="10.4" height="10.4" fill="#eee8cd" class="lb"/>
<text x="1256.5" y="492.8" class="lt">50% C.I.</text>
<rect x="1221.8" y="502" width="10.4" height="10.4" fill="#bebebe" class="lb"/>
<text x="1256.5" y="512.5" class="lt">80% C.I.</text>
<rect x="1221.8" y="521.7" width="10.4" height="10.4" fill="#8b8878" class="lb"/>
<text x="1256.5" y="532.2" class="lt">95% C.I.</text>
<rect x="1220.5" y="540.1" width="13" height="13" fill="#ff0000" class="lq"/>
<text x="1256.5" y="551.9" class="lt">8.8%</text>
<rect x="1220.5" y="559.8" width="13" height="13" fill="#ffff00" class="lq"/>
<text x="1256.5" y="571.6" class="lt">0.1%</text>
<rect x="1220.5" y="579.6" width="13" height="13" fill="#ffa500" class="lq"/>
<text x="1256.5" y="591.4" class="lt">18.7%</text>
<rect x="1220.5" y="599.3" width="13" height="13" fill="#00ff00" class="lq"/>
<text x="1256.5" y="611.1" class="lt">72.4%</text>
</g>
<g>
<clipPath id="c6"><rect x="54.2" y="730.4" width="254.2" height="254.6"/></clipPath>
<rect x="54.2" y="730.4" width="127.2" height="157.4" fill="#ff0000"/>
<rect x="181.4" y="730.4" width="127" height="157.4" fill="#ffa500"/>
<rect x="54.2" y="887.8" width="127.2" height="97.2" fill="#ffff00"/>
<rect x="181.4" y="887.8" width="127" height="97.2" fill="#00ff00"/>
<g clip-path="url(#c6)">
<path d="M152.9 716.2C153.6 716.7 155.8 717.7 156.4 718.9C156.9 720.1 156.5 721.8 156.2 723.4C155.9 724.9 154.9 726.4 154.5 728C154.1 729.6 154 731.2 153.9 732.9C153.8 734.5 153.9 736.2 154 737.9C154.1 739.6 154.1 741.2 154.2 742.9C154.3 744.5 154.5 746.2 154.6 747.9C154.8 749.5 155.1 751.2 155.3 752.8C155.6 754.5 155.9 756.1 156.2 757.8C156.5 759.4 156.8 761 157.1 762.7C157.5 764.3 157.9 765.9 158.2 767.5C158.6 769.2 159.1 770.8 159.5 772.4C159.9 774 160.4 775.6 160.9 777.2C161.4 778.8 161.9 780.4 162.4 782C163 783.5 163.5 785.1 164.1 786.7C164.7 788.2 165.3 789.8 165.9 791.3C166.5 792.9 167.2 794.4 167.8 796C168.5 797.5 169.1 799 169.8 800.6C170.5 802.1 171.2 803.6 172 805.1C172.7 806.6 173.5 808.1 174.2 809.5C175 811 175.8 812.5 176.6 813.9C177.4 815.4 178.2 816.9 179 818.3C179.8 819.8 180.6 821.3 181.3 822.8C182.1 824.2 182.8 825.7 183.6 827.2C184.3 828.8 184.9 830.3 185.6 831.8C186.2 833.4 186.8 834.9 187.5 836.5C188.1 838 188.7 839.6 189.4 841.1C190.1 842.6 190.8 844.1 191.5 845.6C192.3 847.1 193.1 848.6 193.9 850C194.8 851.4 195.7 852.8 196.7 854.1C197.7 855.5 198.7 856.8 199.8 858.1C200.8 859.4 201.9 860.7 202.9 862C204 863.2 205.1 864.5 206.2 865.8C207.3 867 208.4 868.3 209.5 869.5C210.6 870.8 211.7 872 212.8 873.3C213.8 874.6 214.9 875.9 215.9 877.2C216.9 878.5 218 879.9 218.9 881.2C219.9 882.6 220.8 883.9 221.8 885.3C222.7 886.7 223.5 888.2 224.4 889.6C225.2 891.1 226 892.5 226.7 894C227.5 895.5 228.1 897 228.9 898.5C229.6 900 230.3 901.6 231 903.1C231.7 904.6 232.4 906.1 233.1 907.6C233.8 909.1 234.5 910.7 235.1 912.2C235.8 913.7 236.5 915.2 237.2 916.7C237.9 918.3 238.6 919.8 239.2 921.3C239.9 922.8 240.6 924.4 241.2 925.9C241.8 927.5 242.5 929 243 930.6C243.6 932.1 244.1 933.7 244.6 935.3C245.1 936.9 245.5 938.5 246 940.1C246.4 941.7 246.9 943.4 247.1 945C247.4 946.6 247.6 948.3 247.4 949.9C247.3 951.5 246.8 953.2 246.3 954.7C245.7 956.2 244.9 957.7 244 959.1C243.1 960.5 242 961.8 240.9 963C239.8 964.3 238.6 965.5 237.4 966.6C236.2 967.8 235 968.9 233.7 970C232.4 971 231 971.9 229.6 972.8C228.1 973.6 226.6 974.3 225.1 975C223.6 975.6 222 976.1 220.4 976.6C218.8 977.1 217.2 977.5 215.5 977.9C213.9 978.3 212.3 978.6 210.6 979C209 979.3 207.4 979.6 205.7 979.9C204.1 980.2 202.4 980.5 200.8 980.8C199.2 981 197.5 981.3 195.9 981.5C194.2 981.8 192.6 982 190.9 982.2C189.2 982.4 187.6 982.6 185.9 982.8C184.3 983 182.6 983.2 181 983.4C179.3 983.6 177.6 983.7 176 983.8C174.3 984 172.6 984.1 171 984.2C169.3 984.2 167.6 984.3 166 984.4C164.3 984.4 162.6 984.4 161 984.4C159.3 984.4 157.6 984.4 156 984.3C154.3 984.2 152.6 984.2 151 984C149.3 983.8 147.7 983.7 146 983.4C144.4 983.1 142.7 982.7 141.2 982.2C139.6 981.7 138.1 981 136.6 980.2C135.2 979.4 133.8 978.4 132.4 977.6C131 976.7 129.6 975.8 128.2 974.8C126.8 973.9 125.4 973 124.1 972C122.7 971 121.4 970 120.1 969C118.8 967.9 117.5 966.9 116.2 965.8C115 964.6 113.8 963.5 112.7 962.3C111.6 961 110.5 959.7 109.6 958.4C108.6 957 107.7 955.6 106.8 954.2C106 952.7 105.2 951.3 104.4 949.8C103.6 948.3 102.9 946.8 102.2 945.3C101.5 943.8 100.9 942.2 100.3 940.7C99.7 939.1 99.2 937.5 98.7 935.9C98.2 934.4 97.8 932.7 97.4 931.1C97 929.5 96.6 927.9 96.3 926.2C96 924.6 95.7 923 95.4 921.3C95.1 919.7 94.8 918 94.5 916.4C94.2 914.7 93.9 913.1 93.7 911.5C93.4 909.8 93.1 908.2 92.9 906.5C92.6 904.9 92.3 903.2 92.1 901.6C91.9 899.9 91.6 898.3 91.5 896.6C91.3 895 91.1 893.3 91 891.6C90.8 890 90.7 888.3 90.6 886.6C90.5 885 90.4 883.3 90.3 881.6C90.2 880 90.1 878.3 90 876.6C90 875 89.9 873.3 89.9 871.6C89.8 870 89.8 868.3 89.8 866.6C89.7 865 89.7 863.3 89.7 861.6C89.6 860 89.6 858.3 89.6 856.6C89.5 855 89.5 853.3 89.5 851.6C89.5 850 89.5 848.3 89.5 846.6C89.4 845 89.4 843.3 89.4 841.6C89.4 839.9 89.4 838.3 89.4 836.6C89.4 834.9 89.4 833.3 89.4 831.6C89.4 829.9 89.5 828.3 89.5 826.6C89.5 824.9 89.6 823.3 89.6 821.6C89.7 819.9 89.8 818.3 89.9 816.6C89.9 814.9 90 813.3 90.1 811.6C90.2 809.9 90.3 808.3 90.4 806.6C90.5 804.9 90.6 803.3 90.7 801.6C90.8 799.9 90.9 798.3 91 796.6C91.1 795 91.2 793.3 91.4 791.6C91.5 790 91.6 788.3 91.7 786.6C91.8 785 92 783.3 92.1 781.6C92.2 780 92.3 778.3 92.5 776.6C92.6 775 92.7 773.3 92.8 771.7C93 770 93.1 768.3 93.3 766.7C93.4 765 93.5 763.3 93.7 761.7C93.8 760 93.9 758.4 94.1 756.7C94.2 755 94.3 753.4 94.4 751.7C94.6 750 94.7 748.4 94.8 746.7C94.9 745 94.9 743.4 95 741.7C95.1 740 95.2 738.4 95.3 736.7C95.3 735 95.5 733.4 95.3 731.7C95.2 730.1 94.8 728.5 94.3 726.9C93.9 725.3 92.8 723.8 92.6 722.3C92.4 720.8 92.4 719.2 93.2 718.1C93.9 717 95.7 716.4 97.2 715.9C98.7 715.4 100.4 715.3 102.1 715.1C103.7 714.9 105.4 714.8 107.1 714.7C108.7 714.5 110.4 714.5 112.1 714.4C113.7 714.3 115.4 714.3 117.1 714.2C118.7 714.2 120.4 714.2 122.1 714.2C123.7 714.1 125.4 714.1 127.1 714.2C128.7 714.2 130.4 714.2 132.1 714.2C133.8 714.3 135.4 714.3 137.1 714.4C138.8 714.5 140.4 714.6 142.1 714.7C143.7 714.8 145.4 714.9 147.1 715.1C148.7 715.3 151 715.8 152 716C152.9 716.1 152.2 715.7 152.9 716.2Z" fill="#8b8878"/>
<path d="M120 770.3C121.1 770.5 123.2 770.9 124.6 771.6C126 772.3 127.3 773.5 128.5 774.6C129.7 775.8 130.7 777.1 131.6 778.5C132.5 779.9 133.1 781.4 133.9 782.9C134.6 784.4 135.2 786 135.8 787.5C136.5 789.1 137.1 790.6 137.7 792.2C138.3 793.7 138.9 795.3 139.5 796.8C140.1 798.4 140.8 799.9 141.5 801.4C142.2 802.9 142.9 804.4 143.6 805.9C144.3 807.4 145.1 808.9 145.8 810.4C146.6 811.9 147.3 813.4 148.1 814.9C148.8 816.4 149.6 817.9 150.3 819.4C151.1 820.9 151.8 822.3 152.6 823.8C153.4 825.3 154.2 826.8 154.9 828.2C155.7 829.7 156.5 831.2 157.3 832.7C158.1 834.1 158.9 835.6 159.7 837.1C160.5 838.5 161.3 840 162.1 841.4C162.9 842.9 163.7 844.3 164.5 845.8C165.4 847.3 166.2 848.7 167 850.1C167.9 851.6 168.7 853 169.5 854.5C170.4 855.9 171.3 857.3 172.1 858.8C173 860.2 173.8 861.6 174.7 863C175.6 864.5 176.5 865.9 177.3 867.3C178.2 868.7 179.1 870.2 179.9 871.6C180.8 873 181.6 874.5 182.4 875.9C183.3 877.3 184.1 878.8 184.9 880.2C185.8 881.7 186.6 883.1 187.4 884.6C188.2 886 189 887.5 189.9 889C190.7 890.4 191.5 891.9 192.3 893.3C193 894.8 193.8 896.3 194.6 897.8C195.4 899.3 196.1 900.7 196.9 902.2C197.6 903.7 198.3 905.2 199 906.7C199.8 908.2 200.5 909.7 201.2 911.3C201.9 912.8 202.6 914.3 203.3 915.8C203.9 917.3 204.6 918.9 205.2 920.4C205.9 921.9 206.5 923.5 207.1 925C207.7 926.6 208.3 928.2 208.7 929.8C209.2 931.4 209.6 933 209.8 934.6C210 936.3 210 938 209.8 939.6C209.7 941.2 209.4 942.9 209 944.5C208.5 946.1 207.9 947.7 207.2 949.1C206.4 950.6 205.4 952 204.4 953.2C203.3 954.5 202.1 955.6 200.8 956.7C199.6 957.8 198.2 958.8 196.8 959.7C195.5 960.7 194.1 961.6 192.6 962.4C191.2 963.3 189.8 964.1 188.3 964.8C186.7 965.5 185.2 966 183.6 966.5C182 966.9 180.3 967.1 178.6 967.4C177 967.6 175.3 967.7 173.7 967.8C172 967.9 170.3 967.9 168.7 968C167 968 165.3 968 163.7 968C162 968 160.3 968 158.7 967.9C157 967.8 155.3 967.7 153.7 967.6C152 967.4 150.3 967.3 148.7 967C147.1 966.6 145.5 966.2 143.9 965.7C142.4 965.1 140.9 964.4 139.4 963.6C137.9 962.8 136.5 961.9 135.1 961C133.7 960.1 132.3 959.2 130.9 958.3C129.6 957.3 128.3 956.3 127 955.2C125.7 954.1 124.5 953 123.3 951.8C122.2 950.6 121.1 949.3 120 948C119 946.7 118 945.4 117.1 944C116.2 942.6 115.3 941.2 114.5 939.7C113.7 938.3 112.9 936.8 112.2 935.3C111.5 933.8 110.8 932.2 110.3 930.7C109.7 929.1 109.2 927.5 108.7 925.9C108.2 924.3 107.8 922.7 107.3 921.1C106.9 919.5 106.4 917.9 106 916.3C105.5 914.7 105.1 913.1 104.7 911.5C104.3 909.8 103.9 908.2 103.6 906.6C103.2 904.9 102.9 903.3 102.6 901.7C102.4 900 102.1 898.4 101.9 896.7C101.7 895.1 101.6 893.4 101.4 891.7C101.3 890.1 101.2 888.4 101.1 886.7C101 885.1 101 883.4 100.9 881.7C100.9 880.1 100.8 878.4 100.8 876.7C100.7 875.1 100.7 873.4 100.7 871.7C100.7 870.1 100.7 868.4 100.7 866.7C100.8 865.1 100.8 863.4 100.9 861.7C100.9 860.1 101 858.4 101 856.7C101.1 855.1 101.2 853.4 101.2 851.7C101.3 850.1 101.3 848.4 101.4 846.7C101.4 845.1 101.5 843.4 101.6 841.7C101.6 840.1 101.7 838.4 101.8 836.7C101.8 835.1 101.9 833.4 102 831.7C102.2 830.1 102.3 828.4 102.4 826.8C102.6 825.1 102.8 823.4 103 821.8C103.2 820.1 103.4 818.5 103.7 816.8C103.9 815.2 104.2 813.5 104.4 811.9C104.7 810.2 105 808.6 105.2 806.9C105.5 805.3 105.8 803.7 106.1 802C106.4 800.4 106.6 798.7 106.9 797.1C107.2 795.4 107.6 793.8 107.9 792.2C108.3 790.5 108.6 788.9 109 787.3C109.4 785.7 109.8 784 110.2 782.4C110.7 780.8 111.1 779.2 111.8 777.7C112.5 776.2 113.4 774.7 114.4 773.5C115.5 772.4 117.3 771.2 118.2 770.7C119.2 770.1 119 770.1 120 770.3Z" fill="#bebebe"/>
<path d="M127.5 839.3C128.7 839.4 130.3 840.3 131.5 841.3C132.7 842.2 133.8 843.7 134.8 845C135.8 846.3 136.7 847.8 137.6 849.1C138.5 850.5 139.4 852 140.3 853.3C141.2 854.7 142.1 856.1 143 857.5C144 858.9 144.9 860.3 145.8 861.7C146.7 863.1 147.6 864.5 148.5 865.9C149.4 867.3 150.4 868.7 151.3 870.1C152.2 871.5 153.1 872.9 153.9 874.3C154.8 875.7 155.7 877.2 156.6 878.6C157.5 880 158.4 881.4 159.3 882.8C160.2 884.2 161.1 885.6 162 887C162.9 888.5 163.7 889.9 164.6 891.3C165.4 892.7 166.3 894.2 167.1 895.6C167.9 897.1 168.7 898.6 169.5 900C170.2 901.5 171 903 171.7 904.5C172.4 906.1 173.1 907.6 173.7 909.1C174.4 910.6 175 912.2 175.6 913.7C176.2 915.3 176.8 916.9 177.4 918.4C178 920 178.6 921.6 179.1 923.1C179.6 924.7 180.1 926.3 180.5 927.9C180.9 929.6 181.3 931.2 181.4 932.8C181.5 934.5 181.5 936.2 181.2 937.8C180.8 939.4 180.2 940.9 179.4 942.3C178.5 943.7 177.3 944.9 176.1 946.1C175 947.3 173.8 948.4 172.5 949.5C171.2 950.5 169.9 951.6 168.4 952.4C167 953.1 165.4 953.7 163.8 954.1C162.2 954.5 160.5 954.7 158.9 954.8C157.2 955 155.5 955 153.9 954.9C152.2 954.8 150.5 954.7 148.9 954.4C147.3 954.1 145.7 953.7 144.2 953C142.7 952.3 141.3 951.4 140 950.4C138.7 949.4 137.5 948.2 136.2 947.1C134.9 946 133.6 944.9 132.4 943.8C131.2 942.7 130 941.5 129 940.2C127.9 939 126.9 937.6 126 936.2C125.2 934.8 124.4 933.3 123.6 931.8C122.9 930.3 122.3 928.7 121.7 927.2C121.1 925.6 120.6 924 120.1 922.5C119.5 920.9 119 919.3 118.6 917.7C118.1 916.1 117.6 914.5 117.2 912.9C116.7 911.3 116.3 909.6 115.9 908C115.5 906.4 115.2 904.8 114.9 903.1C114.6 901.5 114.4 899.8 114.2 898.2C114 896.5 113.8 894.9 113.7 893.2C113.6 891.5 113.5 889.9 113.5 888.2C113.4 886.5 113.4 884.9 113.5 883.2C113.5 881.5 113.5 879.8 113.6 878.2C113.7 876.5 113.9 874.9 114 873.2C114.2 871.5 114.4 869.9 114.7 868.2C114.9 866.6 115.2 864.9 115.5 863.3C115.8 861.6 116.1 860 116.4 858.4C116.7 856.7 117.1 855.1 117.5 853.5C117.8 851.8 118.1 850.2 118.7 848.6C119.3 847.1 120 845.5 120.9 844.2C121.8 842.9 123.1 841.4 124.2 840.6C125.3 839.8 126.3 839.2 127.5 839.3Z" fill="#eee8cd"/>
<path d="M54.2 887.8H308.4M181.4 730.4V985" fill="none" stroke="#000" stroke-opacity="0.16" stroke-width="0.6" stroke-dasharray="2.5 2"/>
<path d="M97.5 851.5L104.2 804.8L98.8 880.5L130 937.2L176.5 943L192.8 916.5L178 863.8L142.5 898.5" fill="none" stroke="#000" stroke-opacity="0.85" stroke-width="0.6"/>
<circle cx="104.2" cy="804.8" r="1.7" fill="#000"/>
<circle cx="98.8" cy="880.5" r="1.7" fill="#000"/>
<circle cx="130" cy="937.2" r="1.7" fill="#000"/>
<circle cx="176.5" cy="943" r="1.7" fill="#000"/>
<circle cx="192.8" cy="916.5" r="1.7" fill="#000"/>
<circle cx="178" cy="863.8" r="1.7" fill="#000"/>
</g>
<rect x="95.5" y="849.5" width="4" height="4" fill="#fff" stroke="#000" stroke-width="0.6"/>
<path d="M142.5 895 L145.7 900.8 L139.3 900.8 Z" fill="#fff" stroke="#000" stroke-width="0.6"/>
<rect x="236.8" y="842.2" width="70.1" height="28.1" fill="#fff"/>
<text x="272.1" y="864.6" class="ml" text-anchor="middle">AMSY</text>
<path d="M54.8 985.5H308.2" class="ax"/>
<path d="M54.8 985.5v4.5" class="ax"/>
<text x="56" y="1006.2" class="tk" text-anchor="middle">0.0</text>
<path d="M118.1 985.5v4.5" class="ax"/>
<text x="119.3" y="1006.2" class="tk" text-anchor="middle">0.5</text>
<path d="M181.5 985.5v4.5" class="ax"/>
<text x="182.7" y="1006.2" class="tk" text-anchor="middle">1.0</text>
<path d="M244.9 985.5v4.5" class="ax"/>
<text x="246.1" y="1006.2" class="tk" text-anchor="middle">1.5</text>
<path d="M308.2 985.5v4.5" class="ax"/>
<text x="309.4" y="1006.2" class="tk" text-anchor="middle">2.0</text>
<path d="M53.7 985V742.5" class="ax"/>
<path d="M53.7 985h-4.5" class="ax"/>
<text transform="translate(43.8 978.3) rotate(-90)" class="tk" text-anchor="middle">0.0</text>
<path d="M53.7 936.5h-4.5" class="ax"/>
<text transform="translate(43.8 929.8) rotate(-90)" class="tk" text-anchor="middle">0.5</text>
<path d="M53.7 888h-4.5" class="ax"/>
<text transform="translate(43.8 881.3) rotate(-90)" class="tk" text-anchor="middle">1.0</text>
<path d="M53.7 839.5h-4.5" class="ax"/>
<text transform="translate(43.8 832.8) rotate(-90)" class="tk" text-anchor="middle">1.5</text>
<path d="M53.7 791h-4.5" class="ax"/>
<text transform="translate(43.8 784.3) rotate(-90)" class="tk" text-anchor="middle">2.0</text>
<path d="M53.7 742.5h-4.5" class="ax"/>
<text transform="translate(43.8 735.8) rotate(-90)" class="tk" text-anchor="middle">2.5</text>
<text x="186.2" y="1033.8" class="at" text-anchor="middle">B/B<tspan class="sub" dy="7.6">MSY</tspan></text>
<text transform="translate(18.8 836) rotate(-90)" class="at" text-anchor="middle">F/F<tspan class="sub" dy="7.6">MSY</tspan></text>
<path d="M319.2 735.8H348.2" class="ll"/>
<rect x="330.1" y="732.1" width="7.4" height="7.4" class="lm"/>
<text x="363.2" y="741.1" class="lt">2012</text>
<path d="M319.2 755.5H348.2" class="ll"/>
<circle cx="333.8" cy="755.5" r="4.3" class="lm"/>
<text x="363.2" y="760.8" class="lt">2015.5</text>
<path d="M319.2 775.2H348.2" class="ll"/>
<path d="M333.8 768.9L339.4 778.8L328.1 778.8Z" class="lm"/>
<text x="363.2" y="780.5" class="lt">2019</text>
<rect x="328.6" y="789.8" width="10.4" height="10.4" fill="#eee8cd" class="lb"/>
<text x="363.2" y="800.3" class="lt">50% C.I.</text>
<rect x="328.6" y="809.5" width="10.4" height="10.4" fill="#bebebe" class="lb"/>
<text x="363.2" y="820" class="lt">80% C.I.</text>
<rect x="328.6" y="829.2" width="10.4" height="10.4" fill="#8b8878" class="lb"/>
<text x="363.2" y="839.7" class="lt">95% C.I.</text>
<rect x="327.2" y="847.6" width="13" height="13" fill="#ff0000" class="lq"/>
<text x="363.2" y="859.4" class="lt">40.9%</text>
<rect x="327.2" y="867.3" width="13" height="13" fill="#ffff00" class="lq"/>
<text x="363.2" y="879.1" class="lt">47.9%</text>
<rect x="327.2" y="887.1" width="13" height="13" fill="#ffa500" class="lq"/>
<text x="363.2" y="898.9" class="lt">1.4%</text>
<rect x="327.2" y="906.8" width="13" height="13" fill="#00ff00" class="lq"/>
<text x="363.2" y="918.6" class="lt">9.8%</text>
</g>
<g>
<clipPath id="c7"><rect x="481.8" y="731" width="254.5" height="254"/></clipPath>
<rect x="481.8" y="731" width="127.2" height="156" fill="#ff0000"/>
<rect x="609" y="731" width="127.2" height="156" fill="#ffa500"/>
<rect x="481.8" y="887" width="127.2" height="98" fill="#ffff00"/>
<rect x="609" y="887" width="127.2" height="98" fill="#00ff00"/>
<g clip-path="url(#c7)">
<path d="M542.3 716.4C543 717.1 544.4 718.5 544.8 719.9C545.1 721.3 544.6 723.1 544.4 724.7C544.2 726.4 543.8 728 543.7 729.7C543.6 731.3 543.8 733 543.9 734.6C544 736.3 544.2 737.9 544.4 739.6C544.6 741.2 544.9 742.9 545.1 744.6C545.3 746.2 545.5 747.9 545.8 749.5C546 751.2 546.3 752.8 546.5 754.4C546.8 756.1 547.1 757.7 547.4 759.4C547.6 761 547.9 762.7 548.2 764.3C548.5 765.9 548.8 767.6 549.1 769.2C549.5 770.9 549.8 772.5 550.1 774.1C550.5 775.8 550.8 777.4 551.2 779C551.5 780.6 551.9 782.3 552.3 783.9C552.7 785.5 553.1 787.1 553.5 788.7C553.9 790.3 554.3 792 554.8 793.6C555.2 795.2 555.6 796.8 556 798.4C556.5 800 556.9 801.6 557.4 803.2C557.8 804.8 558.3 806.4 558.7 808C559.2 809.6 559.7 811.2 560.1 812.8C560.6 814.4 561.1 816 561.6 817.6C562.1 819.2 562.6 820.8 563.1 822.4C563.6 824 564.1 825.6 564.6 827.1C565.2 828.7 565.7 830.3 566.3 831.9C566.8 833.4 567.4 835 567.9 836.6C568.5 838.2 569.1 839.7 569.6 841.3C570.2 842.9 570.8 844.4 571.3 846C571.8 847.6 572.4 849.2 572.9 850.7C573.4 852.3 573.9 853.9 574.4 855.5C574.9 857.1 575.4 858.7 575.8 860.3C576.3 861.9 576.8 863.5 577.2 865.1C577.7 866.7 578.1 868.3 578.6 869.9C579.1 871.5 579.6 873.1 580.1 874.7C580.6 876.3 581.2 877.8 581.7 879.4C582.3 881 583 882.5 583.6 884C584.2 885.6 584.9 887.1 585.6 888.6C586.2 890.2 586.9 891.7 587.5 893.2C588.1 894.8 588.8 896.3 589.4 897.9C590 899.4 590.5 901 591 902.6C591.5 904.2 592 905.8 592.5 907.4C593 908.9 593.5 910.5 594 912.1C594.5 913.7 595 915.3 595.5 916.9C595.9 918.5 596.4 920.1 596.8 921.7C597.3 923.3 597.7 924.9 598.1 926.6C598.5 928.2 598.9 929.8 599.1 931.5C599.4 933.1 599.5 934.8 599.6 936.4C599.7 938.1 599.8 939.8 599.7 941.4C599.7 943.1 599.6 944.8 599.4 946.4C599.2 948 598.8 949.7 598.3 951.2C597.8 952.8 597.2 954.4 596.5 955.9C595.8 957.4 594.9 958.8 594 960.2C593.1 961.6 592.1 962.9 591.1 964.2C590 965.5 588.9 966.8 587.8 968C586.6 969.2 585.4 970.3 584.2 971.4C582.9 972.5 581.6 973.6 580.2 974.5C578.8 975.4 577.4 976.2 575.9 976.9C574.4 977.7 572.8 978.2 571.2 978.7C569.7 979.2 568 979.6 566.4 979.9C564.8 980.2 563.1 980.3 561.4 980.4C559.8 980.4 558.1 980.3 556.5 980.1C554.8 980 553.2 979.6 551.6 979.2C549.9 978.8 548.4 978.3 546.8 977.7C545.3 977 543.8 976.3 542.3 975.5C540.9 974.7 539.5 973.8 538.2 972.8C536.8 971.8 535.5 970.7 534.3 969.6C533 968.5 531.8 967.4 530.7 966.2C529.5 965 528.3 963.8 527.2 962.6C526.1 961.3 525.1 960 524.1 958.7C523.1 957.3 522.2 955.9 521.3 954.5C520.4 953.1 519.6 951.6 518.9 950.2C518.1 948.7 517.4 947.1 516.8 945.6C516.2 944.1 515.7 942.5 515.1 940.9C514.5 939.3 514 937.8 513.4 936.2C512.9 934.6 512.3 933.1 511.9 931.5C511.4 929.9 511 928.2 510.7 926.6C510.3 925 510 923.3 509.7 921.7C509.5 920.1 509.2 918.4 509 916.8C508.7 915.1 508.5 913.5 508.2 911.8C508 910.2 507.8 908.5 507.5 906.9C507.3 905.2 507.1 903.6 506.9 901.9C506.7 900.2 506.4 898.6 506.3 896.9C506.1 895.3 505.9 893.6 505.8 892C505.6 890.3 505.5 888.6 505.4 887C505.3 885.3 505.2 883.6 505.2 882C505.1 880.3 505.1 878.7 505 877C505 875.3 505 873.7 505 872C505 870.3 504.9 868.7 504.9 867C504.9 865.3 504.9 863.7 504.9 862C504.9 860.3 504.9 858.7 505 857C505 855.3 505 853.7 505 852C505 850.3 505 848.7 505.1 847C505.1 845.3 505.1 843.7 505.1 842C505.2 840.3 505.2 838.7 505.3 837C505.3 835.3 505.3 833.7 505.4 832C505.4 830.3 505.4 828.7 505.5 827C505.5 825.3 505.5 823.7 505.6 822C505.6 820.3 505.6 818.7 505.7 817C505.7 815.3 505.7 813.7 505.8 812C505.8 810.3 505.8 808.7 505.9 807C505.9 805.3 505.9 803.7 506 802C506 800.3 506.1 798.7 506.1 797C506.2 795.3 506.2 793.7 506.3 792C506.3 790.3 506.4 788.7 506.4 787C506.5 785.3 506.5 783.7 506.6 782C506.6 780.3 506.7 778.7 506.7 777C506.8 775.3 506.8 773.7 506.9 772C506.9 770.3 507 768.7 507 767C507.1 765.3 507.1 763.7 507.2 762C507.2 760.3 507.3 758.7 507.3 757C507.4 755.3 507.4 753.7 507.5 752C507.5 750.4 507.6 748.7 507.6 747C507.7 745.4 507.7 743.7 507.7 742C507.8 740.4 507.8 738.7 507.9 737C507.9 735.4 508 733.7 507.9 732C507.8 730.4 507.6 728.7 507.3 727.1C507 725.5 506.3 723.8 506.2 722.3C506.2 720.7 506.2 719 506.9 717.8C507.7 716.7 509.3 716 510.8 715.5C512.3 714.9 514 714.8 515.7 714.6C517.3 714.4 519 714.3 520.7 714.3C522.3 714.2 524 714.2 525.7 714.2C527.3 714.2 529 714.2 530.7 714.3C532.3 714.4 534 714.5 535.6 714.7C537.3 714.9 539.4 715.3 540.5 715.6C541.6 715.9 541.5 715.7 542.3 716.4Z" fill="#8b8878"/>
<path d="M526.2 764.9C526.9 765.2 528 766.4 528.7 767.7C529.5 768.9 529.9 770.8 530.5 772.3C531 773.9 531.6 775.5 532.1 777C532.7 778.6 533.3 780.2 533.8 781.8C534.4 783.3 534.9 784.9 535.4 786.5C536 788.1 536.5 789.7 537 791.2C537.6 792.8 538.1 794.4 538.7 796C539.2 797.6 539.8 799.1 540.4 800.7C541 802.3 541.6 803.8 542.2 805.4C542.8 806.9 543.4 808.5 544 810C544.6 811.6 545.3 813.1 545.9 814.7C546.5 816.2 547.2 817.8 547.8 819.3C548.4 820.9 549 822.4 549.7 824C550.3 825.5 550.9 827.1 551.6 828.6C552.2 830.1 552.8 831.7 553.4 833.2C554.1 834.8 554.7 836.3 555.3 837.9C556 839.4 556.6 841 557.2 842.5C557.8 844.1 558.4 845.6 559 847.2C559.6 848.7 560.2 850.3 560.8 851.9C561.4 853.4 562 855 562.6 856.6C563.1 858.1 563.7 859.7 564.2 861.3C564.8 862.9 565.4 864.4 565.9 866C566.4 867.6 567 869.2 567.5 870.8C568 872.3 568.6 873.9 569.1 875.5C569.6 877.1 570.1 878.7 570.6 880.3C571.1 881.9 571.7 883.5 572.2 885.1C572.7 886.7 573.2 888.2 573.6 889.8C574.1 891.4 574.6 893 575 894.7C575.5 896.3 575.9 897.9 576.3 899.5C576.8 901.1 577.2 902.7 577.6 904.4C577.9 906 578.3 907.6 578.7 909.2C579 910.9 579.4 912.5 579.7 914.1C580.1 915.8 580.4 917.4 580.7 919.1C581 920.7 581.2 922.3 581.5 924C581.7 925.7 581.9 927.3 581.9 929C582 930.6 581.9 932.3 581.7 934C581.6 935.6 581.2 937.3 580.9 938.9C580.5 940.5 580.2 942.2 579.7 943.7C579.2 945.3 578.6 946.9 577.9 948.4C577.3 949.9 576.5 951.4 575.6 952.8C574.7 954.2 573.7 955.6 572.6 956.8C571.5 958.1 570.3 959.2 568.9 960.2C567.6 961.2 566.1 961.9 564.6 962.6C563.1 963.3 561.5 963.9 559.9 964.3C558.3 964.8 556.7 965.1 555 965.2C553.4 965.4 551.7 965.3 550 965.1C548.4 964.9 546.8 964.4 545.2 963.8C543.7 963.3 542.2 962.6 540.7 961.7C539.3 960.9 537.9 960 536.6 958.9C535.3 957.9 534.1 956.7 533 955.5C531.8 954.3 530.8 953 529.8 951.6C528.8 950.3 527.9 948.9 527 947.5C526.2 946 525.4 944.6 524.6 943.1C523.9 941.6 523.2 940.1 522.5 938.5C521.8 937 521.1 935.5 520.5 933.9C519.9 932.4 519.4 930.8 518.9 929.2C518.4 927.6 518 926 517.6 924.4C517.3 922.7 516.9 921.1 516.6 919.5C516.3 917.8 515.9 916.2 515.6 914.5C515.3 912.9 515 911.3 514.8 909.6C514.5 908 514.2 906.3 514 904.7C513.8 903 513.6 901.3 513.4 899.7C513.2 898 513 896.4 512.8 894.7C512.7 893 512.6 891.4 512.4 889.7C512.3 888 512.2 886.4 512.1 884.7C512 883 512 881.4 511.9 879.7C511.8 878 511.8 876.4 511.7 874.7C511.7 873 511.6 871.4 511.6 869.7C511.6 868 511.5 866.4 511.5 864.7C511.5 863 511.5 861.3 511.5 859.7C511.6 858 511.6 856.3 511.6 854.7C511.7 853 511.7 851.3 511.8 849.7C511.9 848 512 846.3 512.1 844.7C512.2 843 512.3 841.3 512.5 839.7C512.6 838 512.8 836.3 512.9 834.7C513.1 833 513.2 831.3 513.4 829.7C513.5 828 513.7 826.4 513.9 824.7C514.1 823 514.2 821.4 514.4 819.7C514.6 818.1 514.8 816.4 515 814.7C515.2 813.1 515.4 811.4 515.6 809.8C515.8 808.1 516 806.4 516.2 804.8C516.4 803.1 516.7 801.5 516.9 799.8C517.2 798.2 517.4 796.5 517.6 794.9C517.9 793.2 518.1 791.6 518.4 789.9C518.7 788.3 518.9 786.6 519.2 785C519.5 783.3 519.8 781.7 520.1 780.1C520.5 778.4 520.8 776.8 521.2 775.2C521.7 773.6 522.1 771.9 522.6 770.4C523.2 768.8 523.9 766.9 524.5 766C525.1 765.1 525.5 764.6 526.2 764.9Z" fill="#bebebe"/>
<path d="M529.8 833.5C530.8 833.5 531.9 834.9 532.8 836C533.7 837.2 534.4 838.9 535.1 840.4C535.8 841.9 536.4 843.5 537 845.1C537.6 846.6 538.2 848.2 538.8 849.7C539.4 851.3 540 852.8 540.6 854.4C541.2 855.9 541.8 857.5 542.5 859C543.1 860.6 543.7 862.1 544.3 863.7C544.9 865.2 545.6 866.8 546.2 868.3C546.8 869.9 547.4 871.4 548 873C548.7 874.5 549.3 876.1 549.9 877.6C550.6 879.2 551.2 880.7 551.9 882.2C552.5 883.8 553.2 885.3 553.8 886.9C554.5 888.4 555.1 889.9 555.7 891.5C556.4 893 557 894.6 557.5 896.1C558.1 897.7 558.7 899.3 559.2 900.9C559.7 902.5 560.2 904.1 560.6 905.7C561.1 907.3 561.5 908.9 561.9 910.5C562.3 912.1 562.7 913.8 563 915.4C563.4 917 563.7 918.6 564 920.3C564.3 921.9 564.6 923.6 564.8 925.2C565 926.9 565.3 928.5 565.3 930.2C565.3 931.9 565.2 933.5 564.9 935.2C564.6 936.8 564.2 938.4 563.6 939.9C562.9 941.4 562 942.9 561 944.1C559.9 945.3 558.6 946.4 557.2 947.3C555.9 948.2 554.3 949.1 552.8 949.5C551.3 950 549.6 950.2 548 950.1C546.4 949.9 544.8 949.2 543.4 948.5C541.9 947.8 540.5 946.8 539.1 945.8C537.8 944.9 536.5 943.8 535.3 942.7C534.1 941.5 533 940.2 532.1 938.8C531.2 937.5 530.4 936 529.7 934.5C529 933 528.4 931.4 527.9 929.8C527.4 928.2 526.9 926.6 526.5 925C526.1 923.4 525.7 921.8 525.3 920.2C524.9 918.5 524.6 916.9 524.2 915.3C523.9 913.6 523.6 912 523.3 910.4C523 908.7 522.7 907.1 522.4 905.4C522.2 903.8 521.9 902.1 521.7 900.5C521.5 898.8 521.3 897.2 521.2 895.5C521 893.8 520.9 892.2 520.8 890.5C520.7 888.8 520.6 887.2 520.6 885.5C520.5 883.8 520.5 882.2 520.5 880.5C520.5 878.8 520.5 877.2 520.5 875.5C520.6 873.8 520.7 872.2 520.8 870.5C520.9 868.8 521.1 867.2 521.2 865.5C521.4 863.9 521.6 862.2 521.7 860.5C521.9 858.9 522.1 857.2 522.4 855.6C522.6 853.9 522.8 852.3 523.1 850.6C523.4 849 523.6 847.3 524 845.7C524.3 844.1 524.8 842.4 525.3 840.9C525.8 839.3 526.3 837.4 527 836.2C527.8 835 528.8 833.5 529.8 833.5Z" fill="#eee8cd"/>
<path d="M481.8 887H736.2M609 731V985" fill="none" stroke="#000" stroke-opacity="0.16" stroke-width="0.6" stroke-dasharray="2.5 2"/>
<path d="M512 864L513 845.5L508.8 895L528 942.5L555 936.5L569.5 909.5L561 866.2L537.5 893" fill="none" stroke="#000" stroke-opacity="0.85" stroke-width="0.6"/>
<circle cx="513" cy="845.5" r="1.7" fill="#000"/>
<circle cx="508.8" cy="895" r="1.7" fill="#000"/>
<circle cx="528" cy="942.5" r="1.7" fill="#000"/>
<circle cx="555" cy="936.5" r="1.7" fill="#000"/>
<circle cx="569.5" cy="909.5" r="1.7" fill="#000"/>
<circle cx="561" cy="866.2" r="1.7" fill="#000"/>
</g>
<rect x="510" y="862" width="4" height="4" fill="#fff" stroke="#000" stroke-width="0.6"/>
<path d="M537.5 889.5 L540.7 895.3 L534.3 895.3 Z" fill="#fff" stroke="#000" stroke-width="0.6"/>
<rect x="665" y="842.2" width="70" height="28.1" fill="#fff"/>
<text x="701" y="864.6" class="ml" text-anchor="middle">AMSY</text>
<path d="M481.8 985.5H736.2" class="ax"/>
<path d="M481.8 985.5v4.5" class="ax"/>
<text x="482.9" y="1006.2" class="tk" text-anchor="middle">0.0</text>
<path d="M545.4 985.5v4.5" class="ax"/>
<text x="546.6" y="1006.2" class="tk" text-anchor="middle">0.5</text>
<path d="M609 985.5v4.5" class="ax"/>
<text x="610.2" y="1006.2" class="tk" text-anchor="middle">1.0</text>
<path d="M672.6 985.5v4.5" class="ax"/>
<text x="673.8" y="1006.2" class="tk" text-anchor="middle">1.5</text>
<path d="M736.2 985.5v4.5" class="ax"/>
<text x="737.5" y="1006.2" class="tk" text-anchor="middle">2.0</text>
<path d="M481.2 985V740" class="ax"/>
<path d="M481.2 985h-4.5" class="ax"/>
<text transform="translate(472.3 976.3) rotate(-90)" class="tk" text-anchor="middle">0.0</text>
<path d="M481.2 936h-4.5" class="ax"/>
<text transform="translate(472.3 927.9) rotate(-90)" class="tk" text-anchor="middle">0.5</text>
<path d="M481.2 887h-4.5" class="ax"/>
<text transform="translate(472.3 879.5) rotate(-90)" class="tk" text-anchor="middle">1.0</text>
<path d="M481.2 838h-4.5" class="ax"/>
<text transform="translate(472.3 831.1) rotate(-90)" class="tk" text-anchor="middle">1.5</text>
<path d="M481.2 789h-4.5" class="ax"/>
<text transform="translate(472.3 782.7) rotate(-90)" class="tk" text-anchor="middle">2.0</text>
<path d="M481.2 740h-4.5" class="ax"/>
<text transform="translate(472.3 734.3) rotate(-90)" class="tk" text-anchor="middle">2.5</text>
<text x="603.2" y="1033.8" class="at" text-anchor="middle">B/B<tspan class="sub" dy="7.6">MSY</tspan></text>
<text transform="translate(449.5 836) rotate(-90)" class="at" text-anchor="middle">F/F<tspan class="sub" dy="7.6">MSY</tspan></text>
<path d="M749.2 735.8H778.2" class="ll"/>
<rect x="760" y="732.1" width="7.4" height="7.4" class="lm"/>
<text x="793.2" y="741.1" class="lt">2012</text>
<path d="M749.2 755.5H778.2" class="ll"/>
<circle cx="763.8" cy="755.5" r="4.3" class="lm"/>
<text x="793.2" y="760.8" class="lt">2015.5</text>
<path d="M749.2 775.2H778.2" class="ll"/>
<path d="M763.8 768.9L769.5 778.8L758 778.8Z" class="lm"/>
<text x="793.2" y="780.5" class="lt">2019</text>
<rect x="758.5" y="789.8" width="10.4" height="10.4" fill="#eee8cd" class="lb"/>
<text x="793.2" y="800.3" class="lt">50% C.I.</text>
<rect x="758.5" y="809.5" width="10.4" height="10.4" fill="#bebebe" class="lb"/>
<text x="793.2" y="820" class="lt">80% C.I.</text>
<rect x="758.5" y="829.2" width="10.4" height="10.4" fill="#8b8878" class="lb"/>
<text x="793.2" y="839.7" class="lt">95% C.I.</text>
<rect x="757.2" y="847.6" width="13" height="13" fill="#ff0000" class="lq"/>
<text x="793.2" y="859.4" class="lt">45.3%</text>
<rect x="757.2" y="867.3" width="13" height="13" fill="#ffff00" class="lq"/>
<text x="793.2" y="879.1" class="lt">54.5%</text>
<rect x="757.2" y="887.1" width="13" height="13" fill="#ffa500" class="lq"/>
<text x="793.2" y="898.9" class="lt">0%</text>
<rect x="757.2" y="906.8" width="13" height="13" fill="#00ff00" class="lq"/>
<text x="793.2" y="918.6" class="lt">0.2%</text>
</g>
<g>
<clipPath id="c8"><rect x="954.2" y="727.5" width="250.2" height="255.1"/></clipPath>
<rect x="954.2" y="727.5" width="65.9" height="127.2" fill="#ff0000"/>
<rect x="1020.1" y="727.5" width="184.4" height="127.2" fill="#ffa500"/>
<rect x="954.2" y="854.8" width="65.9" height="127.9" fill="#ffff00"/>
<rect x="1020.1" y="854.8" width="184.4" height="127.9" fill="#00ff00"/>
<g clip-path="url(#c8)">
<path d="M1016 890.8C1017.1 890 1018.8 889.9 1020.4 889.7C1022 889.6 1023.8 889.7 1025.4 890C1027 890.2 1028.7 890.5 1030.2 891.2C1031.6 891.8 1033 892.9 1034.2 894C1035.4 895.1 1036.5 896.4 1037.6 897.6C1038.7 898.9 1039.6 900.3 1040.7 901.5C1041.9 902.6 1043.3 903.6 1044.6 904.5C1046 905.4 1047.6 906.1 1049 906.9C1050.4 907.8 1051.9 908.7 1053.3 909.6C1054.7 910.5 1056 911.4 1057.4 912.3C1058.8 913.3 1060.1 914.3 1061.5 915.2C1062.9 916.1 1064.3 917 1065.8 917.8C1067.2 918.6 1068.8 919.3 1070.2 920.1C1071.7 920.9 1073.1 921.7 1074.5 922.7C1075.8 923.6 1077.1 924.7 1078.4 925.8C1079.6 926.9 1080.8 928.1 1082 929.2C1083.2 930.4 1084.3 931.6 1085.5 932.8C1086.7 934 1087.9 935.1 1089.1 936.3C1090.4 937.4 1091.6 938.5 1092.9 939.5C1094.3 940.5 1095.6 941.5 1097 942.5C1098.3 943.4 1099.7 944.3 1101.2 945.2C1102.6 946.1 1104 946.9 1105.5 947.7C1107 948.5 1108.5 949.2 1109.9 950C1111.4 950.7 1113 951.4 1114.4 952.2C1115.9 953 1117.4 953.7 1118.8 954.6C1120.3 955.4 1121.6 956.4 1123 957.3C1124.5 958.1 1125.9 959.1 1127.3 959.8C1128.8 960.5 1130.4 961.1 1132 961.6C1133.5 962.2 1135.2 962.6 1136.8 963C1138.4 963.5 1140 963.9 1141.6 964.3C1143.2 964.7 1144.9 965.1 1146.5 965.5C1148.1 965.9 1149.7 966.3 1151.3 966.8C1152.9 967.2 1154.5 967.7 1156.1 968.3C1157.6 968.9 1159.3 969.4 1160.7 970.2C1162.1 971 1163.9 972 1164.4 972.9C1164.9 973.9 1164.4 975.2 1163.6 976C1162.7 976.7 1160.6 977.1 1159 977.4C1157.5 977.7 1155.7 977.8 1154.1 978C1152.4 978.2 1150.8 978.3 1149.1 978.4C1147.4 978.5 1145.8 978.7 1144.1 978.8C1142.4 978.9 1140.8 979 1139.1 979.2C1137.5 979.3 1135.8 979.3 1134.1 979.4C1132.5 979.5 1130.8 979.6 1129.1 979.7C1127.5 979.8 1125.8 979.8 1124.1 979.9C1122.5 979.9 1120.8 980 1119.1 980.1C1117.5 980.1 1115.8 980.2 1114.1 980.2C1112.5 980.3 1110.8 980.3 1109.1 980.4C1107.5 980.4 1105.8 980.4 1104.1 980.5C1102.5 980.5 1100.8 980.5 1099.1 980.6C1097.4 980.6 1095.8 980.6 1094.1 980.7C1092.4 980.7 1090.8 980.7 1089.1 980.7C1087.4 980.8 1085.8 980.8 1084.1 980.8C1082.4 980.8 1080.8 980.8 1079.1 980.8C1077.4 980.8 1075.8 980.8 1074.1 980.8C1072.4 980.8 1070.8 980.8 1069.1 980.8C1067.4 980.8 1065.8 980.8 1064.1 980.8C1062.4 980.8 1060.8 980.8 1059.1 980.8C1057.4 980.8 1055.7 980.8 1054.1 980.8C1052.4 980.8 1050.7 980.8 1049.1 980.8C1047.4 980.8 1045.7 980.8 1044.1 980.8C1042.4 980.7 1040.7 980.7 1039.1 980.7C1037.4 980.7 1035.7 980.6 1034.1 980.6C1032.4 980.5 1030.7 980.4 1029.1 980.3C1027.4 980.2 1025.7 980.1 1024.1 979.9C1022.4 979.7 1020.8 979.5 1019.1 979.2C1017.5 978.9 1015.9 978.5 1014.3 978.1C1012.7 977.6 1011.1 977.1 1009.5 976.5C1008 975.8 1006.5 975.1 1005 974.3C1003.6 973.5 1002.2 972.6 1000.9 971.6C999.6 970.6 998.3 969.4 997.3 968.2C996.2 966.9 995.3 965.5 994.6 964C993.8 962.5 993.3 960.9 992.9 959.3C992.5 957.7 992.3 956 992.3 954.4C992.3 952.8 992.5 951.1 992.7 949.5C993 947.8 993.5 946.2 993.8 944.6C994 942.9 994.1 941.3 994.2 939.6C994.3 938 994.2 936.3 994.3 934.6C994.5 933 994.7 931.3 995.1 929.7C995.5 928.1 995.9 926.5 996.5 924.9C997 923.4 997.7 921.8 998.4 920.3C999.1 918.8 999.9 917.3 1000.7 915.9C1001.5 914.4 1002.4 913 1003.3 911.6C1004.2 910.2 1005.1 908.8 1006.1 907.5C1007.1 906.1 1008.2 904.9 1009.2 903.5C1010.1 902.2 1011.2 900.9 1011.9 899.4C1012.7 897.9 1013 896.2 1013.6 894.8C1014.3 893.3 1014.8 891.7 1016 890.8Z" fill="#8b8878"/>
<path d="M1023 924.6C1024 924.5 1026.3 924.2 1028 924.1C1029.7 924 1031.3 923.9 1033 924C1034.7 924.1 1036.3 924.3 1038 924.6C1039.6 924.9 1041.2 925.3 1042.8 925.8C1044.4 926.2 1046 926.7 1047.6 927.2C1049.2 927.7 1050.8 928.3 1052.3 928.9C1053.9 929.6 1055.4 930.2 1056.9 930.9C1058.4 931.6 1060 932.3 1061.4 933.1C1062.9 933.9 1064.4 934.7 1065.8 935.5C1067.3 936.3 1068.7 937.2 1070.1 938.1C1071.5 939 1072.9 939.9 1074.4 940.8C1075.8 941.7 1077.2 942.5 1078.6 943.4C1080 944.3 1081.4 945.2 1082.9 946.1C1084.3 947 1085.7 947.9 1087.1 948.8C1088.5 949.6 1089.9 950.5 1091.4 951.4C1092.8 952.3 1094.2 953.2 1095.6 954.1C1097 955 1098.4 955.9 1099.8 956.8C1101.2 957.6 1102.6 958.5 1104.1 959.4C1105.5 960.2 1107 961 1108.5 961.8C1110 962.6 1111.5 963.3 1113 964C1114.5 964.8 1116 965.4 1117.5 966.1C1119.1 966.8 1120.6 967.4 1122.1 968.1C1123.6 968.8 1125.5 969.4 1126.6 970.2C1127.7 971 1128.9 972.2 1128.8 973.1C1128.6 973.9 1126.9 974.8 1125.5 975.3C1124.2 975.8 1122.3 975.9 1120.6 976.1C1119 976.3 1117.3 976.4 1115.6 976.5C1114 976.6 1112.3 976.6 1110.6 976.7C1109 976.8 1107.3 976.8 1105.6 976.8C1103.9 976.9 1102.3 976.9 1100.6 976.9C1098.9 977 1097.3 977 1095.6 977C1093.9 977.1 1092.3 977.1 1090.6 977.1C1088.9 977.1 1087.2 977.2 1085.6 977.2C1083.9 977.2 1082.2 977.2 1080.6 977.2C1078.9 977.2 1077.2 977.3 1075.5 977.3C1073.9 977.3 1072.2 977.3 1070.5 977.3C1068.9 977.3 1067.2 977.3 1065.5 977.3C1063.9 977.3 1062.2 977.3 1060.5 977.3C1058.8 977.3 1057.2 977.2 1055.5 977.2C1053.8 977.2 1052.2 977.2 1050.5 977.2C1048.8 977.2 1047.1 977.2 1045.5 977.1C1043.8 977.1 1042.1 977 1040.5 977C1038.8 976.9 1037.1 976.9 1035.5 976.8C1033.8 976.7 1032.1 976.7 1030.5 976.5C1028.8 976.4 1027.1 976.2 1025.5 975.9C1023.8 975.7 1022.2 975.3 1020.6 974.9C1019 974.5 1017.4 974 1015.8 973.3C1014.3 972.7 1012.8 972 1011.4 971C1010.1 970.1 1008.8 969 1007.8 967.7C1006.9 966.4 1006.2 964.9 1005.7 963.3C1005.3 961.7 1005.1 960 1005.1 958.4C1005.1 956.7 1005.4 955.1 1005.7 953.4C1005.9 951.8 1006.3 950.2 1006.7 948.5C1007.1 946.9 1007.6 945.3 1008.1 943.7C1008.6 942.1 1009.1 940.5 1009.6 938.9C1010.2 937.4 1010.8 935.8 1011.5 934.3C1012.2 932.8 1012.9 931.3 1013.9 930C1014.9 928.7 1016.2 927.5 1017.5 926.6C1018.9 925.7 1021.1 925.1 1022 924.8C1023 924.4 1022 924.7 1023 924.6Z" fill="#bebebe"/>
<path d="M1031.8 943.6C1032.9 943.6 1035.1 943.5 1036.8 943.5C1038.4 943.6 1040.1 943.7 1041.8 943.9C1043.4 944.1 1045.1 944.4 1046.7 944.8C1048.4 945.1 1050 945.6 1051.6 946.1C1053.2 946.6 1054.8 947.1 1056.3 947.7C1057.9 948.2 1059.5 948.8 1061 949.5C1062.6 950.1 1064.1 950.8 1065.6 951.5C1067.1 952.2 1068.6 953 1070.1 953.8C1071.6 954.5 1073.1 955.3 1074.6 956C1076.1 956.8 1077.6 957.5 1079.1 958.3C1080.6 959 1082.1 959.8 1083.6 960.6C1085 961.4 1086.5 962.2 1087.9 963C1089.4 963.9 1090.9 964.7 1092.3 965.6C1093.7 966.4 1095.5 967.2 1096.5 968.2C1097.5 969.1 1098.4 970.4 1098 971.2C1097.7 972 1095.8 972.7 1094.4 973.1C1093 973.6 1091.1 973.7 1089.5 974C1087.8 974.2 1086.1 974.3 1084.5 974.5C1082.8 974.6 1081.1 974.7 1079.4 974.8C1077.8 974.9 1076.1 975 1074.4 975C1072.7 975.1 1071.1 975.1 1069.4 975.2C1067.7 975.2 1066 975.2 1064.4 975.3C1062.7 975.3 1061 975.3 1059.3 975.3C1057.7 975.3 1056 975.4 1054.3 975.3C1052.6 975.3 1051 975.3 1049.3 975.2C1047.6 975.1 1045.9 975.1 1044.3 974.9C1042.6 974.8 1040.9 974.7 1039.3 974.5C1037.6 974.3 1035.9 974 1034.3 973.7C1032.7 973.3 1031 973 1029.5 972.4C1027.9 971.9 1026.3 971.3 1024.9 970.4C1023.5 969.6 1022.1 968.5 1021.1 967.3C1020 966 1019.2 964.5 1018.7 963C1018.2 961.5 1018 959.8 1018 958.1C1018.1 956.5 1018.5 954.8 1019.1 953.3C1019.7 951.8 1020.6 950.3 1021.6 949C1022.6 947.8 1023.9 946.6 1025.2 945.7C1026.6 944.9 1028.7 944.3 1029.8 943.9C1030.9 943.6 1030.6 943.7 1031.8 943.6Z" fill="#eee8cd"/>
<path d="M954.2 854.8H1204.5M1020.1 727.5V982.6" fill="none" stroke="#000" stroke-opacity="0.16" stroke-width="0.6" stroke-dasharray="2.5 2"/>
<path d="M975 823.5L978 734.5L977.2 699" fill="none" stroke="#000" stroke-opacity="0.85" stroke-width="0.6"/>
<path d="M970.5 699L967.5 809.5L987.2 929L1018 946.2L1044.5 952.2L1051.2 958.5" fill="none" stroke="#000" stroke-opacity="0.85" stroke-width="0.6"/>
<circle cx="978" cy="734.5" r="1.7" fill="#000"/>
<circle cx="967.5" cy="809.5" r="1.7" fill="#000"/>
<circle cx="987.2" cy="929" r="1.7" fill="#000"/>
<circle cx="1018" cy="946.2" r="1.7" fill="#000"/>
<circle cx="1044.5" cy="952.2" r="1.7" fill="#000"/>
</g>
<rect x="973" y="821.5" width="4" height="4" fill="#fff" stroke="#000" stroke-width="0.6"/>
<path d="M1051.2 955 L1054.5 960.8 L1048 960.8 Z" fill="#fff" stroke="#000" stroke-width="0.6"/>
<rect x="1132.2" y="836.5" width="70.5" height="28" fill="#fff"/>
<text x="1167" y="858.9" class="ml" text-anchor="middle">AMSY</text>
<path d="M954.2 984.4H1185.2" class="ax"/>
<path d="M954.2 984.4v4.5" class="ax"/>
<text x="955.5" y="1003" class="tk" text-anchor="middle">0.0</text>
<path d="M987.2 984.4v4.5" class="ax"/>
<text x="988.5" y="1003" class="tk" text-anchor="middle">0.5</text>
<path d="M1020.2 984.4v4.5" class="ax"/>
<text x="1021.5" y="1003" class="tk" text-anchor="middle">1.0</text>
<path d="M1053.2 984.4v4.5" class="ax"/>
<text x="1054.5" y="1003" class="tk" text-anchor="middle">1.5</text>
<path d="M1086.2 984.4v4.5" class="ax"/>
<text x="1087.5" y="1003" class="tk" text-anchor="middle">2.0</text>
<path d="M1119.2 984.4v4.5" class="ax"/>
<text x="1120.5" y="1003" class="tk" text-anchor="middle">2.5</text>
<path d="M1152.2 984.4v4.5" class="ax"/>
<text x="1153.5" y="1003" class="tk" text-anchor="middle">3.0</text>
<path d="M1185.2 984.4v4.5" class="ax"/>
<text x="1186.5" y="1003" class="tk" text-anchor="middle">3.5</text>
<path d="M953.8 982.5V727.5" class="ax"/>
<path d="M953.8 982.5h-4.5" class="ax"/>
<text transform="translate(944 975.3) rotate(-90)" class="tk" text-anchor="middle">0.0</text>
<path d="M953.8 918.8h-4.5" class="ax"/>
<text transform="translate(944 913.2) rotate(-90)" class="tk" text-anchor="middle">0.5</text>
<path d="M953.8 855h-4.5" class="ax"/>
<text transform="translate(944 851.1) rotate(-90)" class="tk" text-anchor="middle">1.0</text>
<path d="M953.8 791.2h-4.5" class="ax"/>
<text transform="translate(944 789.1) rotate(-90)" class="tk" text-anchor="middle">1.5</text>
<path d="M953.8 727.5h-4.5" class="ax"/>
<text transform="translate(944 727) rotate(-90)" class="tk" text-anchor="middle">2.0</text>
<text x="1103" y="1028" class="at" text-anchor="middle">B/B<tspan class="sub" dy="7.6">MSY</tspan></text>
<text transform="translate(918 841) rotate(-90)" class="at" text-anchor="middle">F/F<tspan class="sub" dy="7.6">MSY</tspan></text>
<path d="M1212.5 735.8H1241.5" class="ll"/>
<rect x="1223.3" y="732.1" width="7.4" height="7.4" class="lm"/>
<text x="1256.5" y="741.1" class="lt">2012</text>
<path d="M1212.5 755.5H1241.5" class="ll"/>
<circle cx="1227" cy="755.5" r="4.3" class="lm"/>
<text x="1256.5" y="760.8" class="lt">2015.5</text>
<path d="M1212.5 775.2H1241.5" class="ll"/>
<path d="M1227 768.9L1232.7 778.8L1221.3 778.8Z" class="lm"/>
<text x="1256.5" y="780.5" class="lt">2019</text>
<rect x="1221.8" y="789.8" width="10.4" height="10.4" fill="#eee8cd" class="lb"/>
<text x="1256.5" y="800.3" class="lt">50% C.I.</text>
<rect x="1221.8" y="809.5" width="10.4" height="10.4" fill="#bebebe" class="lb"/>
<text x="1256.5" y="820" class="lt">80% C.I.</text>
<rect x="1221.8" y="829.2" width="10.4" height="10.4" fill="#8b8878" class="lb"/>
<text x="1256.5" y="839.7" class="lt">95% C.I.</text>
<rect x="1220.5" y="847.6" width="13" height="13" fill="#ff0000" class="lq"/>
<text x="1256.5" y="859.4" class="lt">0.1%</text>
<rect x="1220.5" y="867.3" width="13" height="13" fill="#ffff00" class="lq"/>
<text x="1256.5" y="879.1" class="lt">9.3%</text>
<rect x="1220.5" y="887.1" width="13" height="13" fill="#ffa500" class="lq"/>
<text x="1256.5" y="898.9" class="lt">0.1%</text>
<rect x="1220.5" y="906.8" width="13" height="13" fill="#00ff00" class="lq"/>
<text x="1256.5" y="918.6" class="lt">90.5%</text>
</g>
<g>
<clipPath id="c9"><rect x="1405.8" y="113.8" width="245.2" height="245.5"/></clipPath>
<rect x="1405.8" y="113.8" width="122.8" height="214.5" fill="#ff0000"/>
<rect x="1528.5" y="113.8" width="122.5" height="214.5" fill="#ffa500"/>
<rect x="1405.8" y="328.2" width="122.8" height="31" fill="#ffff00"/>
<rect x="1528.5" y="328.2" width="122.5" height="31" fill="#00ff00"/>
<g clip-path="url(#c9)">
<path d="M1466.5 283.2C1464.9 283.5 1463.3 284 1461.9 284.8C1460.6 285.6 1459.3 286.8 1458.4 288.1C1457.4 289.4 1456.6 290.9 1456.1 292.4C1455.6 294 1455.3 295.7 1455.3 297.3C1455.3 298.9 1455.5 300.6 1455.9 302.2C1456.2 303.8 1456.7 305.5 1457.3 307C1457.9 308.6 1458.6 310.1 1459.4 311.5C1460.2 313 1461.1 314.4 1462.1 315.7C1463.1 317 1464.2 318.3 1465.4 319.5C1466.5 320.7 1467.7 321.9 1469 322.9C1470.2 324 1471.6 325 1473 325.9C1474.4 326.8 1475.8 327.7 1477.3 328.4C1478.8 329.2 1480.3 329.9 1481.8 330.6C1483.3 331.3 1484.9 331.9 1486.5 332.4C1488 333 1489.6 333.5 1491.2 334C1492.8 334.5 1494.4 334.9 1496 335.3C1497.6 335.7 1499.3 336.1 1500.9 336.4C1502.5 336.8 1504.2 337.1 1505.8 337.4C1507.5 337.6 1509.1 337.9 1510.8 338.1C1512.4 338.3 1514.1 338.5 1515.8 338.6C1517.4 338.8 1519.1 338.9 1520.7 339C1522.4 339.1 1524.1 339.2 1525.7 339.3C1527.4 339.4 1529.1 339.5 1530.7 339.6C1532.4 339.6 1534.1 339.7 1535.7 339.7C1537.4 339.7 1539.1 339.7 1540.7 339.7C1542.4 339.7 1544.1 339.7 1545.7 339.6C1547.4 339.6 1549.1 339.5 1550.7 339.4C1552.4 339.2 1554.1 339.1 1555.7 338.9C1557.4 338.7 1559.1 338.5 1560.7 338.2C1562.3 337.8 1564.2 337.5 1565.3 336.7C1566.5 335.9 1567.6 334.6 1567.6 333.4C1567.5 332.3 1566.2 330.9 1565.2 329.8C1564.1 328.7 1562.5 327.8 1561.1 326.9C1559.8 325.9 1558.3 325.1 1556.9 324.3C1555.4 323.4 1554 322.6 1552.5 321.8C1551 321 1549.6 320.2 1548.1 319.5C1546.6 318.7 1545.1 318 1543.6 317.2C1542.1 316.5 1540.6 315.8 1539.1 315C1537.6 314.3 1536.1 313.5 1534.6 312.8C1533.1 312.1 1531.6 311.3 1530.1 310.6C1528.6 309.9 1527.1 309.1 1525.6 308.4C1524.2 307.6 1522.7 306.9 1521.2 306.2C1519.7 305.4 1518.2 304.7 1516.7 303.9C1515.2 303.1 1513.7 302.3 1512.3 301.5C1510.8 300.7 1509.4 299.9 1507.9 299.1C1506.5 298.2 1505.1 297.4 1503.6 296.5C1502.2 295.7 1500.7 294.9 1499.3 294C1497.8 293.2 1496.4 292.4 1494.9 291.7C1493.4 290.9 1491.9 290.1 1490.4 289.4C1488.9 288.6 1487.4 287.9 1485.9 287.2C1484.4 286.6 1482.8 286 1481.2 285.5C1479.6 285 1478 284.5 1476.4 284.2C1474.8 283.8 1473.1 283.5 1471.5 283.3C1469.8 283.2 1468.1 283 1466.5 283.2Z" fill="#8b8878"/>
<path d="M1474 294.8C1473 295.1 1470.8 295.6 1469.5 296.5C1468.2 297.4 1467.1 298.7 1466.4 300.1C1465.7 301.5 1465.5 303.2 1465.5 304.8C1465.5 306.4 1466 308.1 1466.5 309.6C1467.1 311.2 1468 312.6 1468.9 314C1469.9 315.3 1471 316.6 1472.2 317.7C1473.4 318.8 1474.7 319.9 1476.1 320.8C1477.4 321.8 1478.9 322.6 1480.4 323.4C1481.8 324.2 1483.3 324.9 1484.9 325.5C1486.4 326.2 1488 326.8 1489.6 327.3C1491.1 327.9 1492.7 328.4 1494.3 328.8C1495.9 329.3 1497.5 329.7 1499.2 330.1C1500.8 330.4 1502.4 330.8 1504.1 331.1C1505.7 331.5 1507.3 331.8 1509 332.1C1510.6 332.3 1512.3 332.6 1513.9 332.8C1515.6 333.1 1517.2 333.3 1518.9 333.5C1520.5 333.7 1522.2 333.8 1523.9 334C1525.5 334.1 1527.2 334.3 1528.8 334.3C1530.5 334.4 1532.2 334.5 1533.8 334.5C1535.5 334.5 1537.2 334.6 1538.8 334.4C1540.5 334.2 1542.4 334.1 1543.6 333.5C1544.8 332.8 1545.9 331.6 1545.8 330.5C1545.8 329.4 1544.4 328 1543.3 326.9C1542.2 325.8 1540.7 324.9 1539.3 324C1537.9 323.1 1536.4 322.3 1534.9 321.6C1533.4 320.8 1531.9 320.1 1530.4 319.3C1528.9 318.6 1527.4 317.9 1525.9 317.2C1524.4 316.4 1522.9 315.7 1521.4 315C1519.9 314.2 1518.4 313.5 1516.9 312.7C1515.4 312 1514 311.2 1512.5 310.5C1511 309.7 1509.5 309 1508 308.2C1506.5 307.5 1505 306.7 1503.5 306C1502 305.2 1500.5 304.5 1499 303.7C1497.5 303 1496.1 302.2 1494.6 301.5C1493.1 300.8 1491.6 300 1490.1 299.3C1488.6 298.6 1487.1 297.8 1485.5 297.2C1484 296.5 1482.5 295.8 1480.9 295.4C1479.3 295 1477.1 294.7 1476 294.6C1474.9 294.5 1475.1 294.5 1474 294.8Z" fill="#bebebe"/>
<path d="M1485.3 304C1484.3 304.3 1481.9 304.6 1480.7 305.5C1479.4 306.3 1478.2 307.7 1477.7 309.1C1477.3 310.4 1477.5 312.3 1478 313.7C1478.5 315.2 1479.7 316.6 1480.8 317.7C1481.9 318.9 1483.3 319.9 1484.7 320.8C1486.1 321.6 1487.7 322.4 1489.2 323C1490.8 323.6 1492.4 324.1 1494 324.6C1495.6 325.1 1497.2 325.5 1498.9 325.9C1500.5 326.3 1502.1 326.6 1503.8 326.9C1505.4 327.2 1507.1 327.5 1508.8 327.8C1510.4 328 1512.1 328.3 1513.8 328.4C1515.4 328.5 1517.1 328.7 1518.8 328.7C1520.5 328.6 1522.3 328.6 1523.8 328.2C1525.2 327.7 1527 327 1527.6 326C1528.1 325 1527.7 323.3 1526.9 322.2C1526.2 321 1524.6 319.9 1523.2 318.9C1521.9 318 1520.4 317.1 1519 316.3C1517.5 315.4 1516 314.6 1514.5 313.9C1513.1 313.1 1511.5 312.4 1510 311.6C1508.5 310.9 1507 310.2 1505.4 309.5C1503.9 308.9 1502.4 308.2 1500.8 307.5C1499.3 306.9 1497.7 306.3 1496.1 305.8C1494.5 305.3 1492.9 304.8 1491.2 304.5C1489.6 304.2 1487.3 304 1486.3 304C1485.3 303.9 1486.2 303.8 1485.3 304Z" fill="#eee8cd"/>
<path d="M1405.8 328.2H1651M1528.5 113.8V359.2" fill="none" stroke="#000" stroke-opacity="0.16" stroke-width="0.6" stroke-dasharray="2.5 2"/>
<path d="M1442 358.8L1448 120L1454.8 357.5L1463.2 355.8L1474.5 335L1487.8 326.8L1497.2 323.8L1499.8 318" fill="none" stroke="#000" stroke-opacity="0.85" stroke-width="0.6"/>
<circle cx="1448" cy="120" r="1.7" fill="#000"/>
<circle cx="1454.8" cy="357.5" r="1.7" fill="#000"/>
<circle cx="1474.5" cy="335" r="1.7" fill="#000"/>
<circle cx="1487.8" cy="326.8" r="1.7" fill="#000"/>
<circle cx="1497.2" cy="323.8" r="1.7" fill="#000"/>
</g>
<circle cx="1463.2" cy="355.8" r="2.4" fill="#fff" stroke="#000" stroke-width="0.6"/>
<circle cx="1442" cy="358.8" r="2.4" fill="#fff" stroke="#000" stroke-width="0.6"/>
<path d="M1499.8 314.5 L1503 320.3 L1496.5 320.3 Z" fill="#fff" stroke="#000" stroke-width="0.6"/>
<rect x="1580.2" y="332" width="70" height="27.2" fill="#fff"/>
<text x="1613.2" y="353.6" class="ml" text-anchor="middle">CMSY</text>
<path d="M1405.8 359.8H1651" class="ax"/>
<path d="M1405.8 359.8v4.5" class="ax"/>
<text x="1407" y="380" class="tk" text-anchor="middle">0.0</text>
<path d="M1467.1 359.8v4.5" class="ax"/>
<text x="1468.3" y="380" class="tk" text-anchor="middle">0.5</text>
<path d="M1528.4 359.8v4.5" class="ax"/>
<text x="1529.6" y="380" class="tk" text-anchor="middle">1.0</text>
<path d="M1589.7 359.8v4.5" class="ax"/>
<text x="1590.9" y="380" class="tk" text-anchor="middle">1.5</text>
<path d="M1651 359.8v4.5" class="ax"/>
<text x="1652.2" y="380" class="tk" text-anchor="middle">2.0</text>
<path d="M1405.2 359.2V113.8" class="ax"/>
<path d="M1405.2 359.2h-4.5" class="ax"/>
<text transform="translate(1396 357.6) rotate(-90)" class="tk" text-anchor="middle">0</text>
<path d="M1405.2 297.9h-4.5" class="ax"/>
<text transform="translate(1396 296.3) rotate(-90)" class="tk" text-anchor="middle">2</text>
<path d="M1405.2 236.5h-4.5" class="ax"/>
<text transform="translate(1396 234.9) rotate(-90)" class="tk" text-anchor="middle">4</text>
<path d="M1405.2 175.1h-4.5" class="ax"/>
<text transform="translate(1396 173.5) rotate(-90)" class="tk" text-anchor="middle">6</text>
<path d="M1405.2 113.8h-4.5" class="ax"/>
<text transform="translate(1396 112.2) rotate(-90)" class="tk" text-anchor="middle">8</text>
<text x="1524.2" y="400" class="at" text-anchor="middle">B/B<tspan class="sub" dy="7.6">MSY</tspan></text>
<text transform="translate(1361.5 222.5) rotate(-90)" class="at" text-anchor="middle">F/F<tspan class="sub" dy="7.6">MSY</tspan></text>
<path d="M1669.5 121.5H1698.5" class="ll"/>
<rect x="1680.3" y="117.8" width="7.4" height="7.4" class="lm"/>
<text x="1714" y="126.8" class="lt">2012</text>
<path d="M1669.5 141.2H1698.5" class="ll"/>
<circle cx="1684" cy="141.2" r="4.3" class="lm"/>
<text x="1714" y="146.5" class="lt">2015</text>
<path d="M1669.5 160.9H1698.5" class="ll"/>
<path d="M1684 154.6L1689.7 164.5L1678.3 164.5Z" class="lm"/>
<text x="1714" y="166.2" class="lt">2019</text>
<rect x="1678.8" y="175.5" width="10.4" height="10.4" fill="#eee8cd" class="lb"/>
<text x="1714" y="186" class="lt">50% C.I.</text>
<rect x="1678.8" y="195.2" width="10.4" height="10.4" fill="#bebebe" class="lb"/>
<text x="1714" y="205.7" class="lt">80% C.I.</text>
<rect x="1678.8" y="214.9" width="10.4" height="10.4" fill="#8b8878" class="lb"/>
<text x="1714" y="225.4" class="lt">95% C.I.</text>
<rect x="1677.5" y="233.3" width="13" height="13" fill="#ff0000" class="lq"/>
<text x="1714" y="245.1" class="lt">82.3%</text>
<rect x="1677.5" y="253" width="13" height="13" fill="#ffff00" class="lq"/>
<text x="1714" y="264.8" class="lt">6.2%</text>
<rect x="1677.5" y="272.8" width="13" height="13" fill="#ffa500" class="lq"/>
<text x="1714" y="284.6" class="lt">3.7%</text>
<rect x="1677.5" y="292.5" width="13" height="13" fill="#00ff00" class="lq"/>
<text x="1714" y="304.3" class="lt">7.7%</text>
</g>
<g>
<clipPath id="c10"><rect x="1403.2" y="422" width="245.8" height="245.5"/></clipPath>
<rect x="1403.2" y="422" width="122.8" height="122.5" fill="#ff0000"/>
<rect x="1526" y="422" width="123" height="122.5" fill="#ffa500"/>
<rect x="1403.2" y="544.5" width="122.8" height="123" fill="#ffff00"/>
<rect x="1526" y="544.5" width="123" height="123" fill="#00ff00"/>
<g clip-path="url(#c10)">
<path d="M1455.8 424.4C1456.5 424.8 1458.3 425.6 1459.3 426.7C1460.3 427.8 1461.1 429.5 1461.9 430.9C1462.6 432.4 1463.2 434 1463.8 435.5C1464.4 437.1 1464.8 438.7 1465.3 440.3C1465.8 441.9 1466.3 443.5 1466.8 445.1C1467.2 446.7 1467.7 448.3 1468.2 449.9C1468.7 451.5 1469.1 453.1 1469.6 454.7C1470.1 456.3 1470.5 457.9 1471 459.5C1471.5 461.1 1471.9 462.7 1472.4 464.3C1472.9 465.8 1473.5 467.4 1474 469C1474.6 470.6 1475.2 472.1 1475.8 473.7C1476.5 475.2 1477.1 476.7 1477.8 478.3C1478.5 479.8 1479.1 481.3 1479.8 482.8C1480.6 484.3 1481.3 485.8 1482.1 487.3C1482.8 488.8 1483.7 490.2 1484.5 491.6C1485.4 493.1 1486.3 494.4 1487.3 495.8C1488.2 497.2 1489.2 498.5 1490.2 499.9C1491.2 501.2 1492.1 502.6 1493.1 503.9C1494.1 505.3 1495 506.7 1495.9 508.1C1496.9 509.4 1497.8 510.8 1498.8 512.2C1499.8 513.5 1500.8 514.9 1501.8 516.2C1502.8 517.5 1503.8 518.8 1504.8 520.1C1505.9 521.5 1506.9 522.8 1508 524C1509 525.3 1510.1 526.6 1511.2 527.9C1512.3 529.1 1513.4 530.4 1514.5 531.6C1515.6 532.8 1516.8 534 1517.9 535.3C1519 536.5 1520.1 537.8 1521.2 539C1522.3 540.3 1523.4 541.6 1524.4 542.9C1525.5 544.1 1526.5 545.4 1527.6 546.8C1528.6 548.1 1529.6 549.4 1530.6 550.7C1531.6 552 1532.6 553.4 1533.6 554.8C1534.5 556.1 1535.5 557.5 1536.4 558.9C1537.4 560.2 1538.3 561.6 1539.3 563C1540.2 564.3 1541.2 565.7 1542.1 567.1C1543.1 568.4 1544 569.8 1545 571.2C1545.9 572.5 1546.9 573.9 1547.9 575.3C1548.8 576.6 1549.8 578 1550.8 579.3C1551.7 580.7 1552.7 582.1 1553.6 583.4C1554.6 584.8 1555.5 586.2 1556.4 587.6C1557.4 589 1558.3 590.4 1559.2 591.8C1560 593.2 1560.9 594.6 1561.7 596.1C1562.5 597.5 1563.3 599 1564 600.5C1564.7 602 1565.4 603.5 1566 605.1C1566.6 606.7 1567.1 608.2 1567.4 609.9C1567.8 611.5 1568 613.2 1568 614.8C1568.1 616.5 1568 618.1 1567.8 619.8C1567.5 621.4 1567.2 623.1 1566.5 624.5C1565.8 626 1564.9 627.5 1563.8 628.5C1562.6 629.6 1561.1 630.4 1559.6 631.1C1558.1 631.9 1556.5 632.4 1554.9 632.9C1553.4 633.4 1551.7 633.8 1550.1 634.2C1548.5 634.6 1546.9 634.9 1545.2 635.1C1543.6 635.2 1541.9 635.3 1540.2 635.2C1538.6 635.1 1536.9 634.7 1535.3 634.4C1533.7 634 1532.2 633.4 1530.6 632.8C1529 632.3 1527.5 631.6 1526 631C1524.4 630.3 1522.9 629.6 1521.4 628.8C1520 628 1518.5 627.2 1517.2 626.3C1515.8 625.4 1514.4 624.4 1513.1 623.4C1511.7 622.4 1510.4 621.4 1509.1 620.4C1507.8 619.3 1506.5 618.3 1505.2 617.2C1503.9 616.1 1502.7 615 1501.4 613.9C1500.2 612.8 1499 611.7 1497.8 610.5C1496.6 609.3 1495.4 608.1 1494.3 606.9C1493.2 605.7 1492.1 604.4 1491 603.2C1489.9 601.9 1488.8 600.6 1487.8 599.3C1486.7 598.1 1485.6 596.8 1484.6 595.5C1483.5 594.2 1482.4 592.9 1481.4 591.6C1480.4 590.3 1479.4 589 1478.4 587.6C1477.5 586.3 1476.5 584.9 1475.6 583.5C1474.8 582.1 1473.9 580.6 1473.1 579.2C1472.3 577.7 1471.5 576.3 1470.7 574.8C1469.9 573.3 1469.2 571.8 1468.5 570.3C1467.8 568.8 1467.1 567.3 1466.4 565.7C1465.8 564.2 1465.2 562.6 1464.6 561.1C1464 559.5 1463.4 558 1462.9 556.4C1462.4 554.8 1461.9 553.2 1461.4 551.6C1461 550 1460.5 548.4 1460.1 546.8C1459.7 545.2 1459.4 543.5 1459 541.9C1458.7 540.3 1458.3 538.6 1458 537C1457.7 535.4 1457.5 533.7 1457.2 532.1C1457 530.4 1456.7 528.8 1456.5 527.1C1456.2 525.5 1456 523.8 1455.8 522.2C1455.5 520.5 1455.3 518.9 1455.1 517.2C1454.9 515.6 1454.7 513.9 1454.5 512.2C1454.2 510.6 1454 508.9 1453.9 507.3C1453.7 505.6 1453.5 504 1453.3 502.3C1453.1 500.7 1453 499 1452.8 497.3C1452.6 495.7 1452.5 494 1452.3 492.4C1452.1 490.7 1452 489 1451.8 487.4C1451.6 485.7 1451.5 484.1 1451.3 482.4C1451.1 480.7 1451 479.1 1450.8 477.4C1450.7 475.8 1450.5 474.1 1450.4 472.4C1450.3 470.8 1450.2 469.1 1450 467.5C1449.9 465.8 1449.8 464.1 1449.7 462.5C1449.6 460.8 1449.5 459.1 1449.4 457.5C1449.3 455.8 1449.3 454.1 1449.2 452.5C1449.2 450.8 1449.1 449.1 1449.2 447.5C1449.2 445.8 1449.3 444.1 1449.4 442.5C1449.5 440.8 1449.6 439.2 1449.8 437.5C1450 435.9 1450.2 434.2 1450.7 432.6C1451.1 431 1451.6 429.2 1452.3 427.9C1453 426.6 1454.5 425.2 1455.1 424.6C1455.7 424 1455.1 424.1 1455.8 424.4Z" fill="#8b8878"/>
<path d="M1474.6 513.7C1475.5 514 1477.3 514.8 1478.5 515.7C1479.8 516.6 1480.9 518 1482.1 519.1C1483.4 520.2 1484.7 521.2 1486 522.2C1487.3 523.3 1488.7 524.2 1490 525.2C1491.4 526.2 1492.6 527.3 1493.9 528.4C1495.2 529.5 1496.4 530.6 1497.7 531.7C1498.9 532.8 1500.2 533.9 1501.4 535.1C1502.6 536.2 1503.8 537.4 1505 538.5C1506.2 539.7 1507.4 540.8 1508.6 542C1509.8 543.1 1511 544.3 1512.2 545.5C1513.4 546.7 1514.6 547.9 1515.7 549.1C1516.9 550.3 1518 551.5 1519.2 552.7C1520.3 553.9 1521.5 555.2 1522.6 556.4C1523.7 557.6 1524.8 558.9 1525.9 560.1C1527 561.4 1528.1 562.7 1529.2 563.9C1530.3 565.2 1531.3 566.5 1532.4 567.8C1533.4 569.1 1534.5 570.4 1535.5 571.7C1536.5 573 1537.5 574.4 1538.5 575.7C1539.5 577 1540.5 578.4 1541.5 579.7C1542.5 581.1 1543.4 582.5 1544.4 583.9C1545.3 585.2 1546.2 586.6 1547.1 588C1548.1 589.4 1549 590.8 1549.9 592.2C1550.7 593.7 1551.6 595.1 1552.4 596.5C1553.2 598 1553.9 599.5 1554.6 601.1C1555.2 602.6 1555.8 604.2 1556.3 605.8C1556.7 607.4 1557.1 609 1557.3 610.6C1557.5 612.3 1557.7 614 1557.4 615.6C1557.2 617.1 1556.6 618.7 1555.6 619.9C1554.7 621.1 1553.1 622 1551.7 622.8C1550.3 623.6 1548.7 624.2 1547.1 624.8C1545.6 625.3 1543.9 625.8 1542.3 626.2C1540.7 626.5 1539 626.8 1537.4 626.8C1535.8 626.7 1534.1 626.5 1532.5 626C1531 625.5 1529.5 624.7 1528 624C1526.5 623.3 1525.1 622.4 1523.6 621.5C1522.2 620.7 1520.7 619.9 1519.3 619C1517.8 618.2 1516.4 617.3 1515 616.3C1513.6 615.4 1512.3 614.5 1510.9 613.5C1509.6 612.4 1508.3 611.4 1507 610.3C1505.8 609.2 1504.6 608.1 1503.4 606.9C1502.2 605.8 1501 604.6 1499.9 603.3C1498.7 602.1 1497.6 600.9 1496.5 599.6C1495.4 598.4 1494.3 597.1 1493.2 595.9C1492.1 594.6 1491.1 593.3 1490.1 592C1489 590.6 1488 589.3 1487 587.9C1486.1 586.6 1485.1 585.2 1484.2 583.8C1483.2 582.4 1482.3 581 1481.5 579.6C1480.6 578.2 1479.7 576.8 1478.9 575.3C1478.1 573.9 1477.3 572.4 1476.5 570.9C1475.7 569.4 1475 568 1474.3 566.4C1473.6 564.9 1472.9 563.4 1472.3 561.8C1471.8 560.2 1471.3 558.7 1470.8 557.1C1470.3 555.5 1469.9 553.8 1469.5 552.2C1469.1 550.6 1468.8 549 1468.5 547.3C1468.2 545.7 1467.9 544 1467.7 542.4C1467.5 540.7 1467.3 539 1467.2 537.4C1467.2 535.7 1467.1 534 1467.1 532.4C1467.2 530.7 1467.2 529 1467.4 527.4C1467.6 525.7 1467.8 524 1468.2 522.5C1468.7 520.9 1469.3 519.2 1470.1 517.9C1470.9 516.5 1472.3 514.9 1473.1 514.2C1473.8 513.5 1473.7 513.5 1474.6 513.7Z" fill="#bebebe"/>
<path d="M1496.2 556.6C1497.3 556.7 1499.3 557.2 1500.8 557.9C1502.3 558.5 1503.7 559.5 1505.1 560.4C1506.5 561.3 1507.9 562.3 1509.2 563.3C1510.6 564.3 1511.9 565.3 1513.2 566.3C1514.6 567.4 1515.9 568.4 1517.2 569.5C1518.5 570.5 1519.8 571.6 1521 572.7C1522.3 573.8 1523.5 575 1524.7 576.2C1525.8 577.3 1527 578.6 1528.1 579.8C1529.3 581 1530.4 582.3 1531.5 583.5C1532.6 584.8 1533.6 586.1 1534.7 587.4C1535.8 588.7 1536.8 590 1537.8 591.4C1538.8 592.7 1539.8 594 1540.7 595.5C1541.6 596.9 1542.5 598.3 1543.2 599.8C1543.9 601.3 1544.5 602.9 1545 604.5C1545.6 606 1546.1 607.7 1546.2 609.3C1546.4 610.9 1546.4 612.7 1545.7 613.9C1545.1 615.2 1543.6 616.2 1542.2 617C1540.9 617.8 1539.1 618.3 1537.5 618.5C1535.9 618.8 1534.2 618.8 1532.6 618.6C1531 618.4 1529.4 617.8 1527.8 617.3C1526.2 616.7 1524.7 616.1 1523.1 615.4C1521.6 614.7 1520 614.1 1518.6 613.3C1517.1 612.5 1515.8 611.5 1514.4 610.5C1513.1 609.5 1511.8 608.4 1510.5 607.3C1509.2 606.2 1508 605.1 1506.8 604C1505.6 602.8 1504.4 601.6 1503.2 600.4C1502.1 599.2 1501 597.9 1500 596.6C1498.9 595.3 1497.9 594 1497 592.6C1496.1 591.2 1495.2 589.8 1494.4 588.3C1493.6 586.8 1492.9 585.3 1492.2 583.7C1491.6 582.2 1491 580.6 1490.6 579C1490.1 577.4 1489.6 575.8 1489.2 574.2C1488.9 572.5 1488.7 570.9 1488.6 569.2C1488.5 567.6 1488.4 565.8 1488.7 564.2C1489.1 562.7 1489.6 561 1490.6 559.8C1491.5 558.6 1493.4 557.5 1494.4 556.9C1495.3 556.4 1495.1 556.4 1496.2 556.6Z" fill="#eee8cd"/>
<path d="M1403.2 544.5H1649M1526 422V667.5" fill="none" stroke="#000" stroke-opacity="0.16" stroke-width="0.6" stroke-dasharray="2.5 2"/>
<path d="M1443 452.5L1445.2 464.2L1446.8 505.8L1451.5 552.5L1460.2 575L1475.8 578.5L1494.2 579.5L1511.5 583.5" fill="none" stroke="#000" stroke-opacity="0.85" stroke-width="0.6"/>
<circle cx="1445.2" cy="464.2" r="1.7" fill="#000"/>
<circle cx="1446.8" cy="505.8" r="1.7" fill="#000"/>
<circle cx="1460.2" cy="575" r="1.7" fill="#000"/>
<circle cx="1475.8" cy="578.5" r="1.7" fill="#000"/>
<circle cx="1494.2" cy="579.5" r="1.7" fill="#000"/>
</g>
<rect x="1441" y="450.5" width="4" height="4" fill="#fff" stroke="#000" stroke-width="0.6"/>
<circle cx="1451.5" cy="552.5" r="2.4" fill="#fff" stroke="#000" stroke-width="0.6"/>
<path d="M1511.5 580 L1514.7 585.8 L1508.3 585.8 Z" fill="#fff" stroke="#000" stroke-width="0.6"/>
<rect x="1405.2" y="637.5" width="53.2" height="29.2" fill="#fff"/>
<text x="1430" y="659.1" class="ml" text-anchor="middle">BSM</text>
<path d="M1403.2 668H1649" class="ax"/>
<path d="M1403.2 668v4.5" class="ax"/>
<text x="1403.5" y="685.8" class="tk" text-anchor="middle">0.0</text>
<path d="M1464.7 668v4.5" class="ax"/>
<text x="1464.9" y="685.8" class="tk" text-anchor="middle">0.5</text>
<path d="M1526.1 668v4.5" class="ax"/>
<text x="1526.3" y="685.8" class="tk" text-anchor="middle">1.0</text>
<path d="M1587.6 668v4.5" class="ax"/>
<text x="1587.8" y="685.8" class="tk" text-anchor="middle">1.5</text>
<path d="M1649 668v4.5" class="ax"/>
<text x="1649.2" y="685.8" class="tk" text-anchor="middle">2.0</text>
<path d="M1402.8 667.5V422" class="ax"/>
<path d="M1402.8 667.5h-4.5" class="ax"/>
<text transform="translate(1391.5 660.8) rotate(-90)" class="tk" text-anchor="middle">0.0</text>
<path d="M1402.8 606.1h-4.5" class="ax"/>
<text transform="translate(1391.5 599.4) rotate(-90)" class="tk" text-anchor="middle">0.5</text>
<path d="M1402.8 544.8h-4.5" class="ax"/>
<text transform="translate(1391.5 538) rotate(-90)" class="tk" text-anchor="middle">1.0</text>
<path d="M1402.8 483.4h-4.5" class="ax"/>
<text transform="translate(1391.5 476.7) rotate(-90)" class="tk" text-anchor="middle">1.5</text>
<path d="M1402.8 422h-4.5" class="ax"/>
<text transform="translate(1391.5 415.3) rotate(-90)" class="tk" text-anchor="middle">2.0</text>
<text x="1526" y="710.5" class="at" text-anchor="middle">B/B<tspan class="sub" dy="7.6">MSY</tspan></text>
<text transform="translate(1361.5 528) rotate(-90)" class="at" text-anchor="middle">F/F<tspan class="sub" dy="7.6">MSY</tspan></text>
<path d="M1669.5 428.3H1698.5" class="ll"/>
<rect x="1680.3" y="424.6" width="7.4" height="7.4" class="lm"/>
<text x="1714" y="433.6" class="lt">2012</text>
<path d="M1669.5 448H1698.5" class="ll"/>
<circle cx="1684" cy="448" r="4.3" class="lm"/>
<text x="1714" y="453.3" class="lt">2015</text>
<path d="M1669.5 467.7H1698.5" class="ll"/>
<path d="M1684 461.4L1689.7 471.3L1678.3 471.3Z" class="lm"/>
<text x="1714" y="473" class="lt">2019</text>
<rect x="1678.8" y="482.3" width="10.4" height="10.4" fill="#eee8cd" class="lb"/>
<text x="1714" y="492.8" class="lt">50% C.I.</text>
<rect x="1678.8" y="502" width="10.4" height="10.4" fill="#bebebe" class="lb"/>
<text x="1714" y="512.5" class="lt">80% C.I.</text>
<rect x="1678.8" y="521.7" width="10.4" height="10.4" fill="#8b8878" class="lb"/>
<text x="1714" y="532.2" class="lt">95% C.I.</text>
<rect x="1677.5" y="540.1" width="13" height="13" fill="#ff0000" class="lq"/>
<text x="1714" y="551.9" class="lt">17.5%</text>
<rect x="1677.5" y="559.8" width="13" height="13" fill="#ffff00" class="lq"/>
<text x="1714" y="571.6" class="lt">54.2%</text>
<rect x="1677.5" y="579.6" width="13" height="13" fill="#ffa500" class="lq"/>
<text x="1714" y="591.4" class="lt">0%</text>
<rect x="1677.5" y="599.3" width="13" height="13" fill="#00ff00" class="lq"/>
<text x="1714" y="611.1" class="lt">28.3%</text>
</g>
<g>
<clipPath id="c11"><rect x="1397" y="732.5" width="254.6" height="254"/></clipPath>
<rect x="1397" y="732.5" width="82.8" height="126.8" fill="#ff0000"/>
<rect x="1479.8" y="732.5" width="171.8" height="126.8" fill="#ffa500"/>
<rect x="1397" y="859.2" width="82.8" height="127.2" fill="#ffff00"/>
<rect x="1479.8" y="859.2" width="171.8" height="127.2" fill="#00ff00"/>
<g clip-path="url(#c11)">
<path d="M1468.1 901.5C1469.6 900.9 1471.3 900.7 1472.9 900.6C1474.6 900.4 1476.3 900.4 1477.9 900.6C1479.6 900.8 1481.2 901.1 1482.8 901.6C1484.4 902 1485.9 902.7 1487.4 903.5C1488.9 904.2 1490.2 905.2 1491.6 906.2C1492.9 907.1 1494.2 908.2 1495.5 909.3C1496.7 910.4 1497.9 911.6 1499.1 912.7C1500.3 913.9 1501.4 915.1 1502.6 916.3C1503.7 917.5 1504.9 918.8 1506.1 919.9C1507.3 921.1 1508.5 922.2 1509.7 923.3C1511 924.4 1512.4 925.4 1513.7 926.3C1515.1 927.3 1516.5 928.2 1517.9 929.1C1519.2 930.1 1520.7 931 1522.1 931.9C1523.5 932.7 1524.9 933.6 1526.3 934.5C1527.7 935.4 1529.2 936.2 1530.6 937.1C1532 937.9 1533.4 938.8 1534.9 939.5C1536.4 940.2 1538 940.8 1539.6 941.3C1541.2 941.8 1542.8 942.1 1544.4 942.7C1545.9 943.4 1547.4 944.1 1548.8 945C1550.2 945.9 1551.5 946.9 1552.8 947.9C1554.2 948.9 1555.4 950 1556.7 951C1558.1 952 1559.4 953 1560.8 953.9C1562.2 954.8 1563.7 955.6 1565.1 956.4C1566.6 957.3 1568.1 958 1569.5 958.8C1571 959.6 1572.5 960.3 1574 961.1C1575.5 961.8 1577 962.5 1578.5 963.2C1580 963.9 1581.6 964.6 1583.1 965.2C1584.6 965.9 1586.2 966.5 1587.7 967.1C1589.3 967.8 1590.8 968.4 1592.4 968.9C1594 969.5 1595.5 970.1 1597.1 970.7C1598.7 971.2 1600.2 971.8 1601.8 972.3C1603.4 972.8 1605 973.3 1606.6 973.8C1608.2 974.3 1609.8 974.7 1611.4 975.1C1613 975.5 1615 975.9 1616.2 976.5C1617.3 977.1 1618.7 978.1 1618.6 978.8C1618.4 979.5 1616.7 980.2 1615.3 980.7C1614 981.1 1612.1 981.3 1610.4 981.5C1608.8 981.8 1607.1 981.9 1605.5 982C1603.8 982.1 1602.1 982.2 1600.5 982.3C1598.8 982.5 1597.1 982.6 1595.5 982.7C1593.8 982.8 1592.1 982.8 1590.5 982.9C1588.8 983 1587.1 983.1 1585.5 983.2C1583.8 983.3 1582.1 983.3 1580.5 983.4C1578.8 983.5 1577.1 983.5 1575.5 983.6C1573.8 983.7 1572.1 983.7 1570.5 983.8C1568.8 983.8 1567.1 983.9 1565.5 983.9C1563.8 984 1562.1 984 1560.5 984.1C1558.8 984.1 1557.1 984.1 1555.5 984.2C1553.8 984.2 1552.1 984.3 1550.5 984.3C1548.8 984.4 1547.1 984.4 1545.5 984.4C1543.8 984.5 1542.1 984.5 1540.5 984.5C1538.8 984.6 1537.1 984.6 1535.5 984.6C1533.8 984.7 1532.1 984.7 1530.5 984.7C1528.8 984.7 1527.1 984.8 1525.5 984.8C1523.8 984.8 1522.1 984.8 1520.5 984.8C1518.8 984.8 1517.1 984.8 1515.5 984.8C1513.8 984.8 1512.1 984.8 1510.5 984.8C1508.8 984.8 1507.1 984.8 1505.4 984.8C1503.8 984.8 1502.1 984.7 1500.4 984.7C1498.8 984.7 1497.1 984.7 1495.4 984.7C1493.8 984.7 1492.1 984.7 1490.4 984.6C1488.8 984.6 1487.1 984.6 1485.4 984.5C1483.8 984.4 1482.1 984.3 1480.4 984.2C1478.8 984.1 1477.1 983.9 1475.5 983.7C1473.8 983.6 1472.2 983.3 1470.5 983.1C1468.9 982.8 1467.2 982.5 1465.6 982.2C1463.9 981.9 1462.3 981.6 1460.7 981.2C1459 980.9 1457.4 980.5 1455.8 980.1C1454.2 979.6 1452.6 979.1 1451 978.6C1449.5 978 1447.9 977.4 1446.4 976.7C1444.9 976 1443.4 975.2 1442.2 974.1C1440.9 973.1 1439.7 971.9 1439 970.5C1438.2 969.1 1437.8 967.4 1437.6 965.8C1437.4 964.2 1437.5 962.5 1437.7 960.9C1437.8 959.2 1438.1 957.6 1438.5 955.9C1438.8 954.3 1439.3 952.7 1439.7 951.1C1440.1 949.5 1440.5 947.8 1440.9 946.2C1441.2 944.6 1441.5 942.9 1441.8 941.3C1442.2 939.7 1442.5 938 1442.9 936.4C1443.2 934.8 1443.6 933.1 1444 931.5C1444.4 929.9 1444.9 928.3 1445.5 926.8C1446 925.2 1446.6 923.6 1447.3 922.1C1448 920.6 1448.7 919.1 1449.6 917.7C1450.5 916.3 1451.5 915 1452.6 913.7C1453.6 912.4 1454.8 911.2 1456 910.1C1457.2 908.9 1458.4 907.8 1459.7 906.7C1461 905.6 1462.3 904.5 1463.7 903.7C1465.1 902.8 1466.5 902 1468.1 901.5Z" fill="#8b8878"/>
<path d="M1470.5 932.6C1471.5 932.5 1473.8 932 1475.5 931.9C1477.1 931.8 1478.8 931.8 1480.4 931.8C1482.1 931.9 1483.8 932 1485.4 932.3C1487.1 932.5 1488.7 932.8 1490.3 933.2C1491.9 933.6 1493.5 934.1 1495.1 934.6C1496.7 935.2 1498.2 935.9 1499.7 936.5C1501.3 937.2 1502.8 937.9 1504.2 938.7C1505.7 939.4 1507.2 940.2 1508.6 941C1510.1 941.9 1511.5 942.7 1513 943.5C1514.4 944.3 1515.9 945.2 1517.4 946C1518.8 946.8 1520.3 947.6 1521.7 948.4C1523.2 949.2 1524.6 950 1526.1 950.8C1527.6 951.6 1529 952.4 1530.5 953.3C1531.9 954.1 1533.4 954.9 1534.8 955.7C1536.3 956.5 1537.7 957.3 1539.2 958.1C1540.7 958.9 1542.1 959.8 1543.6 960.6C1545 961.4 1546.5 962.2 1548 963C1549.4 963.7 1550.9 964.5 1552.4 965.2C1553.9 966 1555.4 966.7 1556.9 967.4C1558.4 968.1 1559.9 968.8 1561.5 969.5C1563 970.2 1564.5 970.9 1566 971.6C1567.5 972.2 1569.1 972.9 1570.6 973.5C1572.1 974.2 1574 974.7 1575.2 975.5C1576.4 976.2 1577.8 977.3 1577.7 978C1577.7 978.8 1576 979.5 1574.7 980C1573.4 980.5 1571.5 980.6 1569.8 980.8C1568.2 981 1566.5 981.1 1564.8 981.2C1563.2 981.3 1561.5 981.4 1559.8 981.4C1558.2 981.5 1556.5 981.6 1554.8 981.6C1553.2 981.7 1551.5 981.7 1549.8 981.8C1548.2 981.8 1546.5 981.9 1544.8 981.9C1543.2 982 1541.5 982 1539.8 982.1C1538.2 982.1 1536.5 982.1 1534.8 982.2C1533.2 982.2 1531.5 982.2 1529.8 982.3C1528.2 982.3 1526.5 982.3 1524.8 982.3C1523.2 982.3 1521.5 982.3 1519.8 982.3C1518.2 982.3 1516.5 982.3 1514.8 982.3C1513.2 982.3 1511.5 982.3 1509.8 982.2C1508.2 982.2 1506.5 982.2 1504.8 982.2C1503.2 982.1 1501.5 982.1 1499.8 982.1C1498.2 982 1496.5 982 1494.8 981.9C1493.2 981.9 1491.5 981.8 1489.8 981.7C1488.2 981.6 1486.5 981.6 1484.8 981.5C1483.2 981.4 1481.5 981.3 1479.8 981.2C1478.2 981 1476.5 980.9 1474.9 980.7C1473.2 980.5 1471.6 980.3 1469.9 980C1468.3 979.7 1466.6 979.4 1465 978.9C1463.4 978.5 1461.8 978 1460.3 977.3C1458.8 976.6 1457.3 975.8 1456.1 974.8C1454.9 973.7 1453.7 972.5 1453 971C1452.3 969.6 1452.1 967.9 1451.9 966.3C1451.8 964.7 1452 963 1452.2 961.3C1452.4 959.7 1452.7 958.1 1453.1 956.4C1453.5 954.8 1454.1 953.2 1454.6 951.7C1455.2 950.1 1455.8 948.5 1456.5 947C1457.2 945.5 1457.9 944 1458.8 942.6C1459.6 941.2 1460.6 939.8 1461.6 938.5C1462.7 937.3 1463.9 936 1465.2 935.1C1466.5 934.2 1468.7 933.3 1469.6 932.9C1470.5 932.5 1469.6 932.8 1470.5 932.6Z" fill="#bebebe"/>
<path d="M1475.5 951.9C1477.1 951.6 1478.9 951.6 1480.5 951.6C1482.2 951.6 1483.9 951.7 1485.5 951.8C1487.2 952 1488.9 952.2 1490.5 952.5C1492.2 952.8 1493.8 953.1 1495.4 953.5C1497 953.9 1498.7 954.4 1500.2 954.9C1501.8 955.4 1503.4 956 1505 956.6C1506.6 957.2 1508.1 957.8 1509.7 958.5C1511.2 959.1 1512.7 959.8 1514.3 960.5C1515.8 961.1 1517.3 961.8 1518.9 962.5C1520.4 963.2 1521.9 963.9 1523.4 964.6C1525 965.3 1526.5 965.9 1528 966.6C1529.5 967.3 1531.1 968 1532.6 968.7C1534.1 969.4 1535.7 970 1537.2 970.7C1538.7 971.4 1540.4 972 1541.8 972.7C1543.2 973.4 1545.2 974.2 1545.6 975C1546.1 975.8 1545.5 976.7 1544.5 977.2C1543.5 977.8 1541.4 978 1539.8 978.2C1538.2 978.5 1536.5 978.6 1534.8 978.7C1533.1 978.9 1531.4 979 1529.8 979.1C1528.1 979.2 1526.4 979.3 1524.8 979.4C1523.1 979.5 1521.4 979.5 1519.7 979.6C1518.1 979.6 1516.4 979.7 1514.7 979.7C1513 979.7 1511.4 979.8 1509.7 979.8C1508 979.8 1506.3 979.8 1504.7 979.8C1503 979.8 1501.3 979.8 1499.6 979.8C1498 979.7 1496.3 979.7 1494.6 979.6C1492.9 979.5 1491.3 979.5 1489.6 979.4C1487.9 979.2 1486.2 979.1 1484.6 978.9C1482.9 978.7 1481.3 978.5 1479.6 978.2C1478 977.9 1476.3 977.5 1474.7 977C1473.2 976.4 1471.6 975.8 1470.3 974.9C1469 973.9 1467.7 972.7 1466.8 971.4C1466 970 1465.4 968.4 1465.2 966.8C1465 965.2 1465.3 963.5 1465.7 961.9C1466.2 960.4 1466.9 958.8 1467.8 957.4C1468.6 956.1 1469.8 954.7 1471.1 953.8C1472.4 952.9 1474 952.3 1475.5 951.9Z" fill="#eee8cd"/>
<path d="M1397 859.2H1651.6M1479.8 732.5V986.5" fill="none" stroke="#000" stroke-opacity="0.16" stroke-width="0.6" stroke-dasharray="2.5 2"/>
<path d="M1417.2 878.2L1422.2 793.8L1413.8 766.8L1411 849.5L1431 941L1459.5 948.2L1486.2 949L1499.8 964.2" fill="none" stroke="#000" stroke-opacity="0.85" stroke-width="0.6"/>
<circle cx="1422.2" cy="793.8" r="1.7" fill="#000"/>
<circle cx="1413.8" cy="766.8" r="1.7" fill="#000"/>
<circle cx="1411" cy="849.5" r="1.7" fill="#000"/>
<circle cx="1431" cy="941" r="1.7" fill="#000"/>
<circle cx="1459.5" cy="948.2" r="1.7" fill="#000"/>
<circle cx="1486.2" cy="949" r="1.7" fill="#000"/>
</g>
<rect x="1415.2" y="876.2" width="4" height="4" fill="#fff" stroke="#000" stroke-width="0.6"/>
<path d="M1499.8 960.8 L1503 966.5 L1496.5 966.5 Z" fill="#fff" stroke="#000" stroke-width="0.6"/>
<rect x="1579.8" y="841.5" width="70.5" height="28" fill="#fff"/>
<text x="1614.4" y="863.9" class="ml" text-anchor="middle">AMSY</text>
<path d="M1397 988.4H1645.5" class="ax"/>
<path d="M1397 988.4v4.5" class="ax"/>
<text x="1398.2" y="1006.8" class="tk" text-anchor="middle">0.0</text>
<path d="M1438.4 988.4v4.5" class="ax"/>
<text x="1439.6" y="1006.8" class="tk" text-anchor="middle">0.5</text>
<path d="M1479.8 988.4v4.5" class="ax"/>
<text x="1481" y="1006.8" class="tk" text-anchor="middle">1.0</text>
<path d="M1521.3 988.4v4.5" class="ax"/>
<text x="1522.5" y="1006.8" class="tk" text-anchor="middle">1.5</text>
<path d="M1562.7 988.4v4.5" class="ax"/>
<text x="1563.9" y="1006.8" class="tk" text-anchor="middle">2.0</text>
<path d="M1604.1 988.4v4.5" class="ax"/>
<text x="1605.3" y="1006.8" class="tk" text-anchor="middle">2.5</text>
<path d="M1645.5 988.4v4.5" class="ax"/>
<text x="1646.7" y="1006.8" class="tk" text-anchor="middle">3.0</text>
<path d="M1396.5 986.2V732.5" class="ax"/>
<path d="M1396.5 986.2h-4.5" class="ax"/>
<text transform="translate(1387 979.2) rotate(-90)" class="tk" text-anchor="middle">0.0</text>
<path d="M1396.5 922.8h-4.5" class="ax"/>
<text transform="translate(1387 922.1) rotate(-90)" class="tk" text-anchor="middle">0.5</text>
<path d="M1396.5 859.4h-4.5" class="ax"/>
<text transform="translate(1387 858.9) rotate(-90)" class="tk" text-anchor="middle">1.0</text>
<path d="M1396.5 795.9h-4.5" class="ax"/>
<text transform="translate(1387 795.9) rotate(-90)" class="tk" text-anchor="middle">1.5</text>
<path d="M1396.5 732.5h-4.5" class="ax"/>
<text transform="translate(1387 732.3) rotate(-90)" class="tk" text-anchor="middle">2.0</text>
<text x="1525" y="1033.8" class="at" text-anchor="middle">B/B<tspan class="sub" dy="7.6">MSY</tspan></text>
<text transform="translate(1361.5 837.5) rotate(-90)" class="at" text-anchor="middle">F/F<tspan class="sub" dy="7.6">MSY</tspan></text>
<path d="M1669.5 735.8H1698.5" class="ll"/>
<rect x="1680.3" y="732.1" width="7.4" height="7.4" class="lm"/>
<text x="1714" y="741.1" class="lt">2012</text>
<path d="M1669.5 755.5H1698.5" class="ll"/>
<circle cx="1684" cy="755.5" r="4.3" class="lm"/>
<text x="1714" y="760.8" class="lt">2015.5</text>
<path d="M1669.5 775.2H1698.5" class="ll"/>
<path d="M1684 768.9L1689.7 778.8L1678.3 778.8Z" class="lm"/>
<text x="1714" y="780.5" class="lt">2019</text>
<rect x="1678.8" y="789.8" width="10.4" height="10.4" fill="#eee8cd" class="lb"/>
<text x="1714" y="800.3" class="lt">50% C.I.</text>
<rect x="1678.8" y="809.5" width="10.4" height="10.4" fill="#bebebe" class="lb"/>
<text x="1714" y="820" class="lt">80% C.I.</text>
<rect x="1678.8" y="829.2" width="10.4" height="10.4" fill="#8b8878" class="lb"/>
<text x="1714" y="839.7" class="lt">95% C.I.</text>
<rect x="1677.5" y="847.6" width="13" height="13" fill="#ff0000" class="lq"/>
<text x="1714" y="859.4" class="lt">0.2%</text>
<rect x="1677.5" y="867.3" width="13" height="13" fill="#ffff00" class="lq"/>
<text x="1714" y="879.1" class="lt">24.3%</text>
<rect x="1677.5" y="887.1" width="13" height="13" fill="#ffa500" class="lq"/>
<text x="1714" y="898.9" class="lt">0%</text>
<rect x="1677.5" y="906.8" width="13" height="13" fill="#00ff00" class="lq"/>
<text x="1714" y="918.6" class="lt">75.4%</text>
</g>
</svg>
</body>
</html>
